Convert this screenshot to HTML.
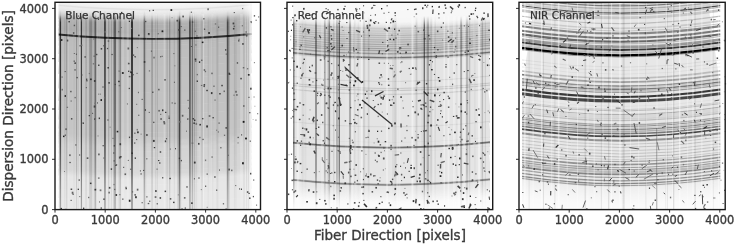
<!DOCTYPE html>
<html><head><meta charset="utf-8"><style>
html,body{margin:0;padding:0;background:#fff;}
body{width:735px;height:244px;overflow:hidden;}
svg{display:block;filter:blur(0.35px);}
</style></head><body>
<svg width="735" height="244" viewBox="0 0 735 244">
<rect width="735" height="244" fill="#fff"/>
<defs><filter id="bl" x="0" y="0" width="1" height="1"><feGaussianBlur stdDeviation="0.4"/></filter><filter id="bd" x="-0.02" y="-0.02" width="1.04" height="1.04"><feGaussianBlur stdDeviation="0.3"/></filter>
<linearGradient id="hg0" x1="0" y1="0" x2="1" y2="0"><stop offset="0" stop-color="#fff" stop-opacity="0"/><stop offset="1" stop-color="#fff" stop-opacity="0.8"/></linearGradient>
<linearGradient id="vg0" x1="0" y1="0" x2="0" y2="1">
<stop offset="0" stop-color="#000" stop-opacity="0"/><stop offset="0.025" stop-color="#000" stop-opacity="0.12"/><stop offset="0.06" stop-color="#000" stop-opacity="1"/>
<stop offset="0.65" stop-color="#000" stop-opacity="0.85"/><stop offset="0.8" stop-color="#000" stop-opacity="0.6"/><stop offset="0.9" stop-color="#000" stop-opacity="0.45"/><stop offset="1" stop-color="#000" stop-opacity="0.35"/>
</linearGradient>
<linearGradient id="vg1" x1="0" y1="0" x2="0" y2="1"><stop offset="0" stop-color="#000" stop-opacity="0"/><stop offset="0.05" stop-color="#000" stop-opacity="1"/><stop offset="0.8" stop-color="#000" stop-opacity="0.8"/><stop offset="0.92" stop-color="#000" stop-opacity="0.2"/><stop offset="1" stop-color="#000" stop-opacity="0"/></linearGradient></defs><clipPath id="c0"><rect x="58.5" y="2.3" width="193.1" height="207.29999999999998"/></clipPath>
<g clip-path="url(#c0)">
<path d="M58.5,-11.62Q155.1,-2.59 251.6,-12.21" stroke="#fafafa" stroke-width="2.10" fill="none"/>
<path d="M58.5,-9.87Q155.1,-0.84 251.6,-10.46" stroke="#f9f9f9" stroke-width="2.60" fill="none"/>
<path d="M58.5,-7.62Q155.1,1.41 251.6,-8.21" stroke="#f8f8f8" stroke-width="3.10" fill="none"/>
<path d="M58.5,-5.12Q155.1,3.91 251.6,-5.71" stroke="#f7f7f7" stroke-width="3.10" fill="none"/>
<path d="M58.5,-2.62Q155.1,6.41 251.6,-3.21" stroke="#f6f6f6" stroke-width="3.10" fill="none"/>
<path d="M58.5,-0.37Q155.1,8.66 251.6,-0.96" stroke="#f5f5f5" stroke-width="2.60" fill="none"/>
<path d="M58.5,1.38Q155.1,10.41 251.6,0.79" stroke="#f4f4f4" stroke-width="2.10" fill="none"/>
<path d="M58.5,2.38Q155.1,11.41 251.6,1.79" stroke="#f3f3f3" stroke-width="1.10" fill="none"/>
<path d="M58.5,3.13Q155.1,12.16 251.6,2.54" stroke="#f2f2f2" stroke-width="1.60" fill="none"/>
<path d="M58.5,3.88Q155.1,12.91 251.6,3.29" stroke="#f1f1f1" stroke-width="1.10" fill="none"/>
<path d="M58.5,4.38Q155.1,13.41 251.6,3.79" stroke="#f0f0f0" stroke-width="1.10" fill="none"/>
<path d="M58.5,4.88Q155.1,13.91 251.6,4.29" stroke="#e9e9e9" stroke-width="1.10" fill="none"/>
<path d="M58.5,5.38Q155.1,14.41 251.6,4.79" stroke="#e2e2e2" stroke-width="1.10" fill="none"/>
<path d="M58.5,5.88Q155.1,14.91 251.6,5.29" stroke="#e1e1e1" stroke-width="1.10" fill="none"/>
<path d="M58.5,6.38Q155.1,15.41 251.6,5.79" stroke="#e7e7e7" stroke-width="1.10" fill="none"/>
<path d="M58.5,6.88Q155.1,15.91 251.6,6.29" stroke="#eeeeee" stroke-width="1.10" fill="none"/>
<path d="M58.5,7.38Q155.1,16.41 251.6,6.79" stroke="#ededed" stroke-width="1.10" fill="none"/>
<path d="M58.5,7.88Q155.1,16.91 251.6,7.29" stroke="#ececec" stroke-width="1.10" fill="none"/>
<path d="M58.5,8.38Q155.1,17.41 251.6,7.79" stroke="#ebebeb" stroke-width="1.10" fill="none"/>
<path d="M58.5,8.88Q155.1,17.91 251.6,8.29" stroke="#eaeaea" stroke-width="1.10" fill="none"/>
<path d="M58.5,9.38Q155.1,18.41 251.6,8.79" stroke="#e8e8e8" stroke-width="1.10" fill="none"/>
<path d="M58.5,9.88Q155.1,18.91 251.6,9.29" stroke="#e7e7e7" stroke-width="1.10" fill="none"/>
<path d="M58.5,10.38Q155.1,19.41 251.6,9.79" stroke="#e6e6e6" stroke-width="1.10" fill="none"/>
<path d="M58.5,10.88Q155.1,19.91 251.6,10.29" stroke="#e4e4e4" stroke-width="1.10" fill="none"/>
<path d="M58.5,11.38Q155.1,20.41 251.6,10.79" stroke="#e1e1e1" stroke-width="1.10" fill="none"/>
<path d="M58.5,11.88Q155.1,20.91 251.6,11.29" stroke="#dfdfdf" stroke-width="1.10" fill="none"/>
<path d="M58.5,12.38Q155.1,21.41 251.6,11.79" stroke="#dcdcdc" stroke-width="1.10" fill="none"/>
<path d="M58.5,12.88Q155.1,21.91 251.6,12.29" stroke="#d9d9d9" stroke-width="1.10" fill="none"/>
<path d="M58.5,13.38Q155.1,22.41 251.6,12.79" stroke="#d7d7d7" stroke-width="1.10" fill="none"/>
<path d="M58.5,13.88Q155.1,22.91 251.6,13.29" stroke="#d4d4d4" stroke-width="1.10" fill="none"/>
<path d="M58.5,14.38Q155.1,23.41 251.6,13.79" stroke="#d0d0d0" stroke-width="1.10" fill="none"/>
<path d="M58.5,14.88Q155.1,23.91 251.6,14.29" stroke="#cdcdcd" stroke-width="1.10" fill="none"/>
<path d="M58.5,15.38Q155.1,24.41 251.6,14.79" stroke="#c9c9c9" stroke-width="1.10" fill="none"/>
<path d="M58.5,15.88Q155.1,24.91 251.6,15.29" stroke="#c5c5c5" stroke-width="1.10" fill="none"/>
<path d="M58.5,16.38Q155.1,25.41 251.6,15.79" stroke="#c2c2c2" stroke-width="1.10" fill="none"/>
<path d="M58.5,16.88Q155.1,25.91 251.6,16.29" stroke="#bebebe" stroke-width="1.10" fill="none"/>
<path d="M58.5,17.38Q155.1,26.41 251.6,16.79" stroke="#bbbbbb" stroke-width="1.10" fill="none"/>
<path d="M58.5,17.88Q155.1,26.91 251.6,17.29" stroke="#b8b8b8" stroke-width="1.10" fill="none"/>
<path d="M58.5,18.38Q155.1,27.41 251.6,17.79" stroke="#b5b5b5" stroke-width="1.10" fill="none"/>
<path d="M58.5,19.38Q155.1,28.41 251.6,18.79" stroke="#b2b2b2" stroke-width="2.10" fill="none"/>
<path d="M58.5,20.88Q155.1,29.91 251.6,20.29" stroke="#b1b1b1" stroke-width="2.10" fill="none"/>
<path d="M58.5,22.88Q155.1,31.91 251.6,22.29" stroke="#b0b0b0" stroke-width="3.10" fill="none"/>
<path d="M58.5,24.88Q155.1,33.91 251.6,24.29" stroke="#afafaf" stroke-width="2.10" fill="none"/>
<path d="M58.5,26.88Q155.1,35.91 251.6,26.29" stroke="#aeaeae" stroke-width="3.10" fill="none"/>
<path d="M58.5,28.63Q155.1,37.66 251.6,28.04" stroke="#adadad" stroke-width="1.60" fill="none"/>
<path d="M58.5,29.38Q155.1,38.41 251.6,28.79" stroke="#aeaeae" stroke-width="1.10" fill="none"/>
<path d="M58.5,29.88Q155.1,38.91 251.6,29.29" stroke="#afafaf" stroke-width="1.10" fill="none"/>
<path d="M58.5,30.38Q155.1,39.41 251.6,29.79" stroke="#b0b0b0" stroke-width="1.10" fill="none"/>
<path d="M58.5,30.88Q155.1,39.91 251.6,30.29" stroke="#b1b1b1" stroke-width="1.10" fill="none"/>
<path d="M58.5,31.63Q155.1,40.66 251.6,31.04" stroke="#b2b2b2" stroke-width="1.60" fill="none"/>
<path d="M58.5,32.38Q155.1,41.41 251.6,31.79" stroke="#b3b3b3" stroke-width="1.10" fill="none"/>
<path d="M58.5,32.88Q155.1,41.91 251.6,32.29" stroke="#b4b4b4" stroke-width="1.10" fill="none"/>
<path d="M58.5,33.38Q155.1,42.41 251.6,32.79" stroke="#b5b5b5" stroke-width="1.10" fill="none"/>
<path d="M58.5,34.13Q155.1,43.16 251.6,33.54" stroke="#b6b6b6" stroke-width="1.60" fill="none"/>
<path d="M58.5,34.88Q155.1,43.91 251.6,34.29" stroke="#b7b7b7" stroke-width="1.10" fill="none"/>
<path d="M58.5,35.88Q155.1,44.91 251.6,35.29" stroke="#b8b8b8" stroke-width="2.10" fill="none"/>
<path d="M58.5,36.88Q155.1,45.91 251.6,36.29" stroke="#b9b9b9" stroke-width="1.10" fill="none"/>
<path d="M58.5,37.88Q155.1,46.91 251.6,37.29" stroke="#bababa" stroke-width="2.10" fill="none"/>
<path d="M58.5,38.88Q155.1,47.91 251.6,38.29" stroke="#bbbbbb" stroke-width="1.10" fill="none"/>
<path d="M58.5,39.88Q155.1,48.91 251.6,39.29" stroke="#bcbcbc" stroke-width="2.10" fill="none"/>
<path d="M58.5,42.88Q155.1,51.91 251.6,42.29" stroke="#bdbdbd" stroke-width="5.10" fill="none"/>
<path d="M58.5,49.38Q155.1,58.41 251.6,48.79" stroke="#bebebe" stroke-width="9.10" fill="none"/>
<path d="M58.5,57.63Q155.1,66.66 251.6,57.04" stroke="#bfbfbf" stroke-width="8.60" fill="none"/>
<path d="M58.5,67.63Q155.1,76.66 251.6,67.04" stroke="#c0c0c0" stroke-width="12.60" fill="none"/>
<path d="M58.5,80.88Q155.1,89.91 251.6,80.29" stroke="#c1c1c1" stroke-width="15.10" fill="none"/>
<path d="M58.5,94.38Q155.1,103.41 251.6,93.79" stroke="#c2c2c2" stroke-width="13.10" fill="none"/>
<path d="M58.5,105.13Q155.1,114.16 251.6,104.54" stroke="#c3c3c3" stroke-width="9.60" fill="none"/>
<path d="M58.5,114.38Q155.1,123.41 251.6,113.79" stroke="#c4c4c4" stroke-width="10.10" fill="none"/>
<path d="M58.5,123.63Q155.1,132.66 251.6,123.04" stroke="#c5c5c5" stroke-width="9.60" fill="none"/>
<path d="M58.5,130.63Q155.1,139.66 251.6,130.04" stroke="#c6c6c6" stroke-width="5.60" fill="none"/>
<path d="M58.5,133.63Q155.1,142.66 251.6,133.04" stroke="#c7c7c7" stroke-width="1.60" fill="none"/>
<path d="M58.5,134.63Q155.1,143.66 251.6,134.04" stroke="#c8c8c8" stroke-width="1.60" fill="none"/>
<path d="M58.5,135.38Q155.1,144.41 251.6,134.79" stroke="#c9c9c9" stroke-width="1.10" fill="none"/>
<path d="M58.5,136.13Q155.1,145.16 251.6,135.54" stroke="#cacaca" stroke-width="1.60" fill="none"/>
<path d="M58.5,137.13Q155.1,146.16 251.6,136.54" stroke="#cbcbcb" stroke-width="1.60" fill="none"/>
<path d="M58.5,138.13Q155.1,147.16 251.6,137.54" stroke="#cccccc" stroke-width="1.60" fill="none"/>
<path d="M58.5,138.88Q155.1,147.91 251.6,138.29" stroke="#cdcdcd" stroke-width="1.10" fill="none"/>
<path d="M58.5,139.63Q155.1,148.66 251.6,139.04" stroke="#cecece" stroke-width="1.60" fill="none"/>
<path d="M58.5,140.63Q155.1,149.66 251.6,140.04" stroke="#cfcfcf" stroke-width="1.60" fill="none"/>
<path d="M58.5,141.38Q155.1,150.41 251.6,140.79" stroke="#d0d0d0" stroke-width="1.10" fill="none"/>
<path d="M58.5,142.13Q155.1,151.16 251.6,141.54" stroke="#d1d1d1" stroke-width="1.60" fill="none"/>
<path d="M58.5,143.13Q155.1,152.16 251.6,142.54" stroke="#d2d2d2" stroke-width="1.60" fill="none"/>
<path d="M58.5,145.38Q155.1,154.41 251.6,144.79" stroke="#d3d3d3" stroke-width="4.10" fill="none"/>
<path d="M58.5,150.13Q155.1,159.16 251.6,149.54" stroke="#d4d4d4" stroke-width="6.60" fill="none"/>
<path d="M58.5,156.38Q155.1,165.41 251.6,155.79" stroke="#d5d5d5" stroke-width="7.10" fill="none"/>
<path d="M58.5,162.63Q155.1,171.66 251.6,162.04" stroke="#d6d6d6" stroke-width="6.60" fill="none"/>
<path d="M58.5,167.38Q155.1,176.41 251.6,166.79" stroke="#d7d7d7" stroke-width="4.10" fill="none"/>
<path d="M58.5,169.38Q155.1,178.41 251.6,168.79" stroke="#d8d8d8" stroke-width="1.10" fill="none"/>
<path d="M58.5,169.88Q155.1,178.91 251.6,169.29" stroke="#d9d9d9" stroke-width="1.10" fill="none"/>
<path d="M58.5,170.38Q155.1,179.41 251.6,169.79" stroke="#dadada" stroke-width="1.10" fill="none"/>
<path d="M58.5,170.88Q155.1,179.91 251.6,170.29" stroke="#dbdbdb" stroke-width="1.10" fill="none"/>
<path d="M58.5,171.38Q155.1,180.41 251.6,170.79" stroke="#dcdcdc" stroke-width="1.10" fill="none"/>
<path d="M58.5,171.88Q155.1,180.91 251.6,171.29" stroke="#dddddd" stroke-width="1.10" fill="none"/>
<path d="M58.5,172.38Q155.1,181.41 251.6,171.79" stroke="#dedede" stroke-width="1.10" fill="none"/>
<path d="M58.5,172.88Q155.1,181.91 251.6,172.29" stroke="#e0e0e0" stroke-width="1.10" fill="none"/>
<path d="M58.5,173.38Q155.1,182.41 251.6,172.79" stroke="#e1e1e1" stroke-width="1.10" fill="none"/>
<path d="M58.5,173.88Q155.1,182.91 251.6,173.29" stroke="#e2e2e2" stroke-width="1.10" fill="none"/>
<path d="M58.5,174.38Q155.1,183.41 251.6,173.79" stroke="#e3e3e3" stroke-width="1.10" fill="none"/>
<path d="M58.5,174.88Q155.1,183.91 251.6,174.29" stroke="#e4e4e4" stroke-width="1.10" fill="none"/>
<path d="M58.5,175.38Q155.1,184.41 251.6,174.79" stroke="#e5e5e5" stroke-width="1.10" fill="none"/>
<path d="M58.5,177.88Q155.1,186.91 251.6,177.29" stroke="#e6e6e6" stroke-width="5.10" fill="none"/>
<path d="M58.5,184.63Q155.1,193.66 251.6,184.04" stroke="#e7e7e7" stroke-width="9.60" fill="none"/>
<path d="M58.5,193.38Q155.1,202.41 251.6,192.79" stroke="#e8e8e8" stroke-width="9.10" fill="none"/>
<path d="M58.5,202.13Q155.1,211.16 251.6,201.54" stroke="#e9e9e9" stroke-width="9.60" fill="none"/>
<path d="M58.5,208.88Q155.1,217.91 251.6,208.29" stroke="#eaeaea" stroke-width="5.10" fill="none"/>
<path d="M58.5,34.53Q155.1,43.56 251.6,33.94" stroke="#2a2a2a" stroke-width="1.9" fill="none"/>
<rect x="67.6" y="14" width="1.0" height="205" fill="#fff" opacity="0.2"/>
<rect x="77.8" y="14" width="2.4" height="205" fill="#fff" opacity="0.3"/>
<rect x="107.4" y="14" width="1.4" height="205" fill="#fff" opacity="0.2"/>
<rect x="122.0" y="14" width="2" height="205" fill="#fff" opacity="0.15"/>
<rect x="127.0" y="14" width="2" height="205" fill="#fff" opacity="0.15"/>
<rect x="133.0" y="14" width="10" height="205" fill="#fff" opacity="0.08"/>
<rect x="155.4" y="14" width="1.4" height="205" fill="#fff" opacity="0.2"/>
<rect x="163.6" y="14" width="1.7" height="205" fill="#fff" opacity="0.22"/>
<rect x="192.8" y="14" width="1.3" height="205" fill="#fff" opacity="0.3"/>
<rect x="201.7" y="14" width="2.4" height="205" fill="#fff" opacity="0.3"/>
<rect x="211.6" y="14" width="1.7" height="205" fill="#fff" opacity="0.2"/>
<rect x="240.2" y="14" width="2.7" height="205" fill="#fff" opacity="0.2"/>
<rect x="145.9" y="14" width="1.1" height="205" fill="#fff" opacity="0.08"/>
<rect x="156.6" y="10" width="1.1" height="205" fill="url(#vg0)" opacity="0.15"/>
<rect x="180.1" y="10" width="1.3" height="205" fill="url(#vg0)" opacity="0.12"/>
<rect x="76.0" y="10" width="1.3" height="205" fill="url(#vg0)" opacity="0.09"/>
<rect x="248.2" y="10" width="1.4" height="205" fill="url(#vg0)" opacity="0.17"/>
<rect x="88.9" y="10" width="0.7" height="205" fill="url(#vg0)" opacity="0.09"/>
<rect x="95.2" y="10" width="0.9" height="205" fill="url(#vg0)" opacity="0.14"/>
<rect x="143.6" y="10" width="1.3" height="205" fill="url(#vg0)" opacity="0.17"/>
<rect x="155.0" y="10" width="1.2" height="205" fill="url(#vg0)" opacity="0.12"/>
<rect x="251.1" y="14" width="1.4" height="205" fill="#fff" opacity="0.10"/>
<rect x="119.4" y="10" width="0.9" height="205" fill="url(#vg0)" opacity="0.09"/>
<rect x="206.5" y="14" width="1.0" height="205" fill="#fff" opacity="0.08"/>
<rect x="243.5" y="10" width="1.3" height="205" fill="url(#vg0)" opacity="0.11"/>
<rect x="234.3" y="14" width="1.0" height="205" fill="#fff" opacity="0.08"/>
<rect x="72.6" y="14" width="1.1" height="205" fill="#fff" opacity="0.07"/>
<rect x="75.3" y="14" width="0.9" height="205" fill="#fff" opacity="0.10"/>
<rect x="81.3" y="10" width="0.9" height="205" fill="url(#vg0)" opacity="0.09"/>
<rect x="212.4" y="10" width="0.8" height="205" fill="url(#vg0)" opacity="0.14"/>
<rect x="95.3" y="10" width="1.2" height="205" fill="url(#vg0)" opacity="0.17"/>
<rect x="81.0" y="10" width="1.0" height="205" fill="url(#vg0)" opacity="0.12"/>
<rect x="246.0" y="10" width="1.3" height="205" fill="url(#vg0)" opacity="0.20"/>
<rect x="99.2" y="14" width="1.0" height="205" fill="#fff" opacity="0.09"/>
<rect x="77.9" y="10" width="1.4" height="205" fill="url(#vg0)" opacity="0.12"/>
<rect x="207.7" y="10" width="0.9" height="205" fill="url(#vg0)" opacity="0.09"/>
<rect x="75.9" y="10" width="1.1" height="205" fill="url(#vg0)" opacity="0.16"/>
<rect x="130.3" y="14" width="1.0" height="205" fill="#fff" opacity="0.08"/>
<rect x="169.4" y="10" width="1.3" height="205" fill="url(#vg0)" opacity="0.10"/>
<rect x="233.9" y="10" width="1.3" height="205" fill="url(#vg0)" opacity="0.11"/>
<rect x="201.3" y="10" width="1.4" height="205" fill="url(#vg0)" opacity="0.21"/>
<rect x="228.9" y="10" width="1.1" height="205" fill="url(#vg0)" opacity="0.09"/>
<rect x="66.0" y="10" width="1.4" height="205" fill="url(#vg0)" opacity="0.18"/>
<rect x="108.1" y="10" width="1.3" height="205" fill="url(#vg0)" opacity="0.12"/>
<rect x="92.4" y="10" width="1.2" height="205" fill="url(#vg0)" opacity="0.11"/>
<rect x="166.5" y="10" width="1.3" height="205" fill="url(#vg0)" opacity="0.12"/>
<rect x="235.6" y="10" width="0.8" height="205" fill="url(#vg0)" opacity="0.12"/>
<rect x="144.6" y="10" width="0.7" height="205" fill="url(#vg0)" opacity="0.13"/>
<rect x="169.0" y="10" width="0.8" height="205" fill="url(#vg0)" opacity="0.20"/>
<rect x="247.8" y="10" width="1.2" height="205" fill="url(#vg0)" opacity="0.16"/>
<rect x="85.6" y="10" width="0.7" height="205" fill="url(#vg0)" opacity="0.21"/>
<rect x="193.9" y="10" width="1.4" height="205" fill="url(#vg0)" opacity="0.17"/>
<rect x="151.6" y="10" width="1.2" height="205" fill="url(#vg0)" opacity="0.22"/>
<rect x="73.0" y="14" width="1.1" height="205" fill="#fff" opacity="0.11"/>
<rect x="200.8" y="14" width="1.2" height="205" fill="#fff" opacity="0.11"/>
<rect x="126.4" y="14" width="1.2" height="205" fill="#fff" opacity="0.11"/>
<rect x="139.1" y="14" width="1.3" height="205" fill="#fff" opacity="0.09"/>
<rect x="179.2" y="10" width="1.0" height="205" fill="url(#vg0)" opacity="0.17"/>
<rect x="74.0" y="14" width="1.1" height="205" fill="#fff" opacity="0.11"/>
<rect x="199.1" y="14" width="1.0" height="205" fill="#fff" opacity="0.09"/>
<rect x="143.6" y="10" width="1.3" height="205" fill="url(#vg0)" opacity="0.19"/>
<rect x="64.3" y="10" width="1.1" height="205" fill="url(#vg0)" opacity="0.11"/>
<rect x="193.3" y="10" width="1.0" height="205" fill="url(#vg0)" opacity="0.21"/>
<rect x="107.9" y="10" width="0.7" height="205" fill="url(#vg0)" opacity="0.17"/>
<rect x="97.6" y="14" width="0.8" height="205" fill="#fff" opacity="0.10"/>
<rect x="143.8" y="10" width="1.3" height="205" fill="url(#vg0)" opacity="0.17"/>
<rect x="96.8" y="14" width="1.0" height="205" fill="#fff" opacity="0.11"/>
<rect x="228.5" y="10" width="1.0" height="205" fill="url(#vg0)" opacity="0.12"/>
<rect x="84.8" y="14" width="1.0" height="205" fill="#fff" opacity="0.11"/>
<rect x="195.8" y="10" width="1.4" height="205" fill="url(#vg0)" opacity="0.10"/>
<rect x="145.5" y="10" width="0.9" height="205" fill="url(#vg0)" opacity="0.14"/>
<rect x="179.3" y="10" width="1.0" height="205" fill="url(#vg0)" opacity="0.20"/>
<rect x="248.1" y="10" width="1.0" height="205" fill="url(#vg0)" opacity="0.08"/>
<rect x="227.0" y="14" width="0.7" height="205" fill="#fff" opacity="0.09"/>
<rect x="118.2" y="10" width="1.3" height="205" fill="url(#vg0)" opacity="0.10"/>
<rect x="146.3" y="14" width="0.7" height="205" fill="#fff" opacity="0.07"/>
<rect x="85.7" y="10" width="0.7" height="205" fill="url(#vg0)" opacity="0.14"/>
<rect x="180.1" y="14" width="1.2" height="205" fill="#fff" opacity="0.12"/>
<rect x="190.7" y="10" width="0.8" height="205" fill="url(#vg0)" opacity="0.11"/>
<rect x="60.6" y="14" width="1.0" height="205" fill="#fff" opacity="0.06"/>
<rect x="111.1" y="10" width="0.9" height="205" fill="url(#vg0)" opacity="0.15"/>
<rect x="177.1" y="10" width="1.2" height="205" fill="url(#vg0)" opacity="0.19"/>
<rect x="59.7" y="10" width="1.4" height="205" fill="url(#vg0)" opacity="0.75"/>
<rect x="73.5" y="10" width="1.0" height="205" fill="url(#vg0)" opacity="0.12"/>
<rect x="80.8" y="10" width="1.2" height="205" fill="url(#vg0)" opacity="0.65"/>
<rect x="89.4" y="10" width="2.7" height="205" fill="url(#vg0)" opacity="0.25"/>
<rect x="94.5" y="10" width="1.1" height="205" fill="url(#vg0)" opacity="0.55"/>
<rect x="104.1" y="10" width="1.7" height="205" fill="url(#vg0)" opacity="0.68"/>
<rect x="113.1" y="10" width="3.0" height="205" fill="url(#vg0)" opacity="0.25"/>
<rect x="114.4" y="10" width="1.2" height="205" fill="url(#vg0)" opacity="0.5"/>
<rect x="119.7" y="10" width="1.1" height="205" fill="url(#vg0)" opacity="0.35"/>
<rect x="131.0" y="10" width="2.0" height="205" fill="url(#vg0)" opacity="0.72"/>
<rect x="151.3" y="10" width="0.8" height="205" fill="url(#vg0)" opacity="0.1"/>
<rect x="173.8" y="10" width="1.0" height="205" fill="url(#vg0)" opacity="0.1"/>
<rect x="178.6" y="10" width="1.7" height="205" fill="url(#vg0)" opacity="0.65"/>
<rect x="189.1" y="10" width="1.6" height="205" fill="url(#vg0)" opacity="0.6"/>
<rect x="191.8" y="10" width="1.1" height="205" fill="url(#vg0)" opacity="0.5"/>
<rect x="216.4" y="10" width="2.0" height="205" fill="url(#vg0)" opacity="0.1"/>
<rect x="226.8" y="10" width="1.7" height="205" fill="url(#vg0)" opacity="0.6"/>
<rect x="243" y="0" width="9" height="215" fill="url(#hg0)"/>
<g filter="url(#bd)">
<rect x="233.5" y="25.6" width="1.6" height="1.4" fill="#656565"/>
<rect x="146.1" y="134.1" width="1.6" height="1.8" fill="#4c4c4c"/>
<rect x="228.3" y="168.6" width="1.7" height="1.9" fill="#525252"/>
<rect x="98.1" y="153.5" width="1.6" height="1.8" fill="#5f5f5f"/>
<rect x="99.7" y="189.4" width="1.7" height="1.8" fill="#767676"/>
<rect x="211.2" y="72.6" width="1.6" height="1.6" fill="#6e6e6e"/>
<rect x="74.5" y="96.9" width="1.3" height="1.4" fill="#686868"/>
<rect x="64.0" y="171.1" width="1.0" height="0.8" fill="#6a6a6a"/>
<rect x="123.2" y="166.8" width="1.0" height="1.1" fill="#3c3c3c"/>
<rect x="198.2" y="177.3" width="1.5" height="1.5" fill="#747474"/>
<rect x="241.8" y="25.3" width="1.1" height="1.0" fill="#575757"/>
<rect x="199.2" y="136.8" width="1.3" height="1.4" fill="#6d6d6d"/>
<rect x="118.7" y="84.9" width="1.6" height="1.4" fill="#717171"/>
<rect x="222.8" y="203.2" width="1.3" height="1.2" fill="#5a5a5a"/>
<rect x="162.0" y="109.4" width="1.4" height="1.8" fill="#343434"/>
<rect x="158.1" y="88.8" width="1.5" height="1.6" fill="#595959"/>
<rect x="191.9" y="21.3" width="1.3" height="1.7" fill="#4f4f4f"/>
<rect x="236.8" y="62.3" width="1.3" height="1.3" fill="#3b3b3b"/>
<rect x="216.0" y="189.6" width="1.3" height="1.1" fill="#484848"/>
<rect x="177.8" y="194.5" width="1.0" height="0.8" fill="#696969"/>
<rect x="96.0" y="53.8" width="1.4" height="1.4" fill="#494949"/>
<rect x="178.2" y="29.1" width="1.5" height="1.6" fill="#3b3b3b"/>
<rect x="106.9" y="47.9" width="1.3" height="1.3" fill="#515151"/>
<rect x="138.3" y="114.7" width="1.0" height="1.1" fill="#404040"/>
<rect x="181.8" y="114.8" width="1.6" height="1.9" fill="#5d5d5d"/>
<rect x="103.4" y="157.3" width="1.5" height="1.5" fill="#717171"/>
<rect x="119.3" y="194.0" width="1.1" height="1.3" fill="#787878"/>
<rect x="84.4" y="56.3" width="1.5" height="1.3" fill="#444444"/>
<rect x="219.2" y="93.0" width="1.5" height="1.5" fill="#3b3b3b"/>
<rect x="190.8" y="11.6" width="1.1" height="1.3" fill="#626262"/>
<rect x="245.5" y="31.3" width="1.3" height="1.4" fill="#676767"/>
<rect x="190.9" y="46.1" width="1.0" height="0.8" fill="#393939"/>
<rect x="165.0" y="111.8" width="1.4" height="1.2" fill="#3c3c3c"/>
<rect x="97.9" y="177.4" width="1.7" height="1.4" fill="#737373"/>
<rect x="70.5" y="199.8" width="1.3" height="1.2" fill="#686868"/>
<rect x="148.7" y="111.9" width="1.2" height="1.0" fill="#5c5c5c"/>
<rect x="193.9" y="178.2" width="1.0" height="1.2" fill="#525252"/>
<rect x="136.8" y="47.3" width="1.0" height="0.8" fill="#565656"/>
<rect x="231.0" y="169.6" width="1.5" height="1.6" fill="#6e6e6e"/>
<rect x="136.6" y="128.9" width="1.3" height="1.6" fill="#777777"/>
<rect x="108.4" y="191.7" width="1.5" height="1.8" fill="#686868"/>
<rect x="136.8" y="188.7" width="1.6" height="1.9" fill="#636363"/>
<rect x="206.3" y="89.8" width="1.5" height="1.4" fill="#373737"/>
<rect x="149.0" y="10.1" width="1.2" height="1.3" fill="#5f5f5f"/>
<rect x="103.3" y="198.4" width="1.4" height="1.6" fill="#4a4a4a"/>
<rect x="168.5" y="115.5" width="1.2" height="1.4" fill="#787878"/>
<rect x="193.9" y="161.6" width="1.7" height="1.9" fill="#343434"/>
<rect x="201.2" y="59.7" width="1.2" height="1.1" fill="#363636"/>
<rect x="131.0" y="27.8" width="1.1" height="1.2" fill="#717171"/>
<rect x="156.6" y="203.0" width="1.4" height="1.5" fill="#787878"/>
<rect x="214.8" y="23.4" width="1.4" height="1.1" fill="#676767"/>
<rect x="238.1" y="40.2" width="1.3" height="1.3" fill="#3e3e3e"/>
<rect x="176.5" y="19.8" width="1.7" height="1.8" fill="#4f4f4f"/>
<rect x="173.9" y="81.7" width="1.1" height="1.2" fill="#606060"/>
<rect x="113.2" y="152.5" width="1.1" height="1.0" fill="#333333"/>
<rect x="66.8" y="39.6" width="1.5" height="1.9" fill="#4d4d4d"/>
<rect x="203.0" y="18.1" width="1.7" height="1.4" fill="#747474"/>
<rect x="233.4" y="94.6" width="1.3" height="1.2" fill="#767676"/>
<rect x="159.6" y="197.0" width="1.5" height="1.9" fill="#535353"/>
<rect x="216.2" y="129.7" width="1.0" height="1.0" fill="#5e5e5e"/>
<rect x="97.8" y="18.5" width="1.3" height="1.4" fill="#3b3b3b"/>
<rect x="187.5" y="99.8" width="1.1" height="1.1" fill="#5b5b5b"/>
<rect x="208.7" y="115.0" width="1.7" height="2.0" fill="#757575"/>
<rect x="104.5" y="31.0" width="1.6" height="1.8" fill="#696969"/>
<rect x="127.9" y="62.7" width="1.4" height="1.6" fill="#5a5a5a"/>
<rect x="180.8" y="159.9" width="1.1" height="1.4" fill="#434343"/>
<rect x="235.3" y="185.2" width="0.9" height="0.9" fill="#363636"/>
<rect x="140.6" y="133.7" width="1.0" height="0.8" fill="#585858"/>
<rect x="75.2" y="144.3" width="1.3" height="1.3" fill="#5e5e5e"/>
<rect x="150.9" y="50.5" width="1.2" height="1.4" fill="#666666"/>
<rect x="72.9" y="32.1" width="1.5" height="1.8" fill="#5e5e5e"/>
<rect x="99.7" y="93.6" width="1.1" height="1.1" fill="#6b6b6b"/>
<rect x="184.7" y="207.4" width="1.2" height="1.4" fill="#585858"/>
<rect x="236.3" y="94.2" width="1.2" height="1.5" fill="#393939"/>
<rect x="73.7" y="24.7" width="1.4" height="1.5" fill="#545454"/>
<rect x="116.2" y="164.3" width="1.0" height="1.1" fill="#414141"/>
<rect x="74.3" y="69.2" width="1.5" height="1.4" fill="#636363"/>
<rect x="86.1" y="80.1" width="1.5" height="1.3" fill="#4c4c4c"/>
<rect x="195.5" y="122.8" width="1.6" height="2.1" fill="#747474"/>
<rect x="143.1" y="169.9" width="1.1" height="1.1" fill="#484848"/>
<rect x="239.0" y="188.4" width="1.1" height="1.1" fill="#4b4b4b"/>
<rect x="128.7" y="87.8" width="1.2" height="1.3" fill="#404040"/>
<rect x="212.4" y="117.0" width="1.6" height="1.4" fill="#595959"/>
<rect x="205.1" y="185.6" width="1.1" height="1.2" fill="#343434"/>
<rect x="163.6" y="122.4" width="1.7" height="2.0" fill="#606060"/>
<rect x="70.9" y="118.2" width="1.5" height="1.3" fill="#383838"/>
<rect x="200.8" y="189.3" width="1.0" height="0.8" fill="#5e5e5e"/>
<rect x="202.5" y="138.8" width="1.1" height="1.3" fill="#414141"/>
<rect x="159.2" y="162.2" width="1.2" height="1.6" fill="#4a4a4a"/>
<rect x="188.3" y="107.5" width="1.3" height="1.5" fill="#646464"/>
<rect x="235.2" y="90.8" width="1.6" height="1.9" fill="#616161"/>
<rect x="214.1" y="176.1" width="1.6" height="1.8" fill="#757575"/>
<rect x="159.7" y="151.2" width="1.5" height="1.6" fill="#505050"/>
<rect x="86.7" y="157.4" width="1.7" height="1.5" fill="#4c4c4c"/>
<rect x="98.0" y="93.7" width="1.1" height="0.9" fill="#767676"/>
<rect x="118.1" y="31.1" width="1.4" height="1.3" fill="#686868"/>
<rect x="70.5" y="100.5" width="1.4" height="1.1" fill="#727272"/>
<rect x="79.5" y="45.2" width="1.1" height="1.2" fill="#424242"/>
<rect x="173.4" y="53.2" width="1.0" height="0.9" fill="#464646"/>
<rect x="204.8" y="70.8" width="1.3" height="1.4" fill="#6b6b6b"/>
<rect x="108.8" y="186.9" width="1.6" height="1.8" fill="#4a4a4a"/>
<rect x="243.3" y="105.3" width="1.1" height="1.4" fill="#353535"/>
<rect x="213.3" y="85.6" width="1.3" height="1.2" fill="#565656"/>
<rect x="249.7" y="140.6" width="1.1" height="1.1" fill="#333333"/>
<rect x="130.2" y="168.6" width="1.5" height="1.3" fill="#5c5c5c"/>
<rect x="88.8" y="72.9" width="1.1" height="1.2" fill="#6f6f6f"/>
<rect x="181.5" y="208.2" width="1.1" height="1.0" fill="#575757"/>
<rect x="207.3" y="8.3" width="1.6" height="1.9" fill="#6d6d6d"/>
<rect x="74.4" y="62.4" width="1.5" height="1.5" fill="#393939"/>
<rect x="149.0" y="200.6" width="1.4" height="1.3" fill="#6e6e6e"/>
<rect x="210.9" y="92.1" width="1.6" height="2.0" fill="#383838"/>
<rect x="98.7" y="117.5" width="1.3" height="1.6" fill="#3d3d3d"/>
<rect x="118.6" y="70.6" width="1.0" height="1.0" fill="#474747"/>
<rect x="196.6" y="80.5" width="1.4" height="1.4" fill="#393939"/>
<rect x="147.7" y="202.9" width="1.6" height="1.3" fill="#606060"/>
<rect x="131.3" y="151.1" width="1.1" height="1.1" fill="#595959"/>
<rect x="60.5" y="207.9" width="1.5" height="1.7" fill="#404040"/>
<rect x="114.6" y="83.8" width="1.3" height="1.3" fill="#474747"/>
<rect x="134.2" y="142.4" width="1.1" height="1.3" fill="#404040"/>
<rect x="122.1" y="198.5" width="1.4" height="1.3" fill="#656565"/>
<rect x="218.2" y="26.6" width="1.0" height="1.2" fill="#393939"/>
<rect x="195.3" y="44.3" width="1.2" height="1.3" fill="#6d6d6d"/>
<rect x="75.9" y="53.7" width="1.0" height="1.0" fill="#3b3b3b"/>
<rect x="72.5" y="193.6" width="1.2" height="1.4" fill="#565656"/>
<rect x="206.6" y="173.5" width="1.2" height="1.2" fill="#494949"/>
<rect x="61.5" y="88.8" width="1.5" height="1.7" fill="#777777"/>
<rect x="186.0" y="130.7" width="0.9" height="0.9" fill="#494949"/>
<rect x="184.2" y="29.4" width="1.2" height="1.4" fill="#565656"/>
<rect x="217.8" y="131.3" width="1.0" height="1.3" fill="#686868"/>
<rect x="164.4" y="79.1" width="1.3" height="1.5" fill="#3c3c3c"/>
<rect x="249.0" y="112.0" width="1.5" height="1.3" fill="#6c6c6c"/>
<rect x="241.0" y="134.4" width="1.1" height="1.0" fill="#383838"/>
<rect x="169.8" y="148.5" width="1.2" height="1.1" fill="#737373"/>
<rect x="147.9" y="33.0" width="1.7" height="2.1" fill="#3b3b3b"/>
<rect x="163.4" y="121.0" width="1.3" height="1.7" fill="#454545"/>
<rect x="250.1" y="172.8" width="1.4" height="1.7" fill="#3b3b3b"/>
<rect x="114.2" y="188.8" width="1.1" height="1.3" fill="#5a5a5a"/>
<rect x="94.3" y="118.4" width="1.0" height="0.9" fill="#343434"/>
<rect x="249.1" y="197.4" width="1.4" height="1.6" fill="#484848"/>
<rect x="200.9" y="84.9" width="1.4" height="1.1" fill="#6a6a6a"/>
<rect x="97.0" y="102.4" width="1.0" height="1.1" fill="#4d4d4d"/>
<rect x="92.0" y="112.8" width="1.1" height="1.1" fill="#5a5a5a"/>
<rect x="182.4" y="15.6" width="1.4" height="1.8" fill="#3c3c3c"/>
<rect x="174.4" y="102.7" width="1.2" height="1.4" fill="#5e5e5e"/>
<rect x="204.9" y="159.5" width="1.3" height="1.6" fill="#787878"/>
<rect x="223.6" y="90.5" width="1.2" height="1.6" fill="#5a5a5a"/>
<rect x="160.1" y="113.8" width="1.2" height="1.2" fill="#717171"/>
<rect x="69.1" y="154.3" width="1.6" height="1.8" fill="#656565"/>
<rect x="203.7" y="69.4" width="1.4" height="1.2" fill="#373737"/>
<rect x="144.8" y="109.3" width="1.2" height="1.4" fill="#363636"/>
<rect x="160.1" y="56.2" width="1.1" height="1.1" fill="#4e4e4e"/>
<rect x="71.7" y="191.7" width="1.7" height="2.1" fill="#616161"/>
<rect x="139.9" y="170.3" width="1.1" height="1.2" fill="#666666"/>
<rect x="232.9" y="27.9" width="1.5" height="1.6" fill="#3b3b3b"/>
<rect x="242.1" y="8.1" width="1.1" height="1.1" fill="#474747"/>
<rect x="70.6" y="188.5" width="1.6" height="1.5" fill="#4e4e4e"/>
<rect x="171.6" y="17.3" width="0.9" height="0.9" fill="#717171"/>
<rect x="154.7" y="196.3" width="1.7" height="1.5" fill="#535353"/>
<rect x="115.5" y="194.0" width="1.6" height="2.0" fill="#404040"/>
<rect x="126.9" y="103.3" width="1.0" height="1.3" fill="#707070"/>
<rect x="97.5" y="135.5" width="1.1" height="0.9" fill="#707070"/>
<rect x="79.0" y="154.3" width="1.2" height="1.4" fill="#717171"/>
<rect x="196.2" y="35.2" width="1.5" height="1.5" fill="#747474"/>
<rect x="73.8" y="53.0" width="1.1" height="1.0" fill="#646464"/>
<rect x="93.5" y="55.5" width="1.4" height="1.4" fill="#696969"/>
<rect x="186.3" y="186.3" width="1.4" height="1.3" fill="#424242"/>
<rect x="237.5" y="142.5" width="1.1" height="0.9" fill="#5f5f5f"/>
<rect x="248.3" y="96.8" width="1.3" height="1.1" fill="#575757"/>
<rect x="174.3" y="65.4" width="1.1" height="0.9" fill="#6a6a6a"/>
<rect x="113.6" y="160.3" width="1.1" height="1.2" fill="#464646"/>
<rect x="94.5" y="188.8" width="1.7" height="1.7" fill="#343434"/>
<rect x="203.4" y="85.6" width="1.6" height="1.5" fill="#555555"/>
<rect x="165.9" y="138.0" width="1.2" height="1.4" fill="#606060"/>
<rect x="158.3" y="109.9" width="1.6" height="1.7" fill="#626262"/>
<rect x="242.2" y="43.1" width="1.5" height="1.7" fill="#3e3e3e"/>
<rect x="103.9" y="96.8" width="1.5" height="1.8" fill="#696969"/>
<rect x="104.1" y="106.6" width="1.1" height="1.1" fill="#5b5b5b"/>
<rect x="65.3" y="128.3" width="1.5" height="1.8" fill="#5a5a5a"/>
<rect x="93.3" y="38.6" width="0.9" height="0.9" fill="#555555"/>
<rect x="143.8" y="61.0" width="1.5" height="1.9" fill="#373737"/>
<rect x="168.4" y="117.5" width="1.5" height="1.3" fill="#434343"/>
<rect x="118.6" y="16.5" width="1.2" height="1.2" fill="#5d5d5d"/>
<rect x="109.6" y="126.7" width="1.0" height="0.9" fill="#6b6b6b"/>
<rect x="107.7" y="40.2" width="1.5" height="1.7" fill="#6c6c6c"/>
<rect x="70.3" y="90.8" width="1.2" height="1.5" fill="#414141"/>
<rect x="66.6" y="106.7" width="1.5" height="1.3" fill="#777777"/>
<rect x="146.4" y="158.2" width="0.9" height="1.2" fill="#434343"/>
<rect x="85.8" y="87.2" width="1.1" height="1.0" fill="#505050"/>
<rect x="65.1" y="208.8" width="1.5" height="1.4" fill="#656565"/>
<rect x="107.4" y="119.3" width="1.1" height="1.4" fill="#525252"/>
<rect x="128.8" y="75.9" width="1.7" height="1.4" fill="#5d5d5d"/>
<rect x="136.3" y="139.0" width="0.9" height="1.1" fill="#4a4a4a"/>
<rect x="225.4" y="127.1" width="1.6" height="1.6" fill="#525252"/>
<rect x="221.3" y="84.8" width="1.5" height="1.5" fill="#414141"/>
<rect x="94.0" y="118.8" width="1.0" height="0.9" fill="#404040"/>
<rect x="148.8" y="70.2" width="1.3" height="1.4" fill="#787878"/>
<rect x="225.1" y="49.2" width="1.2" height="1.4" fill="#373737"/>
<rect x="128.6" y="63.3" width="0.9" height="0.9" fill="#3f3f3f"/>
<rect x="134.4" y="194.2" width="1.5" height="1.4" fill="#454545"/>
<rect x="88.1" y="196.8" width="1.2" height="1.4" fill="#686868"/>
<rect x="233.7" y="12.1" width="1.2" height="1.0" fill="#4d4d4d"/>
<rect x="228.9" y="73.6" width="1.5" height="1.3" fill="#565656"/>
<rect x="134.6" y="56.0" width="0.9" height="1.0" fill="#3d3d3d"/>
<rect x="64.6" y="71.0" width="1.2" height="1.1" fill="#585858"/>
<rect x="194.9" y="60.5" width="1.5" height="1.3" fill="#616161"/>
<rect x="98.0" y="64.5" width="1.5" height="1.5" fill="#4e4e4e"/>
<rect x="225.7" y="53.6" width="1.1" height="1.0" fill="#4a4a4a"/>
<rect x="66.4" y="12.9" width="1.4" height="1.7" fill="#5a5a5a"/>
<rect x="246.9" y="68.1" width="1.4" height="1.3" fill="#727272"/>
<rect x="191.6" y="142.4" width="1.7" height="1.5" fill="#6f6f6f"/>
<rect x="180.6" y="26.1" width="1.2" height="1.0" fill="#4d4d4d"/>
<rect x="132.5" y="74.2" width="1.3" height="1.1" fill="#464646"/>
<rect x="136.2" y="103.8" width="1.0" height="1.0" fill="#616161"/>
<rect x="76.5" y="76.9" width="1.2" height="1.4" fill="#3d3d3d"/>
<rect x="193.9" y="119.5" width="1.5" height="1.5" fill="#343434"/>
<rect x="128.8" y="20.7" width="1.2" height="1.3" fill="#363636"/>
<rect x="171.6" y="102.5" width="1.2" height="0.9" fill="#444444"/>
<rect x="125.5" y="187.8" width="1.4" height="1.5" fill="#444444"/>
<rect x="94.4" y="102.6" width="1.4" height="1.4" fill="#757575"/>
<rect x="169.8" y="198.0" width="1.5" height="1.7" fill="#5e5e5e"/>
<rect x="137.9" y="91.8" width="1.1" height="1.4" fill="#6c6c6c"/>
<rect x="132.2" y="191.4" width="0.9" height="1.0" fill="#3c3c3c"/>
<rect x="118.1" y="80.7" width="1.7" height="1.5" fill="#3c3c3c"/>
<rect x="102.6" y="145.1" width="1.1" height="1.2" fill="#323232"/>
<rect x="134.6" y="56.2" width="1.3" height="1.4" fill="#606060"/>
<rect x="179.1" y="121.1" width="1.6" height="1.5" fill="#767676"/>
<rect x="125.4" y="186.7" width="1.2" height="1.3" fill="#646464"/>
<rect x="191.1" y="202.3" width="1.6" height="1.7" fill="#3d3d3d"/>
<rect x="153.2" y="121.7" width="1.2" height="1.4" fill="#464646"/>
<rect x="161.6" y="55.8" width="1.1" height="1.0" fill="#494949"/>
<rect x="157.7" y="33.4" width="1.0" height="0.8" fill="#373737"/>
<rect x="194.6" y="30.7" width="1.3" height="1.3" fill="#686868"/>
<rect x="89.9" y="182.6" width="1.6" height="1.5" fill="#363636"/>
<rect x="156.5" y="168.6" width="1.2" height="1.1" fill="#646464"/>
<rect x="196.7" y="73.9" width="1.2" height="1.4" fill="#676767"/>
<rect x="218.5" y="122.4" width="1.2" height="1.4" fill="#636363"/>
<rect x="219.0" y="169.5" width="1.0" height="1.1" fill="#4c4c4c"/>
<rect x="103.1" y="45.2" width="0.9" height="1.2" fill="#5b5b5b"/>
<rect x="245.9" y="35.0" width="1.5" height="1.6" fill="#4f4f4f"/>
<rect x="135.1" y="196.2" width="1.7" height="2.0" fill="#353535"/>
<rect x="81.4" y="16.5" width="1.1" height="1.5" fill="#656565"/>
<rect x="81.7" y="74.5" width="0.9" height="1.0" fill="#585858"/>
<rect x="130.6" y="70.3" width="1.5" height="1.5" fill="#6d6d6d"/>
<rect x="134.1" y="132.5" width="1.5" height="1.5" fill="#777777"/>
<rect x="192.5" y="118.1" width="1.5" height="1.4" fill="#3c3c3c"/>
<rect x="79.2" y="196.2" width="1.1" height="0.9" fill="#545454"/>
<rect x="121.0" y="11.9" width="1.4" height="1.5" fill="#3c3c3c"/>
<rect x="111.4" y="53.9" width="1.3" height="1.2" fill="#4c4c4c"/>
<rect x="68.4" y="21.0" width="1.6" height="1.4" fill="#484848"/>
<rect x="93.7" y="105.5" width="1.7" height="2.1" fill="#404040"/>
<rect x="152.0" y="91.6" width="1.5" height="1.3" fill="#4e4e4e"/>
<rect x="164.8" y="140.4" width="1.4" height="1.8" fill="#454545"/>
<rect x="225.5" y="208.4" width="1.3" height="1.5" fill="#6c6c6c"/>
<rect x="92.5" y="13.4" width="1.0" height="0.9" fill="#3a3a3a"/>
<rect x="127.8" y="159.9" width="1.1" height="0.9" fill="#565656"/>
<rect x="99.1" y="201.4" width="0.9" height="1.1" fill="#575757"/>
<rect x="211.5" y="156.3" width="1.2" height="1.5" fill="#6a6a6a"/>
<rect x="206.7" y="206.8" width="1.0" height="1.0" fill="#757575"/>
<rect x="194.7" y="58.5" width="1.6" height="1.8" fill="#343434"/>
<rect x="102.4" y="86.3" width="1.2" height="1.4" fill="#606060"/>
<rect x="128.9" y="136.6" width="1.2" height="1.5" fill="#464646"/>
<rect x="120.6" y="27.0" width="1.2" height="1.1" fill="#666666"/>
<rect x="202.0" y="118.1" width="1.4" height="1.2" fill="#3e3e3e"/>
<rect x="86.1" y="78.6" width="1.2" height="1.3" fill="#333333"/>
<rect x="136.4" y="72.8" width="1.3" height="1.2" fill="#757575"/>
<rect x="228.5" y="72.7" width="1.5" height="1.9" fill="#3a3a3a"/>
<rect x="141.6" y="202.1" width="1.1" height="1.2" fill="#4f4f4f"/>
<rect x="92.8" y="63.1" width="1.4" height="1.4" fill="#747474"/>
<rect x="93.9" y="80.0" width="1.7" height="1.9" fill="#3c3c3c"/>
<rect x="131.5" y="137.8" width="1.1" height="1.3" fill="#5d5d5d"/>
<rect x="223.9" y="134.7" width="1.3" height="1.1" fill="#5a5a5a"/>
<rect x="220.2" y="147.1" width="1.3" height="1.3" fill="#616161"/>
<rect x="132.8" y="54.4" width="1.4" height="1.5" fill="#5a5a5a"/>
<rect x="64.7" y="134.5" width="1.3" height="1.4" fill="#5c5c5c"/>
<rect x="238.4" y="38.6" width="1.3" height="1.5" fill="#787878"/>
<rect x="118.9" y="156.5" width="1.7" height="2.1" fill="#4e4e4e"/>
<rect x="83.0" y="207.6" width="1.3" height="1.6" fill="#424242"/>
<rect x="183.9" y="197.0" width="1.6" height="1.7" fill="#6a6a6a"/>
<rect x="250.4" y="21.1" width="1.6" height="1.5" fill="#646464"/>
<rect x="214.4" y="99.5" width="1.3" height="1.2" fill="#6f6f6f"/>
<rect x="112.5" y="137.8" width="1.0" height="1.1" fill="#595959"/>
<rect x="153.3" y="56.7" width="1.5" height="1.8" fill="#6e6e6e"/>
<rect x="164.6" y="190.6" width="1.5" height="1.5" fill="#3d3d3d"/>
<rect x="77.9" y="15.4" width="1.2" height="1.4" fill="#6f6f6f"/>
<rect x="81.2" y="44.6" width="1.2" height="1.3" fill="#6d6d6d"/>
<rect x="232.6" y="22.5" width="1.7" height="1.9" fill="#404040"/>
<rect x="227.8" y="154.7" width="1.1" height="1.1" fill="#616161"/>
<rect x="61.5" y="76.5" width="1.2" height="1.1" fill="#5e5e5e"/>
<rect x="175.0" y="148.1" width="1.0" height="1.2" fill="#3b3b3b"/>
<rect x="148.6" y="34.0" width="1.0" height="1.1" fill="#747474"/>
<rect x="127.5" y="47.5" width="1.7" height="2.0" fill="#626262"/>
<rect x="128.1" y="70.6" width="1.2" height="1.4" fill="#3c3c3c"/>
<rect x="140.5" y="173.3" width="1.2" height="1.3" fill="#525252"/>
<rect x="240.3" y="77.8" width="1.5" height="1.6" fill="#424242"/>
<rect x="113.5" y="183.9" width="1.1" height="1.3" fill="#6e6e6e"/>
<rect x="146.3" y="196.2" width="1.2" height="1.3" fill="#666666"/>
<rect x="145.1" y="20.9" width="1.2" height="1.3" fill="#464646"/>
<rect x="242.8" y="67.1" width="1.5" height="1.3" fill="#616161"/>
<rect x="138.0" y="34.6" width="1.6" height="1.6" fill="#444444"/>
<rect x="124.5" y="173.4" width="1.6" height="1.7" fill="#5b5b5b"/>
<rect x="77.7" y="188.7" width="1.2" height="1.2" fill="#232323"/>
<rect x="198.1" y="142.9" width="1.4" height="1.8" fill="#383838"/>
<rect x="63.0" y="135.6" width="1.5" height="1.5" fill="#222222"/>
<rect x="119.5" y="143.2" width="1.6" height="2.0" fill="#3b3b3b"/>
<rect x="250.2" y="87.7" width="1.8" height="2.0" fill="#2e2e2e"/>
<rect x="251.1" y="21.4" width="1.5" height="1.7" fill="#242424"/>
<rect x="100.6" y="207.5" width="1.3" height="1.1" fill="#232323"/>
<rect x="134.7" y="157.5" width="1.2" height="1.3" fill="#1b1b1b"/>
<rect x="178.8" y="157.6" width="1.3" height="1.5" fill="#343434"/>
<rect x="208.3" y="32.1" width="1.5" height="1.8" fill="#151515"/>
<rect x="240.9" y="188.6" width="1.1" height="1.2" fill="#222222"/>
<rect x="161.6" y="30.4" width="1.7" height="1.8" fill="#202020"/>
<rect x="82.6" y="122.5" width="1.2" height="1.3" fill="#181818"/>
<rect x="115.3" y="164.7" width="1.3" height="1.1" fill="#252525"/>
<rect x="100.5" y="99.1" width="1.5" height="1.9" fill="#262626"/>
<rect x="78.6" y="179.4" width="1.2" height="1.3" fill="#3b3b3b"/>
<rect x="137.0" y="131.4" width="1.8" height="1.8" fill="#3b3b3b"/>
<rect x="60.6" y="39.0" width="1.8" height="2.0" fill="#313131"/>
<rect x="88.7" y="115.1" width="1.1" height="1.1" fill="#181818"/>
<rect x="245.1" y="137.6" width="1.8" height="1.8" fill="#161616"/>
<rect x="73.6" y="60.6" width="1.2" height="1.1" fill="#393939"/>
<rect x="152.9" y="139.9" width="1.8" height="2.0" fill="#3a3a3a"/>
<rect x="155.2" y="190.2" width="1.4" height="1.7" fill="#202020"/>
<rect x="108.4" y="82.2" width="1.4" height="1.4" fill="#272727"/>
<rect x="141.6" y="98.9" width="1.1" height="0.9" fill="#353535"/>
<rect x="160.4" y="118.4" width="1.4" height="1.2" fill="#1d1d1d"/>
<rect x="130.3" y="71.4" width="1.5" height="1.7" fill="#1d1d1d"/>
<rect x="152.6" y="9.8" width="1.4" height="1.1" fill="#3b3b3b"/>
<rect x="173.1" y="201.7" width="1.4" height="1.4" fill="#2c2c2c"/>
<rect x="116.7" y="130.8" width="1.6" height="1.6" fill="#212121"/>
<rect x="158.2" y="160.0" width="1.1" height="1.1" fill="#181818"/>
<rect x="110.7" y="168.4" width="1.4" height="1.4" fill="#363636"/>
<rect x="113.7" y="145.1" width="1.2" height="1.4" fill="#3b3b3b"/>
<rect x="121.9" y="72.0" width="1.8" height="2.0" fill="#343434"/>
<rect x="69.5" y="161.9" width="1.1" height="1.2" fill="#2d2d2d"/>
<rect x="237.6" y="136.8" width="1.1" height="1.3" fill="#393939"/>
<rect x="170.5" y="9.1" width="1.7" height="1.9" fill="#252525"/>
<rect x="248.5" y="192.8" width="1.2" height="1.2" fill="#333333"/>
<rect x="203.6" y="84.2" width="1.5" height="1.3" fill="#252525"/>
<rect x="120.3" y="156.1" width="1.2" height="1.4" fill="#191919"/>
<rect x="187.2" y="118.5" width="1.2" height="1.1" fill="#191919"/>
<rect x="242.7" y="120.9" width="1.8" height="1.9" fill="#1c1c1c"/>
<rect x="162.1" y="177.2" width="1.2" height="1.2" fill="#373737"/>
<rect x="64.6" y="95.1" width="1.4" height="1.8" fill="#2f2f2f"/>
<rect x="153.8" y="147.0" width="1.4" height="1.2" fill="#333333"/>
<rect x="201.8" y="41.6" width="1.6" height="1.5" fill="#1c1c1c"/>
<rect x="90.1" y="78.5" width="1.6" height="1.6" fill="#292929"/>
<rect x="169.4" y="177.8" width="1.4" height="1.4" fill="#2b2b2b"/>
<rect x="247.9" y="74.1" width="1.7" height="1.5" fill="#1d1d1d"/>
<rect x="199.5" y="123.9" width="1.3" height="1.6" fill="#171717"/>
<rect x="131.4" y="152.4" width="1.4" height="1.6" fill="#2d2d2d"/>
<rect x="246.9" y="191.4" width="1.5" height="1.3" fill="#272727"/>
<rect x="203.9" y="28.6" width="1.3" height="1.1" fill="#363636"/>
<rect x="193.4" y="122.5" width="1.5" height="1.3" fill="#212121"/>
<rect x="242.1" y="162.2" width="1.7" height="2.1" fill="#181818"/>
<rect x="100.7" y="48.2" width="1.5" height="1.3" fill="#2c2c2c"/>
<rect x="206.2" y="125.4" width="1.8" height="2.1" fill="#393939"/>
<rect x="128.8" y="199.7" width="1.7" height="2.1" fill="#202020"/>
<rect x="198.9" y="61.4" width="1.3" height="1.4" fill="#151515"/>
<rect x="107.5" y="67.1" width="1.3" height="1.4" fill="#191919"/>
</g>
</g>
<rect x="253.9" y="62.1" width="0.9" height="1.1" fill="#656565"/>
<rect x="253.1" y="179.4" width="1.2" height="1.3" fill="#6d6d6d"/>
<rect x="257.1" y="113.0" width="1.1" height="1.3" fill="#868686"/>
<rect x="253.8" y="15.1" width="1.3" height="1.5" fill="#595959"/>
<rect x="253.6" y="96.4" width="0.9" height="1.2" fill="#767676"/>
<rect x="255.5" y="119.5" width="0.9" height="1.2" fill="#4f4f4f"/>
<rect x="252.8" y="195.9" width="1.1" height="1.4" fill="#424242"/>
<rect x="252.7" y="119.3" width="0.8" height="0.7" fill="#8b8b8b"/>
<rect x="258.1" y="16.5" width="1.1" height="0.9" fill="#414141"/>
<rect x="256.0" y="204.5" width="1.1" height="1.3" fill="#808080"/>
<rect x="255.6" y="19.7" width="1.0" height="1.1" fill="#4b4b4b"/>
<rect x="254.5" y="105.8" width="0.8" height="0.8" fill="#747474"/>
<clipPath id="c1"><rect x="293.0" y="2.3" width="197.0" height="207.29999999999998"/></clipPath>
<g clip-path="url(#c1)">
<path d="M293.0,-10.88Q391.5,-0.86 490.0,-11.41" stroke="#fafafa" stroke-width="4.60" fill="none"/>
<path d="M293.0,-5.13Q391.5,4.89 490.0,-5.66" stroke="#f9f9f9" stroke-width="8.10" fill="none"/>
<path d="M293.0,2.37Q391.5,12.39 490.0,1.84" stroke="#f8f8f8" stroke-width="8.10" fill="none"/>
<path d="M293.0,9.87Q391.5,19.89 490.0,9.34" stroke="#f7f7f7" stroke-width="8.10" fill="none"/>
<path d="M293.0,15.62Q391.5,25.64 490.0,15.09" stroke="#f6f6f6" stroke-width="4.60" fill="none"/>
<path d="M293.0,17.87Q391.5,27.89 490.0,17.34" stroke="#f4f4f4" stroke-width="1.10" fill="none"/>
<path d="M293.0,18.37Q391.5,28.39 490.0,17.84" stroke="#f3f3f3" stroke-width="1.10" fill="none"/>
<path d="M293.0,18.87Q391.5,28.89 490.0,18.34" stroke="#f1f1f1" stroke-width="1.10" fill="none"/>
<path d="M293.0,19.37Q391.5,29.39 490.0,18.84" stroke="#efefef" stroke-width="1.10" fill="none"/>
<path d="M293.0,19.87Q391.5,29.89 490.0,19.34" stroke="#eeeeee" stroke-width="1.10" fill="none"/>
<path d="M293.0,20.37Q391.5,30.39 490.0,19.84" stroke="#ececec" stroke-width="1.10" fill="none"/>
<path d="M293.0,20.87Q391.5,30.89 490.0,20.34" stroke="#e9e9e9" stroke-width="1.10" fill="none"/>
<path d="M293.0,21.37Q391.5,31.39 490.0,20.84" stroke="#e6e6e6" stroke-width="1.10" fill="none"/>
<path d="M293.0,21.87Q391.5,31.89 490.0,21.34" stroke="#e4e4e4" stroke-width="1.10" fill="none"/>
<path d="M293.0,22.37Q391.5,32.39 490.0,21.84" stroke="#e1e1e1" stroke-width="1.10" fill="none"/>
<path d="M293.0,22.87Q391.5,32.89 490.0,22.34" stroke="#dedede" stroke-width="1.10" fill="none"/>
<path d="M293.0,23.37Q391.5,33.39 490.0,22.84" stroke="#d2d2d2" stroke-width="1.10" fill="none"/>
<path d="M293.0,23.87Q391.5,33.89 490.0,23.34" stroke="#cacaca" stroke-width="1.10" fill="none"/>
<path d="M293.0,24.37Q391.5,34.39 490.0,23.84" stroke="#c8c8c8" stroke-width="1.10" fill="none"/>
<path d="M293.0,24.87Q391.5,34.89 490.0,24.34" stroke="#cdcdcd" stroke-width="1.10" fill="none"/>
<path d="M293.0,25.37Q391.5,35.39 490.0,24.84" stroke="#d6d6d6" stroke-width="1.10" fill="none"/>
<path d="M293.0,25.87Q391.5,35.89 490.0,25.34" stroke="#d2d2d2" stroke-width="1.10" fill="none"/>
<path d="M293.0,26.37Q391.5,36.39 490.0,25.84" stroke="#cacaca" stroke-width="1.10" fill="none"/>
<path d="M293.0,26.87Q391.5,36.89 490.0,26.34" stroke="#c8c8c8" stroke-width="1.10" fill="none"/>
<path d="M293.0,27.37Q391.5,37.39 490.0,26.84" stroke="#cecece" stroke-width="1.10" fill="none"/>
<path d="M293.0,27.87Q391.5,37.89 490.0,27.34" stroke="#d6d6d6" stroke-width="1.10" fill="none"/>
<path d="M293.0,28.37Q391.5,38.39 490.0,27.84" stroke="#c9c9c9" stroke-width="1.10" fill="none"/>
<path d="M293.0,28.87Q391.5,38.89 490.0,28.34" stroke="#c4c4c4" stroke-width="1.10" fill="none"/>
<path d="M293.0,29.37Q391.5,39.39 490.0,28.84" stroke="#c9c9c9" stroke-width="1.10" fill="none"/>
<path d="M293.0,29.87Q391.5,39.89 490.0,29.34" stroke="#d6d6d6" stroke-width="1.10" fill="none"/>
<path d="M293.0,30.37Q391.5,40.39 490.0,29.84" stroke="#c3c3c3" stroke-width="1.10" fill="none"/>
<path d="M293.0,30.87Q391.5,40.89 490.0,30.34" stroke="#b4b4b4" stroke-width="1.10" fill="none"/>
<path d="M293.0,31.37Q391.5,41.39 490.0,30.84" stroke="#b8b8b8" stroke-width="1.10" fill="none"/>
<path d="M293.0,31.87Q391.5,41.89 490.0,31.34" stroke="#cdcdcd" stroke-width="1.10" fill="none"/>
<path d="M293.0,32.37Q391.5,42.39 490.0,31.84" stroke="#cfcfcf" stroke-width="1.10" fill="none"/>
<path d="M293.0,32.87Q391.5,42.89 490.0,32.34" stroke="#bebebe" stroke-width="1.10" fill="none"/>
<path d="M293.0,33.37Q391.5,43.39 490.0,32.84" stroke="#bababa" stroke-width="1.10" fill="none"/>
<path d="M293.0,33.87Q391.5,43.89 490.0,33.34" stroke="#c5c5c5" stroke-width="1.10" fill="none"/>
<path d="M293.0,34.37Q391.5,44.39 490.0,33.84" stroke="#d6d6d6" stroke-width="1.10" fill="none"/>
<path d="M293.0,34.87Q391.5,44.89 490.0,34.34" stroke="#bebebe" stroke-width="1.10" fill="none"/>
<path d="M293.0,35.37Q391.5,45.39 490.0,34.84" stroke="#b0b0b0" stroke-width="1.10" fill="none"/>
<path d="M293.0,35.87Q391.5,45.89 490.0,35.34" stroke="#b5b5b5" stroke-width="1.10" fill="none"/>
<path d="M293.0,36.37Q391.5,46.39 490.0,35.84" stroke="#d1d1d1" stroke-width="1.10" fill="none"/>
<path d="M293.0,36.87Q391.5,46.89 490.0,36.34" stroke="#c6c6c6" stroke-width="1.10" fill="none"/>
<path d="M293.0,37.62Q391.5,47.64 490.0,37.09" stroke="#b0b0b0" stroke-width="1.60" fill="none"/>
<path d="M293.0,38.37Q391.5,48.39 490.0,37.84" stroke="#c8c8c8" stroke-width="1.10" fill="none"/>
<path d="M293.0,38.87Q391.5,48.89 490.0,38.34" stroke="#d6d6d6" stroke-width="1.10" fill="none"/>
<path d="M293.0,39.37Q391.5,49.39 490.0,38.84" stroke="#b8b8b8" stroke-width="1.10" fill="none"/>
<path d="M293.0,39.87Q391.5,49.89 490.0,39.34" stroke="#a6a6a6" stroke-width="1.10" fill="none"/>
<path d="M293.0,40.37Q391.5,50.39 490.0,39.84" stroke="#adadad" stroke-width="1.10" fill="none"/>
<path d="M293.0,40.87Q391.5,50.89 490.0,40.34" stroke="#cfcfcf" stroke-width="1.10" fill="none"/>
<path d="M293.0,41.37Q391.5,51.39 490.0,40.84" stroke="#c4c4c4" stroke-width="1.10" fill="none"/>
<path d="M293.0,42.12Q391.5,52.14 490.0,41.59" stroke="#acacac" stroke-width="1.60" fill="none"/>
<path d="M293.0,42.87Q391.5,52.89 490.0,42.34" stroke="#cacaca" stroke-width="1.10" fill="none"/>
<path d="M293.0,43.37Q391.5,53.39 490.0,42.84" stroke="#c7c7c7" stroke-width="1.10" fill="none"/>
<path d="M293.0,44.12Q391.5,54.14 490.0,43.59" stroke="#a0a0a0" stroke-width="1.60" fill="none"/>
<path d="M293.0,44.87Q391.5,54.89 490.0,44.34" stroke="#c0c0c0" stroke-width="1.10" fill="none"/>
<path d="M293.0,45.37Q391.5,55.39 490.0,44.84" stroke="#cdcdcd" stroke-width="1.10" fill="none"/>
<path d="M293.0,46.12Q391.5,56.14 490.0,45.59" stroke="#a0a0a0" stroke-width="1.60" fill="none"/>
<path d="M293.0,46.87Q391.5,56.89 490.0,46.34" stroke="#b8b8b8" stroke-width="1.10" fill="none"/>
<path d="M293.0,47.62Q391.5,57.64 490.0,47.09" stroke="#d0d0d0" stroke-width="1.60" fill="none"/>
<path d="M293.0,48.37Q391.5,58.39 490.0,47.84" stroke="#c1c1c1" stroke-width="1.10" fill="none"/>
<path d="M293.0,48.87Q391.5,58.89 490.0,48.34" stroke="#9d9d9d" stroke-width="1.10" fill="none"/>
<path d="M293.0,49.37Q391.5,59.39 490.0,48.84" stroke="#969696" stroke-width="1.10" fill="none"/>
<path d="M293.0,49.87Q391.5,59.89 490.0,49.34" stroke="#acacac" stroke-width="1.10" fill="none"/>
<path d="M293.0,51.12Q391.5,61.14 490.0,50.59" stroke="#d0d0d0" stroke-width="2.60" fill="none"/>
<path d="M293.0,52.37Q391.5,62.39 490.0,51.84" stroke="#ababab" stroke-width="1.10" fill="none"/>
<path d="M293.0,53.12Q391.5,63.14 490.0,52.59" stroke="#6e6e6e" stroke-width="1.60" fill="none"/>
<path d="M293.0,53.87Q391.5,63.89 490.0,53.34" stroke="#9f9f9f" stroke-width="1.10" fill="none"/>
<path d="M293.0,54.37Q391.5,64.39 490.0,53.84" stroke="#cdcdcd" stroke-width="1.10" fill="none"/>
<path d="M293.0,54.87Q391.5,64.89 490.0,54.34" stroke="#cecece" stroke-width="1.10" fill="none"/>
<path d="M293.0,55.37Q391.5,65.39 490.0,54.84" stroke="#d9d9d9" stroke-width="1.10" fill="none"/>
<path d="M293.0,65.87Q391.5,75.89 490.0,65.34" stroke="#e4e4e4" stroke-width="21.10" fill="none"/>
<path d="M293.0,76.37Q391.5,86.39 490.0,75.84" stroke="#dddddd" stroke-width="1.10" fill="none"/>
<path d="M293.0,76.87Q391.5,86.89 490.0,76.34" stroke="#cdcdcd" stroke-width="1.10" fill="none"/>
<path d="M293.0,77.37Q391.5,87.39 490.0,76.84" stroke="#dddddd" stroke-width="1.10" fill="none"/>
<path d="M293.0,80.37Q391.5,90.39 490.0,79.84" stroke="#e4e4e4" stroke-width="6.10" fill="none"/>
<path d="M293.0,83.37Q391.5,93.39 490.0,82.84" stroke="#dadada" stroke-width="1.10" fill="none"/>
<path d="M293.0,83.87Q391.5,93.89 490.0,83.34" stroke="#c3c3c3" stroke-width="1.10" fill="none"/>
<path d="M293.0,84.37Q391.5,94.39 490.0,83.84" stroke="#d1d1d1" stroke-width="1.10" fill="none"/>
<path d="M293.0,84.87Q391.5,94.89 490.0,84.34" stroke="#e4e4e4" stroke-width="1.10" fill="none"/>
<path d="M293.0,85.37Q391.5,95.39 490.0,84.84" stroke="#d9d9d9" stroke-width="1.10" fill="none"/>
<path d="M293.0,85.87Q391.5,95.89 490.0,85.34" stroke="#bebebe" stroke-width="1.10" fill="none"/>
<path d="M293.0,86.37Q391.5,96.39 490.0,85.84" stroke="#cecece" stroke-width="1.10" fill="none"/>
<path d="M293.0,87.87Q391.5,97.89 490.0,87.34" stroke="#e4e4e4" stroke-width="3.10" fill="none"/>
<path d="M293.0,89.37Q391.5,99.39 490.0,88.84" stroke="#d1d1d1" stroke-width="1.10" fill="none"/>
<path d="M293.0,89.87Q391.5,99.89 490.0,89.34" stroke="#c3c3c3" stroke-width="1.10" fill="none"/>
<path d="M293.0,90.37Q391.5,100.39 490.0,89.84" stroke="#dadada" stroke-width="1.10" fill="none"/>
<path d="M293.0,106.12Q391.5,116.14 490.0,105.59" stroke="#e4e4e4" stroke-width="31.60" fill="none"/>
<path d="M293.0,121.87Q391.5,131.89 490.0,121.34" stroke="#dedede" stroke-width="1.10" fill="none"/>
<path d="M293.0,122.37Q391.5,132.39 490.0,121.84" stroke="#d0d0d0" stroke-width="1.10" fill="none"/>
<path d="M293.0,122.87Q391.5,132.89 490.0,122.34" stroke="#dedede" stroke-width="1.10" fill="none"/>
<path d="M293.0,130.37Q391.5,140.39 490.0,129.84" stroke="#e4e4e4" stroke-width="15.10" fill="none"/>
<path d="M293.0,137.87Q391.5,147.89 490.0,137.34" stroke="#dadada" stroke-width="1.10" fill="none"/>
<path d="M293.0,140.12Q391.5,150.14 490.0,139.59" stroke="#e4e4e4" stroke-width="4.60" fill="none"/>
<path d="M293.0,142.37Q391.5,152.39 490.0,141.84" stroke="#828282" stroke-width="1.10" fill="none"/>
<path d="M293.0,143.12Q391.5,153.14 490.0,142.59" stroke="#6e6e6e" stroke-width="1.60" fill="none"/>
<path d="M293.0,143.87Q391.5,153.89 490.0,143.34" stroke="#959595" stroke-width="1.10" fill="none"/>
<path d="M293.0,145.37Q391.5,155.39 490.0,144.84" stroke="#e4e4e4" stroke-width="3.10" fill="none"/>
<path d="M293.0,146.87Q391.5,156.89 490.0,146.34" stroke="#dcdcdc" stroke-width="1.10" fill="none"/>
<path d="M293.0,151.12Q391.5,161.14 490.0,150.59" stroke="#e4e4e4" stroke-width="8.60" fill="none"/>
<path d="M293.0,163.12Q391.5,173.14 490.0,162.59" stroke="#e5e5e5" stroke-width="16.60" fill="none"/>
<path d="M293.0,175.12Q391.5,185.14 490.0,174.59" stroke="#e6e6e6" stroke-width="8.60" fill="none"/>
<path d="M293.0,179.37Q391.5,189.39 490.0,178.84" stroke="#b4b4b4" stroke-width="1.10" fill="none"/>
<path d="M293.0,180.37Q391.5,190.39 490.0,179.84" stroke="#828282" stroke-width="2.10" fill="none"/>
<path d="M293.0,181.37Q391.5,191.39 490.0,180.84" stroke="#d5d5d5" stroke-width="1.10" fill="none"/>
<path d="M293.0,182.12Q391.5,192.14 490.0,181.59" stroke="#e6e6e6" stroke-width="1.60" fill="none"/>
<path d="M293.0,183.62Q391.5,193.64 490.0,183.09" stroke="#e7e7e7" stroke-width="2.60" fill="none"/>
<path d="M293.0,185.12Q391.5,195.14 490.0,184.59" stroke="#e8e8e8" stroke-width="1.60" fill="none"/>
<path d="M293.0,186.12Q391.5,196.14 490.0,185.59" stroke="#e9e9e9" stroke-width="1.60" fill="none"/>
<path d="M293.0,186.87Q391.5,196.89 490.0,186.34" stroke="#eaeaea" stroke-width="1.10" fill="none"/>
<path d="M293.0,187.62Q391.5,197.64 490.0,187.09" stroke="#ebebeb" stroke-width="1.60" fill="none"/>
<path d="M293.0,188.37Q391.5,198.39 490.0,187.84" stroke="#ececec" stroke-width="1.10" fill="none"/>
<path d="M293.0,189.12Q391.5,199.14 490.0,188.59" stroke="#ededed" stroke-width="1.60" fill="none"/>
<path d="M293.0,189.87Q391.5,199.89 490.0,189.34" stroke="#eeeeee" stroke-width="1.10" fill="none"/>
<path d="M293.0,190.62Q391.5,200.64 490.0,190.09" stroke="#efefef" stroke-width="1.60" fill="none"/>
<path d="M293.0,191.37Q391.5,201.39 490.0,190.84" stroke="#f0f0f0" stroke-width="1.10" fill="none"/>
<path d="M293.0,192.12Q391.5,202.14 490.0,191.59" stroke="#f1f1f1" stroke-width="1.60" fill="none"/>
<path d="M293.0,192.87Q391.5,202.89 490.0,192.34" stroke="#f2f2f2" stroke-width="1.10" fill="none"/>
<path d="M293.0,193.37Q391.5,203.39 490.0,192.84" stroke="#f3f3f3" stroke-width="1.10" fill="none"/>
<path d="M293.0,194.12Q391.5,204.14 490.0,193.59" stroke="#f4f4f4" stroke-width="1.60" fill="none"/>
<path d="M293.0,194.87Q391.5,204.89 490.0,194.34" stroke="#f5f5f5" stroke-width="1.10" fill="none"/>
<path d="M293.0,195.62Q391.5,205.64 490.0,195.09" stroke="#f6f6f6" stroke-width="1.60" fill="none"/>
<path d="M293.0,196.37Q391.5,206.39 490.0,195.84" stroke="#f7f7f7" stroke-width="1.10" fill="none"/>
<path d="M293.0,196.87Q391.5,206.89 490.0,196.34" stroke="#f8f8f8" stroke-width="1.10" fill="none"/>
<path d="M293.0,197.62Q391.5,207.64 490.0,197.09" stroke="#f9f9f9" stroke-width="1.60" fill="none"/>
<path d="M293.0,199.12Q391.5,209.14 490.0,198.59" stroke="#fafafa" stroke-width="2.60" fill="none"/>
<path d="M293.0,201.87Q391.5,211.89 490.0,201.34" stroke="#fbfbfb" stroke-width="4.10" fill="none"/>
<path d="M293.0,205.37Q391.5,215.39 490.0,204.84" stroke="#fcfcfc" stroke-width="4.10" fill="none"/>
<path d="M293.0,208.62Q391.5,218.64 490.0,208.09" stroke="#fdfdfd" stroke-width="3.60" fill="none"/>
<path d="M293.0,211.87Q391.5,221.89 490.0,211.34" stroke="#fefefe" stroke-width="4.10" fill="none"/>
<path d="M293.0,214.62Q391.5,224.64 490.0,214.09" stroke="#ffffff" stroke-width="2.60" fill="none"/>
<rect x="293.1" y="16" width="1.4" height="195" fill="url(#vg1)" opacity="0.5"/>
<rect x="315.3" y="16" width="1.4" height="195" fill="url(#vg1)" opacity="0.55"/>
<rect x="324.0" y="16" width="1.4" height="195" fill="url(#vg1)" opacity="0.35"/>
<rect x="328.7" y="16" width="1.4" height="195" fill="url(#vg1)" opacity="0.55"/>
<rect x="336.2" y="16" width="1.4" height="195" fill="url(#vg1)" opacity="0.4"/>
<rect x="338.6" y="16" width="1.4" height="195" fill="url(#vg1)" opacity="0.55"/>
<rect x="349.3" y="16" width="1.4" height="195" fill="url(#vg1)" opacity="0.4"/>
<rect x="423.6" y="16" width="1.4" height="195" fill="url(#vg1)" opacity="0.55"/>
<rect x="427.3" y="16" width="1.4" height="195" fill="url(#vg1)" opacity="0.4"/>
<rect x="460.3" y="16" width="1.4" height="195" fill="url(#vg1)" opacity="0.4"/>
<rect x="466.3" y="16" width="1.4" height="195" fill="url(#vg1)" opacity="0.3"/>
<rect x="481.8" y="16" width="1.0" height="195" fill="url(#vg1)" opacity="0.12"/>
<rect x="329.3" y="16" width="1.0" height="195" fill="#fff" opacity="0.24"/>
<rect x="468.2" y="16" width="1.1" height="195" fill="#fff" opacity="0.23"/>
<rect x="411.4" y="16" width="2.1" height="195" fill="#fff" opacity="0.38"/>
<rect x="432.5" y="16" width="0.9" height="195" fill="#fff" opacity="0.30"/>
<rect x="354.2" y="16" width="1.1" height="195" fill="#fff" opacity="0.30"/>
<rect x="477.8" y="16" width="1.9" height="195" fill="#fff" opacity="0.29"/>
<rect x="430.6" y="16" width="1.7" height="195" fill="url(#vg1)" opacity="0.12"/>
<rect x="354.6" y="16" width="1.9" height="195" fill="#fff" opacity="0.31"/>
<rect x="321.0" y="16" width="2.0" height="195" fill="#fff" opacity="0.20"/>
<rect x="302.7" y="16" width="1.5" height="195" fill="url(#vg1)" opacity="0.11"/>
<rect x="392.7" y="16" width="1.5" height="195" fill="url(#vg1)" opacity="0.09"/>
<rect x="473.5" y="16" width="1.2" height="195" fill="url(#vg1)" opacity="0.09"/>
<rect x="351.6" y="16" width="1.6" height="195" fill="#fff" opacity="0.26"/>
<rect x="425.6" y="16" width="1.5" height="195" fill="url(#vg1)" opacity="0.12"/>
<rect x="363.1" y="16" width="1.4" height="195" fill="url(#vg1)" opacity="0.11"/>
<rect x="480.6" y="16" width="1.5" height="195" fill="url(#vg1)" opacity="0.05"/>
<rect x="469.4" y="16" width="1.0" height="195" fill="#fff" opacity="0.24"/>
<rect x="357.7" y="16" width="1.3" height="195" fill="url(#vg1)" opacity="0.04"/>
<rect x="398.5" y="16" width="1.9" height="195" fill="#fff" opacity="0.20"/>
<rect x="429.6" y="16" width="0.9" height="195" fill="url(#vg1)" opacity="0.11"/>
<rect x="474.4" y="16" width="1.4" height="195" fill="#fff" opacity="0.27"/>
<rect x="396.2" y="16" width="1.6" height="195" fill="#fff" opacity="0.34"/>
<rect x="386.2" y="16" width="1.8" height="195" fill="#fff" opacity="0.24"/>
<rect x="447.5" y="16" width="1.9" height="195" fill="#fff" opacity="0.39"/>
<rect x="296.6" y="16" width="1.5" height="195" fill="#fff" opacity="0.24"/>
<rect x="326.8" y="16" width="1.8" height="195" fill="url(#vg1)" opacity="0.06"/>
<rect x="301.2" y="16" width="2.2" height="195" fill="url(#vg1)" opacity="0.05"/>
<rect x="335.6" y="16" width="1.2" height="195" fill="#fff" opacity="0.20"/>
<rect x="347.4" y="16" width="0.9" height="195" fill="#fff" opacity="0.20"/>
<rect x="360.8" y="16" width="1.8" height="195" fill="#fff" opacity="0.36"/>
<rect x="300.5" y="16" width="1.3" height="195" fill="#fff" opacity="0.16"/>
<rect x="333.0" y="16" width="1.5" height="195" fill="url(#vg1)" opacity="0.10"/>
<rect x="434.5" y="16" width="1.5" height="195" fill="url(#vg1)" opacity="0.06"/>
<rect x="345.5" y="16" width="0.9" height="195" fill="#fff" opacity="0.19"/>
<rect x="468.2" y="16" width="1.7" height="195" fill="url(#vg1)" opacity="0.08"/>
<rect x="411.9" y="16" width="0.9" height="195" fill="#fff" opacity="0.16"/>
<rect x="444.0" y="16" width="0.8" height="195" fill="#fff" opacity="0.40"/>
<rect x="459.7" y="16" width="1.1" height="195" fill="#fff" opacity="0.18"/>
<rect x="360.4" y="16" width="2.0" height="195" fill="#fff" opacity="0.15"/>
<rect x="367.8" y="16" width="1.7" height="195" fill="url(#vg1)" opacity="0.10"/>
<rect x="468.9" y="16" width="1.6" height="195" fill="url(#vg1)" opacity="0.11"/>
<rect x="394.0" y="16" width="1.1" height="195" fill="url(#vg1)" opacity="0.05"/>
<rect x="458.2" y="16" width="1.5" height="195" fill="#fff" opacity="0.35"/>
<rect x="484.8" y="16" width="1.1" height="195" fill="url(#vg1)" opacity="0.11"/>
<rect x="443.1" y="16" width="1.3" height="195" fill="#fff" opacity="0.20"/>
<rect x="324.9" y="16" width="0.9" height="195" fill="url(#vg1)" opacity="0.06"/>
<rect x="395.0" y="16" width="2.2" height="195" fill="url(#vg1)" opacity="0.08"/>
<rect x="463.3" y="16" width="1.6" height="195" fill="#fff" opacity="0.34"/>
<rect x="297.3" y="16" width="2.1" height="195" fill="#fff" opacity="0.35"/>
<rect x="455.6" y="16" width="0.9" height="195" fill="url(#vg1)" opacity="0.05"/>
<rect x="392.4" y="16" width="2.1" height="195" fill="#fff" opacity="0.25"/>
<rect x="415.6" y="16" width="1.8" height="195" fill="url(#vg1)" opacity="0.12"/>
<rect x="478.5" y="16" width="1.8" height="195" fill="#fff" opacity="0.35"/>
<rect x="421.5" y="16" width="1.2" height="195" fill="url(#vg1)" opacity="0.06"/>
<rect x="304.3" y="16" width="2.1" height="195" fill="url(#vg1)" opacity="0.04"/>
<rect x="355.3" y="16" width="0.9" height="195" fill="url(#vg1)" opacity="0.07"/>
<rect x="327.6" y="16" width="1.5" height="195" fill="url(#vg1)" opacity="0.07"/>
<rect x="453.2" y="16" width="1.2" height="195" fill="#fff" opacity="0.37"/>
<rect x="481.9" y="16" width="1.3" height="195" fill="url(#vg1)" opacity="0.12"/>
<rect x="394.3" y="16" width="1.1" height="195" fill="url(#vg1)" opacity="0.06"/>
<rect x="354.2" y="16" width="1.0" height="195" fill="url(#vg1)" opacity="0.12"/>
<rect x="454.6" y="16" width="1.0" height="195" fill="#fff" opacity="0.35"/>
<rect x="392.4" y="16" width="0.9" height="195" fill="url(#vg1)" opacity="0.07"/>
<rect x="473.2" y="16" width="1.6" height="195" fill="#fff" opacity="0.31"/>
<rect x="302.6" y="16" width="1.8" height="195" fill="#fff" opacity="0.32"/>
<rect x="364.1" y="16" width="1.2" height="195" fill="url(#vg1)" opacity="0.05"/>
<rect x="323.5" y="16" width="1.4" height="195" fill="#fff" opacity="0.20"/>
<rect x="386.1" y="16" width="1.7" height="195" fill="#fff" opacity="0.16"/>
<rect x="474.3" y="16" width="1.6" height="195" fill="url(#vg1)" opacity="0.06"/>
<g filter="url(#bd)">
<rect x="428.7" y="195.8" width="1.2" height="1.3" fill="#3a3a3a"/>
<rect x="327.5" y="87.4" width="1.6" height="2.0" fill="#454545"/>
<rect x="344.6" y="182.6" width="1.5" height="1.6" fill="#2e2e2e"/>
<rect x="427.3" y="121.8" width="1.4" height="1.5" fill="#2f2f2f"/>
<rect x="362.8" y="168.1" width="1.2" height="1.3" fill="#636363"/>
<rect x="337.9" y="89.5" width="1.0" height="0.8" fill="#525252"/>
<rect x="412.2" y="67.3" width="1.5" height="1.7" fill="#272727"/>
<rect x="433.7" y="51.9" width="1.0" height="1.1" fill="#383838"/>
<rect x="344.4" y="5.8" width="1.3" height="1.1" fill="#575757"/>
<rect x="478.3" y="108.5" width="1.0" height="1.0" fill="#252525"/>
<rect x="386.9" y="40.1" width="1.0" height="0.9" fill="#414141"/>
<rect x="380.5" y="96.7" width="1.5" height="1.3" fill="#464646"/>
<rect x="328.4" y="180.5" width="0.9" height="0.8" fill="#272727"/>
<rect x="455.8" y="115.2" width="1.6" height="1.6" fill="#4a4a4a"/>
<rect x="377.8" y="154.6" width="1.1" height="1.1" fill="#565656"/>
<rect x="301.3" y="74.7" width="1.3" height="1.7" fill="#282828"/>
<rect x="475.5" y="109.1" width="1.6" height="1.7" fill="#4e4e4e"/>
<rect x="324.1" y="199.9" width="1.6" height="1.6" fill="#3e3e3e"/>
<rect x="307.5" y="131.3" width="1.6" height="1.5" fill="#393939"/>
<rect x="413.7" y="167.1" width="1.0" height="1.2" fill="#323232"/>
<rect x="301.1" y="171.9" width="1.2" height="1.2" fill="#585858"/>
<rect x="325.6" y="8.0" width="1.0" height="1.2" fill="#303030"/>
<rect x="449.4" y="133.8" width="1.1" height="1.3" fill="#4c4c4c"/>
<rect x="365.4" y="20.8" width="1.3" height="1.1" fill="#2e2e2e"/>
<rect x="369.9" y="19.4" width="1.6" height="2.0" fill="#323232"/>
<rect x="438.3" y="6.2" width="1.6" height="1.7" fill="#575757"/>
<rect x="467.2" y="102.4" width="0.9" height="0.9" fill="#282828"/>
<rect x="462.0" y="174.5" width="1.0" height="0.9" fill="#363636"/>
<rect x="338.0" y="76.4" width="1.2" height="1.4" fill="#282828"/>
<rect x="340.7" y="187.0" width="1.3" height="1.5" fill="#3c3c3c"/>
<rect x="361.0" y="56.8" width="1.0" height="0.9" fill="#333333"/>
<rect x="437.8" y="77.0" width="1.5" height="1.2" fill="#313131"/>
<rect x="353.1" y="84.7" width="1.6" height="1.5" fill="#2c2c2c"/>
<rect x="323.7" y="56.1" width="1.7" height="1.5" fill="#5f5f5f"/>
<rect x="302.8" y="104.0" width="1.4" height="1.4" fill="#262626"/>
<rect x="444.4" y="4.3" width="1.5" height="1.8" fill="#4e4e4e"/>
<rect x="388.9" y="99.4" width="1.3" height="1.4" fill="#282828"/>
<rect x="340.2" y="70.0" width="0.9" height="0.8" fill="#292929"/>
<rect x="399.6" y="52.6" width="1.3" height="1.2" fill="#414141"/>
<rect x="318.0" y="126.5" width="1.4" height="1.5" fill="#4e4e4e"/>
<rect x="407.3" y="9.0" width="1.1" height="1.1" fill="#565656"/>
<rect x="313.5" y="90.5" width="1.6" height="1.3" fill="#252525"/>
<rect x="391.2" y="183.4" width="1.2" height="1.4" fill="#2f2f2f"/>
<rect x="311.6" y="64.7" width="1.4" height="1.7" fill="#595959"/>
<rect x="357.2" y="58.7" width="1.2" height="1.1" fill="#272727"/>
<rect x="444.0" y="205.3" width="1.1" height="1.3" fill="#232323"/>
<rect x="483.3" y="167.3" width="1.2" height="1.5" fill="#525252"/>
<rect x="439.6" y="105.3" width="1.7" height="1.6" fill="#555555"/>
<rect x="377.9" y="22.3" width="1.2" height="1.3" fill="#575757"/>
<rect x="396.3" y="164.2" width="1.0" height="1.0" fill="#373737"/>
<rect x="390.3" y="144.8" width="1.6" height="1.8" fill="#565656"/>
<rect x="427.7" y="114.7" width="1.7" height="1.9" fill="#484848"/>
<rect x="371.0" y="90.2" width="1.5" height="1.9" fill="#383838"/>
<rect x="436.4" y="200.4" width="1.5" height="1.4" fill="#464646"/>
<rect x="296.6" y="140.0" width="1.5" height="1.8" fill="#515151"/>
<rect x="300.1" y="144.6" width="1.1" height="1.4" fill="#393939"/>
<rect x="372.8" y="100.0" width="0.9" height="0.9" fill="#2b2b2b"/>
<rect x="335.4" y="111.4" width="0.9" height="0.8" fill="#242424"/>
<rect x="437.5" y="203.5" width="1.5" height="1.3" fill="#424242"/>
<rect x="447.4" y="30.6" width="1.0" height="1.2" fill="#424242"/>
<rect x="354.2" y="181.5" width="1.2" height="1.4" fill="#626262"/>
<rect x="463.4" y="206.4" width="1.6" height="1.6" fill="#2c2c2c"/>
<rect x="400.3" y="152.5" width="1.1" height="1.0" fill="#464646"/>
<rect x="329.3" y="96.4" width="1.5" height="1.5" fill="#454545"/>
<rect x="337.5" y="77.8" width="1.2" height="1.2" fill="#313131"/>
<rect x="337.8" y="64.5" width="1.4" height="1.6" fill="#4a4a4a"/>
<rect x="475.0" y="140.9" width="1.0" height="1.1" fill="#3a3a3a"/>
<rect x="440.0" y="113.0" width="1.0" height="1.1" fill="#3f3f3f"/>
<rect x="447.7" y="95.7" width="1.1" height="1.1" fill="#202020"/>
<rect x="440.7" y="26.7" width="1.3" height="1.4" fill="#484848"/>
<rect x="338.6" y="22.9" width="0.9" height="1.1" fill="#333333"/>
<rect x="375.6" y="206.9" width="1.6" height="1.6" fill="#474747"/>
<rect x="403.8" y="176.7" width="1.2" height="1.5" fill="#292929"/>
<rect x="417.3" y="81.7" width="1.2" height="1.3" fill="#252525"/>
<rect x="447.9" y="106.5" width="1.5" height="1.4" fill="#525252"/>
<rect x="418.7" y="203.9" width="1.5" height="1.7" fill="#2b2b2b"/>
<rect x="420.0" y="163.5" width="1.5" height="1.9" fill="#5e5e5e"/>
<rect x="334.3" y="102.6" width="0.9" height="0.8" fill="#636363"/>
<rect x="377.0" y="130.7" width="1.2" height="1.3" fill="#2a2a2a"/>
<rect x="337.0" y="104.7" width="1.5" height="1.5" fill="#333333"/>
<rect x="417.5" y="113.4" width="1.5" height="2.0" fill="#5c5c5c"/>
<rect x="325.5" y="103.2" width="1.0" height="1.0" fill="#4f4f4f"/>
<rect x="460.3" y="103.4" width="1.5" height="1.7" fill="#202020"/>
<rect x="374.4" y="175.2" width="1.0" height="1.1" fill="#242424"/>
<rect x="357.3" y="93.4" width="1.2" height="1.4" fill="#636363"/>
<rect x="457.0" y="176.5" width="1.6" height="1.5" fill="#3d3d3d"/>
<rect x="394.5" y="187.9" width="1.6" height="2.0" fill="#3f3f3f"/>
<rect x="443.2" y="12.3" width="1.4" height="1.2" fill="#565656"/>
<rect x="367.4" y="136.7" width="1.3" height="1.1" fill="#434343"/>
<rect x="344.5" y="182.6" width="1.2" height="1.3" fill="#404040"/>
<rect x="348.7" y="89.2" width="1.3" height="1.6" fill="#5b5b5b"/>
<rect x="327.8" y="107.5" width="1.5" height="1.6" fill="#5d5d5d"/>
<rect x="417.4" y="136.7" width="1.4" height="1.9" fill="#5d5d5d"/>
<rect x="488.3" y="29.6" width="1.5" height="1.4" fill="#393939"/>
<rect x="312.7" y="191.2" width="1.6" height="1.7" fill="#434343"/>
<rect x="333.4" y="194.6" width="1.5" height="1.6" fill="#2a2a2a"/>
<rect x="489.2" y="58.1" width="1.2" height="1.2" fill="#373737"/>
<rect x="316.1" y="133.2" width="1.1" height="1.1" fill="#4e4e4e"/>
<rect x="459.0" y="157.5" width="1.6" height="1.9" fill="#292929"/>
<rect x="445.6" y="64.0" width="0.9" height="1.1" fill="#252525"/>
<rect x="483.7" y="17.9" width="1.1" height="0.9" fill="#3a3a3a"/>
<rect x="419.3" y="180.4" width="1.6" height="2.0" fill="#2b2b2b"/>
<rect x="447.8" y="36.1" width="1.6" height="2.0" fill="#5f5f5f"/>
<rect x="441.0" y="171.9" width="1.3" height="1.5" fill="#1f1f1f"/>
<rect x="391.4" y="34.5" width="1.0" height="1.3" fill="#5c5c5c"/>
<rect x="303.1" y="7.9" width="1.5" height="1.8" fill="#323232"/>
<rect x="384.1" y="150.4" width="0.9" height="0.8" fill="#545454"/>
<rect x="377.6" y="103.9" width="1.2" height="1.2" fill="#2f2f2f"/>
<rect x="303.2" y="36.4" width="1.0" height="1.0" fill="#5a5a5a"/>
<rect x="486.8" y="189.1" width="1.0" height="1.3" fill="#5a5a5a"/>
<rect x="380.2" y="103.3" width="1.4" height="1.3" fill="#404040"/>
<rect x="437.3" y="49.2" width="1.2" height="1.2" fill="#202020"/>
<rect x="451.8" y="32.4" width="1.1" height="1.0" fill="#3a3a3a"/>
<rect x="294.3" y="15.2" width="1.1" height="1.3" fill="#555555"/>
<rect x="451.8" y="146.9" width="1.7" height="2.0" fill="#303030"/>
<rect x="381.5" y="201.5" width="1.3" height="1.5" fill="#515151"/>
<rect x="482.9" y="161.3" width="1.2" height="1.4" fill="#4b4b4b"/>
<rect x="478.1" y="54.8" width="1.5" height="1.3" fill="#505050"/>
<rect x="316.5" y="119.6" width="1.4" height="1.5" fill="#353535"/>
<rect x="322.1" y="121.7" width="1.3" height="1.5" fill="#585858"/>
<rect x="308.7" y="118.4" width="1.0" height="1.1" fill="#434343"/>
<rect x="431.7" y="5.9" width="1.3" height="1.4" fill="#2a2a2a"/>
<rect x="390.1" y="104.4" width="1.5" height="1.6" fill="#333333"/>
<rect x="341.5" y="44.7" width="1.4" height="1.7" fill="#292929"/>
<rect x="366.8" y="27.3" width="1.5" height="1.4" fill="#1f1f1f"/>
<rect x="422.0" y="7.3" width="1.5" height="1.9" fill="#454545"/>
<rect x="354.6" y="174.5" width="1.7" height="1.4" fill="#414141"/>
<rect x="360.2" y="171.3" width="0.9" height="1.0" fill="#4a4a4a"/>
<rect x="438.8" y="80.1" width="1.6" height="1.7" fill="#262626"/>
<rect x="353.3" y="119.0" width="1.1" height="1.1" fill="#393939"/>
<rect x="474.8" y="9.8" width="1.1" height="1.3" fill="#282828"/>
<rect x="445.0" y="7.4" width="1.5" height="1.6" fill="#5c5c5c"/>
<rect x="410.3" y="167.0" width="1.6" height="1.9" fill="#2e2e2e"/>
<rect x="308.6" y="78.9" width="1.6" height="1.7" fill="#4a4a4a"/>
<rect x="380.8" y="97.8" width="0.9" height="1.2" fill="#454545"/>
<rect x="316.3" y="11.1" width="1.4" height="1.4" fill="#585858"/>
<rect x="309.5" y="136.6" width="1.4" height="1.7" fill="#2e2e2e"/>
<rect x="400.0" y="165.7" width="1.1" height="1.2" fill="#373737"/>
<rect x="424.7" y="178.2" width="1.7" height="1.3" fill="#505050"/>
<rect x="384.7" y="141.0" width="1.5" height="1.3" fill="#343434"/>
<rect x="407.4" y="43.7" width="1.3" height="1.6" fill="#2e2e2e"/>
<rect x="298.9" y="118.8" width="1.6" height="1.4" fill="#4b4b4b"/>
<rect x="400.9" y="173.8" width="1.4" height="1.7" fill="#5d5d5d"/>
<rect x="368.4" y="29.4" width="1.5" height="1.8" fill="#404040"/>
<rect x="380.6" y="151.8" width="1.0" height="1.3" fill="#535353"/>
<rect x="452.6" y="163.4" width="1.4" height="1.4" fill="#2a2a2a"/>
<rect x="348.3" y="64.0" width="1.4" height="1.5" fill="#373737"/>
<rect x="468.6" y="208.2" width="0.9" height="1.0" fill="#494949"/>
<rect x="378.2" y="155.1" width="1.6" height="1.8" fill="#2f2f2f"/>
<rect x="324.2" y="94.5" width="1.2" height="1.5" fill="#575757"/>
<rect x="464.5" y="111.4" width="1.5" height="1.6" fill="#4c4c4c"/>
<rect x="319.8" y="59.3" width="1.7" height="1.4" fill="#484848"/>
<rect x="363.1" y="31.5" width="1.0" height="0.9" fill="#393939"/>
<rect x="296.7" y="105.9" width="1.6" height="1.6" fill="#3e3e3e"/>
<rect x="368.2" y="58.8" width="1.2" height="1.2" fill="#2c2c2c"/>
<rect x="473.3" y="79.2" width="1.6" height="1.8" fill="#414141"/>
<rect x="387.9" y="84.6" width="1.6" height="1.4" fill="#474747"/>
<rect x="353.4" y="84.8" width="1.4" height="1.3" fill="#383838"/>
<rect x="352.9" y="208.3" width="1.5" height="1.9" fill="#5a5a5a"/>
<rect x="320.9" y="114.2" width="1.5" height="1.6" fill="#404040"/>
<rect x="417.6" y="134.1" width="1.0" height="1.0" fill="#222222"/>
<rect x="299.9" y="67.6" width="0.9" height="1.1" fill="#252525"/>
<rect x="331.4" y="150.7" width="1.2" height="1.3" fill="#595959"/>
<rect x="464.7" y="91.4" width="1.2" height="1.4" fill="#5f5f5f"/>
<rect x="377.4" y="183.2" width="1.5" height="1.2" fill="#4b4b4b"/>
<rect x="468.1" y="26.0" width="0.9" height="0.8" fill="#363636"/>
<rect x="340.5" y="103.8" width="1.3" height="1.6" fill="#4e4e4e"/>
<rect x="429.9" y="182.1" width="1.2" height="1.4" fill="#282828"/>
<rect x="489.1" y="38.8" width="1.4" height="1.8" fill="#393939"/>
<rect x="299.4" y="102.3" width="1.2" height="1.4" fill="#383838"/>
<rect x="293.1" y="60.6" width="1.7" height="1.4" fill="#3e3e3e"/>
<rect x="414.8" y="139.0" width="1.6" height="2.1" fill="#5c5c5c"/>
<rect x="345.2" y="69.4" width="1.5" height="1.4" fill="#363636"/>
<rect x="300.8" y="44.8" width="1.0" height="1.2" fill="#383838"/>
<rect x="331.2" y="63.1" width="1.0" height="1.1" fill="#3a3a3a"/>
<rect x="411.4" y="136.9" width="1.3" height="1.6" fill="#4f4f4f"/>
<rect x="458.5" y="4.1" width="1.6" height="2.1" fill="#404040"/>
<rect x="443.2" y="99.0" width="0.9" height="1.1" fill="#252525"/>
<rect x="294.3" y="14.3" width="1.5" height="1.7" fill="#494949"/>
<rect x="306.3" y="201.0" width="1.5" height="1.6" fill="#1f1f1f"/>
<rect x="357.3" y="51.8" width="1.4" height="1.1" fill="#636363"/>
<rect x="451.5" y="195.6" width="1.0" height="0.8" fill="#5d5d5d"/>
<rect x="356.4" y="8.8" width="1.0" height="1.1" fill="#2a2a2a"/>
<rect x="378.8" y="202.9" width="1.5" height="1.3" fill="#232323"/>
<rect x="347.9" y="171.6" width="1.5" height="1.9" fill="#595959"/>
<rect x="437.0" y="119.0" width="1.6" height="1.9" fill="#585858"/>
<rect x="466.3" y="113.4" width="1.0" height="1.1" fill="#4a4a4a"/>
<rect x="479.9" y="157.6" width="1.6" height="1.6" fill="#5e5e5e"/>
<rect x="475.4" y="121.0" width="1.2" height="1.3" fill="#3d3d3d"/>
<rect x="374.6" y="152.4" width="1.1" height="1.2" fill="#3d3d3d"/>
<rect x="484.2" y="154.2" width="1.3" height="1.5" fill="#383838"/>
<rect x="475.1" y="7.6" width="1.2" height="1.4" fill="#323232"/>
<rect x="424.4" y="4.6" width="1.6" height="1.4" fill="#3b3b3b"/>
<rect x="312.5" y="18.7" width="1.1" height="1.3" fill="#242424"/>
<rect x="320.1" y="92.9" width="1.4" height="1.3" fill="#3d3d3d"/>
<rect x="382.3" y="98.6" width="1.4" height="1.3" fill="#474747"/>
<rect x="427.1" y="179.6" width="1.7" height="1.6" fill="#494949"/>
<rect x="293.1" y="92.4" width="1.7" height="2.0" fill="#636363"/>
<rect x="331.2" y="45.7" width="1.0" height="1.3" fill="#3c3c3c"/>
<rect x="334.1" y="171.8" width="1.3" height="1.4" fill="#313131"/>
<rect x="303.6" y="134.4" width="1.6" height="2.1" fill="#353535"/>
<rect x="349.9" y="76.7" width="1.5" height="1.2" fill="#2d2d2d"/>
<rect x="391.4" y="104.9" width="1.0" height="0.9" fill="#2a2a2a"/>
<rect x="330.5" y="34.9" width="1.4" height="1.6" fill="#5c5c5c"/>
<rect x="338.0" y="117.5" width="1.7" height="1.9" fill="#373737"/>
<rect x="294.1" y="161.4" width="1.6" height="2.0" fill="#444444"/>
<rect x="410.5" y="164.8" width="1.3" height="1.2" fill="#393939"/>
<rect x="403.5" y="162.6" width="0.9" height="0.8" fill="#4d4d4d"/>
<rect x="419.8" y="151.1" width="1.6" height="1.8" fill="#4c4c4c"/>
<rect x="427.5" y="142.5" width="1.5" height="1.8" fill="#4e4e4e"/>
<rect x="363.3" y="199.9" width="1.1" height="0.9" fill="#212121"/>
<rect x="401.1" y="180.1" width="1.0" height="1.0" fill="#5c5c5c"/>
<rect x="423.8" y="37.9" width="1.7" height="1.6" fill="#3e3e3e"/>
<rect x="415.7" y="13.4" width="1.4" height="1.2" fill="#595959"/>
<rect x="342.8" y="60.4" width="1.1" height="1.3" fill="#494949"/>
<rect x="383.1" y="146.9" width="1.6" height="1.6" fill="#575757"/>
<rect x="469.2" y="42.5" width="1.6" height="1.5" fill="#242424"/>
<rect x="313.4" y="119.9" width="1.0" height="0.9" fill="#494949"/>
<rect x="425.5" y="105.9" width="1.1" height="1.4" fill="#282828"/>
<rect x="331.0" y="72.3" width="1.6" height="1.9" fill="#5c5c5c"/>
<rect x="418.6" y="177.3" width="1.6" height="1.8" fill="#585858"/>
<rect x="374.8" y="159.7" width="1.2" height="1.0" fill="#454545"/>
<rect x="323.9" y="142.6" width="1.0" height="1.2" fill="#252525"/>
<rect x="469.6" y="204.1" width="1.5" height="1.7" fill="#333333"/>
<rect x="394.7" y="21.0" width="1.0" height="1.0" fill="#494949"/>
<rect x="406.3" y="193.7" width="1.0" height="1.2" fill="#292929"/>
<rect x="315.9" y="79.8" width="1.3" height="1.3" fill="#313131"/>
<rect x="325.6" y="170.4" width="1.1" height="1.1" fill="#515151"/>
<rect x="392.5" y="20.4" width="1.6" height="2.0" fill="#1f1f1f"/>
<rect x="296.6" y="82.6" width="1.3" height="1.2" fill="#494949"/>
<rect x="489.4" y="74.8" width="1.1" height="1.2" fill="#515151"/>
<rect x="412.7" y="200.1" width="1.6" height="2.0" fill="#333333"/>
<rect x="468.7" y="15.5" width="1.3" height="1.3" fill="#5b5b5b"/>
<rect x="359.2" y="103.9" width="1.6" height="1.8" fill="#1f1f1f"/>
<rect x="432.4" y="200.6" width="1.4" height="1.6" fill="#313131"/>
<rect x="436.9" y="30.5" width="1.5" height="1.7" fill="#484848"/>
<rect x="420.8" y="131.0" width="1.0" height="0.8" fill="#282828"/>
<rect x="355.6" y="48.9" width="1.4" height="1.2" fill="#252525"/>
<rect x="395.1" y="165.8" width="1.3" height="1.6" fill="#222222"/>
<rect x="403.2" y="192.0" width="1.5" height="1.8" fill="#5d5d5d"/>
<rect x="440.4" y="182.0" width="1.4" height="1.8" fill="#626262"/>
<rect x="325.7" y="102.4" width="1.7" height="1.8" fill="#4d4d4d"/>
<rect x="375.2" y="21.1" width="1.2" height="1.1" fill="#1f1f1f"/>
<rect x="383.4" y="95.3" width="1.4" height="1.7" fill="#474747"/>
<rect x="405.0" y="167.3" width="0.9" height="1.2" fill="#3e3e3e"/>
<rect x="439.7" y="175.2" width="1.7" height="1.8" fill="#292929"/>
<rect x="467.3" y="70.0" width="1.3" height="1.1" fill="#2b2b2b"/>
<rect x="472.1" y="155.5" width="1.5" height="1.6" fill="#5d5d5d"/>
<rect x="458.7" y="164.1" width="1.3" height="1.1" fill="#3f3f3f"/>
<rect x="379.7" y="177.4" width="0.9" height="0.8" fill="#606060"/>
<rect x="392.5" y="65.1" width="0.9" height="0.8" fill="#494949"/>
<rect x="373.0" y="175.4" width="1.3" height="1.1" fill="#363636"/>
<rect x="296.5" y="170.5" width="1.3" height="1.5" fill="#333333"/>
<rect x="396.9" y="51.1" width="1.7" height="1.6" fill="#3b3b3b"/>
<rect x="486.2" y="90.0" width="1.3" height="1.4" fill="#585858"/>
<rect x="342.3" y="14.1" width="1.0" height="1.1" fill="#282828"/>
<rect x="366.8" y="113.3" width="1.1" height="1.5" fill="#212121"/>
<rect x="424.0" y="145.5" width="1.4" height="1.7" fill="#212121"/>
<rect x="464.5" y="51.6" width="1.6" height="1.4" fill="#616161"/>
<rect x="472.6" y="13.2" width="1.5" height="1.3" fill="#626262"/>
<rect x="381.0" y="8.0" width="1.3" height="1.4" fill="#222222"/>
<rect x="330.1" y="43.1" width="1.4" height="1.3" fill="#2f2f2f"/>
<rect x="349.6" y="81.7" width="1.4" height="1.6" fill="#474747"/>
<rect x="429.7" y="59.8" width="1.4" height="1.2" fill="#222222"/>
<rect x="404.5" y="137.5" width="1.1" height="1.0" fill="#636363"/>
<rect x="452.9" y="115.9" width="1.4" height="1.1" fill="#3c3c3c"/>
<rect x="379.6" y="144.1" width="1.5" height="1.4" fill="#575757"/>
<rect x="394.0" y="28.5" width="1.2" height="1.5" fill="#3b3b3b"/>
<rect x="311.5" y="14.2" width="1.4" height="1.2" fill="#555555"/>
<rect x="427.9" y="34.9" width="1.6" height="1.4" fill="#4b4b4b"/>
<rect x="367.4" y="176.0" width="1.7" height="1.7" fill="#212121"/>
<rect x="315.8" y="202.2" width="1.7" height="2.0" fill="#3b3b3b"/>
<rect x="342.8" y="177.4" width="1.0" height="1.1" fill="#343434"/>
<rect x="439.4" y="101.2" width="1.0" height="0.9" fill="#202020"/>
<rect x="348.8" y="137.8" width="1.1" height="1.2" fill="#5e5e5e"/>
<rect x="354.1" y="121.9" width="1.6" height="1.8" fill="#303030"/>
<rect x="419.2" y="173.8" width="1.4" height="1.8" fill="#222222"/>
<rect x="335.0" y="129.5" width="1.0" height="1.2" fill="#555555"/>
<rect x="451.8" y="147.9" width="1.6" height="2.0" fill="#434343"/>
<rect x="348.3" y="31.9" width="1.1" height="1.3" fill="#3a3a3a"/>
<rect x="445.2" y="66.2" width="1.5" height="1.5" fill="#5d5d5d"/>
<rect x="428.8" y="64.2" width="1.2" height="1.2" fill="#2c2c2c"/>
<rect x="308.7" y="84.1" width="1.5" height="1.4" fill="#2b2b2b"/>
<rect x="471.1" y="75.6" width="1.1" height="0.9" fill="#2a2a2a"/>
<rect x="465.6" y="153.2" width="1.7" height="1.9" fill="#5c5c5c"/>
<rect x="479.6" y="55.7" width="1.5" height="1.3" fill="#575757"/>
<rect x="474.6" y="204.2" width="1.1" height="0.9" fill="#2a2a2a"/>
<rect x="330.4" y="74.3" width="1.5" height="1.4" fill="#2d2d2d"/>
<rect x="427.1" y="170.1" width="0.9" height="1.0" fill="#555555"/>
<rect x="354.6" y="100.4" width="0.9" height="0.8" fill="#3d3d3d"/>
<rect x="440.5" y="110.3" width="1.0" height="1.1" fill="#2d2d2d"/>
<rect x="350.1" y="160.6" width="1.4" height="1.2" fill="#545454"/>
<rect x="333.3" y="197.8" width="1.5" height="1.9" fill="#3c3c3c"/>
<rect x="304.4" y="128.4" width="1.0" height="0.9" fill="#343434"/>
<rect x="370.2" y="14.9" width="1.0" height="0.9" fill="#4d4d4d"/>
<rect x="389.7" y="204.3" width="1.5" height="1.8" fill="#252525"/>
<rect x="407.6" y="115.0" width="1.5" height="1.5" fill="#616161"/>
<rect x="455.1" y="45.8" width="1.3" height="1.6" fill="#5c5c5c"/>
<rect x="361.3" y="186.5" width="1.4" height="1.6" fill="#5c5c5c"/>
<rect x="381.4" y="76.5" width="1.0" height="0.9" fill="#5c5c5c"/>
<rect x="309.1" y="66.6" width="1.0" height="1.2" fill="#2e2e2e"/>
<rect x="356.8" y="179.9" width="1.2" height="1.5" fill="#5b5b5b"/>
<rect x="344.7" y="120.3" width="1.4" height="1.2" fill="#2a2a2a"/>
<rect x="464.6" y="6.9" width="1.1" height="1.3" fill="#272727"/>
<rect x="421.2" y="108.7" width="1.3" height="1.2" fill="#616161"/>
<rect x="456.2" y="64.1" width="1.1" height="1.1" fill="#4e4e4e"/>
<rect x="407.1" y="146.5" width="0.9" height="0.9" fill="#393939"/>
<rect x="455.1" y="164.5" width="1.3" height="1.5" fill="#3a3a3a"/>
<rect x="438.0" y="13.1" width="1.5" height="1.5" fill="#5a5a5a"/>
<rect x="425.2" y="102.5" width="1.1" height="1.2" fill="#222222"/>
<rect x="437.0" y="88.6" width="1.4" height="1.7" fill="#2b2b2b"/>
<rect x="438.4" y="105.9" width="1.0" height="1.0" fill="#1e1e1e"/>
<rect x="341.8" y="12.1" width="1.2" height="1.2" fill="#5f5f5f"/>
<rect x="427.6" y="92.4" width="1.1" height="1.2" fill="#2a2a2a"/>
<rect x="429.2" y="111.2" width="1.3" height="1.1" fill="#474747"/>
<rect x="477.2" y="181.5" width="1.0" height="1.2" fill="#5a5a5a"/>
<rect x="299.7" y="162.9" width="1.6" height="1.4" fill="#333333"/>
<rect x="388.3" y="11.9" width="1.0" height="1.0" fill="#4f4f4f"/>
<rect x="371.6" y="191.2" width="1.5" height="1.3" fill="#333333"/>
<rect x="300.8" y="140.5" width="1.3" height="1.4" fill="#636363"/>
<rect x="413.6" y="167.9" width="1.3" height="1.3" fill="#414141"/>
<rect x="390.4" y="148.8" width="1.3" height="1.3" fill="#525252"/>
<rect x="415.5" y="89.6" width="1.3" height="1.2" fill="#545454"/>
<rect x="299.4" y="48.8" width="1.1" height="1.2" fill="#282828"/>
<rect x="382.4" y="96.9" width="1.5" height="1.9" fill="#262626"/>
<rect x="447.3" y="56.5" width="1.5" height="1.2" fill="#5a5a5a"/>
<rect x="361.3" y="150.3" width="1.2" height="1.1" fill="#2a2a2a"/>
<rect x="349.9" y="152.2" width="1.3" height="1.7" fill="#363636"/>
<rect x="360.5" y="116.7" width="1.6" height="1.6" fill="#636363"/>
<rect x="368.7" y="130.4" width="1.3" height="1.4" fill="#444444"/>
<rect x="331.0" y="38.3" width="1.3" height="1.4" fill="#2e2e2e"/>
<rect x="300.5" y="77.6" width="1.0" height="1.3" fill="#404040"/>
<rect x="326.6" y="47.2" width="1.2" height="1.0" fill="#323232"/>
<rect x="309.3" y="143.4" width="1.6" height="1.9" fill="#1f1f1f"/>
<rect x="450.0" y="156.8" width="1.5" height="1.4" fill="#252525"/>
<rect x="460.6" y="110.4" width="1.5" height="1.9" fill="#303030"/>
<rect x="469.2" y="38.5" width="1.5" height="1.2" fill="#646464"/>
<rect x="339.6" y="190.3" width="1.5" height="1.3" fill="#373737"/>
<rect x="470.5" y="13.3" width="1.7" height="1.6" fill="#212121"/>
<rect x="391.1" y="124.7" width="1.6" height="2.0" fill="#3b3b3b"/>
<rect x="356.8" y="77.2" width="1.7" height="1.8" fill="#353535"/>
<rect x="306.5" y="168.4" width="1.3" height="1.5" fill="#5a5a5a"/>
<rect x="374.8" y="14.3" width="1.2" height="1.2" fill="#404040"/>
<rect x="381.8" y="53.0" width="1.1" height="1.3" fill="#5e5e5e"/>
<rect x="365.9" y="173.6" width="1.0" height="0.9" fill="#4b4b4b"/>
<rect x="350.0" y="107.0" width="1.4" height="1.3" fill="#333333"/>
<rect x="370.0" y="173.5" width="1.6" height="1.9" fill="#5c5c5c"/>
<rect x="483.3" y="12.5" width="1.6" height="1.3" fill="#383838"/>
<rect x="334.0" y="181.0" width="1.4" height="1.4" fill="#242424"/>
<rect x="475.1" y="208.6" width="1.7" height="2.1" fill="#5c5c5c"/>
<rect x="466.7" y="100.0" width="1.1" height="0.9" fill="#444444"/>
<rect x="401.3" y="61.3" width="1.1" height="1.2" fill="#3c3c3c"/>
<rect x="388.3" y="27.2" width="1.7" height="1.8" fill="#2d2d2d"/>
<rect x="457.7" y="143.9" width="1.3" height="1.1" fill="#5c5c5c"/>
<rect x="398.5" y="29.8" width="1.3" height="1.6" fill="#333333"/>
<rect x="382.3" y="41.9" width="1.0" height="1.1" fill="#272727"/>
<rect x="462.8" y="192.2" width="1.5" height="1.7" fill="#242424"/>
<rect x="342.6" y="30.0" width="1.0" height="0.8" fill="#545454"/>
<rect x="463.7" y="71.0" width="1.2" height="1.1" fill="#5d5d5d"/>
<rect x="376.8" y="179.5" width="1.4" height="1.2" fill="#2f2f2f"/>
<rect x="454.1" y="131.6" width="1.7" height="1.6" fill="#2b2b2b"/>
<rect x="431.0" y="69.0" width="1.7" height="1.4" fill="#333333"/>
<rect x="390.1" y="22.0" width="1.2" height="1.4" fill="#5f5f5f"/>
<rect x="377.7" y="140.7" width="1.6" height="2.0" fill="#222222"/>
<rect x="470.7" y="88.8" width="1.1" height="1.1" fill="#505050"/>
<rect x="315.6" y="128.0" width="1.3" height="1.1" fill="#484848"/>
<rect x="400.3" y="96.2" width="1.6" height="1.8" fill="#505050"/>
<rect x="405.3" y="51.6" width="1.6" height="2.0" fill="#303030"/>
<rect x="397.3" y="88.5" width="1.2" height="1.3" fill="#3f3f3f"/>
<rect x="323.8" y="88.9" width="0.9" height="0.8" fill="#454545"/>
<rect x="337.3" y="8.9" width="1.3" height="1.4" fill="#202020"/>
<rect x="423.2" y="29.5" width="1.2" height="1.2" fill="#333333"/>
<rect x="354.6" y="80.2" width="1.6" height="2.0" fill="#1f1f1f"/>
<rect x="471.5" y="135.1" width="1.5" height="1.5" fill="#515151"/>
<rect x="325.7" y="27.1" width="1.4" height="1.6" fill="#4e4e4e"/>
<rect x="486.9" y="64.4" width="1.4" height="1.7" fill="#313131"/>
<rect x="305.7" y="128.4" width="1.6" height="2.1" fill="#2f2f2f"/>
<rect x="375.0" y="208.7" width="1.1" height="1.1" fill="#5d5d5d"/>
<rect x="455.1" y="191.6" width="1.4" height="1.6" fill="#525252"/>
<rect x="471.7" y="171.3" width="1.4" height="1.5" fill="#505050"/>
<rect x="343.3" y="8.1" width="1.6" height="1.7" fill="#262626"/>
<rect x="329.7" y="51.3" width="1.0" height="0.9" fill="#444444"/>
<rect x="462.8" y="128.7" width="1.0" height="1.2" fill="#2c2c2c"/>
<rect x="482.7" y="87.9" width="0.9" height="1.0" fill="#303030"/>
<rect x="365.5" y="153.9" width="0.9" height="0.8" fill="#636363"/>
<rect x="420.3" y="107.8" width="1.6" height="1.6" fill="#3c3c3c"/>
<rect x="362.4" y="192.9" width="1.4" height="1.5" fill="#373737"/>
<rect x="366.5" y="24.8" width="1.7" height="2.1" fill="#5a5a5a"/>
<rect x="394.7" y="15.1" width="1.0" height="1.0" fill="#2d2d2d"/>
<rect x="353.9" y="202.1" width="1.6" height="1.5" fill="#3d3d3d"/>
<rect x="364.8" y="93.5" width="1.2" height="1.5" fill="#252525"/>
<rect x="433.6" y="209.4" width="1.1" height="1.4" fill="#3c3c3c"/>
<rect x="375.4" y="186.9" width="1.5" height="1.7" fill="#323232"/>
<rect x="380.3" y="196.2" width="1.1" height="1.0" fill="#2f2f2f"/>
<rect x="308.5" y="29.1" width="1.6" height="1.9" fill="#444444"/>
<rect x="443.3" y="135.1" width="1.2" height="1.2" fill="#5b5b5b"/>
<rect x="469.0" y="18.2" width="1.4" height="1.5" fill="#626262"/>
<rect x="364.3" y="102.1" width="1.2" height="1.3" fill="#292929"/>
<rect x="332.8" y="104.3" width="1.3" height="1.5" fill="#464646"/>
<rect x="296.1" y="20.0" width="1.2" height="1.4" fill="#232323"/>
<rect x="433.9" y="46.9" width="1.3" height="1.3" fill="#323232"/>
<rect x="420.6" y="104.4" width="1.0" height="1.1" fill="#222222"/>
<rect x="459.9" y="131.6" width="1.3" height="1.4" fill="#434343"/>
<rect x="441.8" y="116.3" width="1.2" height="1.2" fill="#303030"/>
<rect x="386.9" y="113.4" width="0.9" height="1.2" fill="#3a3a3a"/>
<rect x="376.4" y="160.9" width="1.4" height="1.5" fill="#626262"/>
<rect x="312.7" y="120.4" width="1.7" height="1.9" fill="#626262"/>
<rect x="365.6" y="137.0" width="1.0" height="1.2" fill="#555555"/>
<rect x="355.4" y="164.0" width="1.6" height="2.0" fill="#5c5c5c"/>
<rect x="429.9" y="106.5" width="1.3" height="1.3" fill="#3e3e3e"/>
<rect x="385.7" y="21.8" width="1.3" height="1.2" fill="#4e4e4e"/>
<rect x="465.9" y="187.6" width="1.6" height="2.0" fill="#464646"/>
<rect x="314.2" y="37.4" width="1.0" height="0.8" fill="#383838"/>
<rect x="362.8" y="186.3" width="1.3" height="1.4" fill="#252525"/>
<rect x="413.5" y="144.9" width="1.0" height="1.0" fill="#303030"/>
<rect x="396.3" y="173.8" width="1.3" height="1.4" fill="#4e4e4e"/>
<rect x="369.0" y="24.4" width="1.6" height="1.9" fill="#5c5c5c"/>
<rect x="408.6" y="170.8" width="1.1" height="1.1" fill="#222222"/>
<rect x="361.0" y="35.5" width="1.1" height="1.3" fill="#626262"/>
<rect x="303.5" y="58.6" width="1.5" height="1.4" fill="#4d4d4d"/>
<rect x="404.5" y="187.9" width="0.9" height="0.9" fill="#606060"/>
<rect x="334.5" y="101.8" width="1.3" height="1.2" fill="#272727"/>
<rect x="432.0" y="61.3" width="1.0" height="1.0" fill="#3e3e3e"/>
<rect x="461.2" y="138.8" width="1.4" height="1.6" fill="#5c5c5c"/>
<rect x="406.4" y="129.9" width="1.2" height="1.3" fill="#535353"/>
<rect x="480.0" y="126.4" width="1.6" height="1.9" fill="#282828"/>
<rect x="334.9" y="110.4" width="1.2" height="1.4" fill="#202020"/>
<rect x="408.6" y="67.9" width="1.4" height="1.2" fill="#5b5b5b"/>
<rect x="350.0" y="175.6" width="1.7" height="1.6" fill="#5b5b5b"/>
<rect x="346.5" y="38.0" width="1.0" height="1.0" fill="#2a2a2a"/>
<rect x="427.2" y="4.7" width="1.1" height="1.3" fill="#565656"/>
<rect x="347.3" y="203.4" width="1.1" height="1.1" fill="#2c2c2c"/>
<rect x="388.6" y="202.4" width="1.1" height="1.2" fill="#5b5b5b"/>
<rect x="471.7" y="179.3" width="1.6" height="1.8" fill="#4a4a4a"/>
<rect x="387.8" y="78.3" width="1.4" height="1.3" fill="#282828"/>
<rect x="484.1" y="91.3" width="1.3" height="1.2" fill="#494949"/>
<rect x="339.6" y="152.6" width="1.2" height="1.3" fill="#5c5c5c"/>
<rect x="361.8" y="81.0" width="1.4" height="1.8" fill="#242424"/>
<rect x="325.7" y="144.9" width="0.9" height="0.8" fill="#474747"/>
<rect x="434.0" y="94.3" width="1.7" height="2.1" fill="#2e2e2e"/>
<rect x="443.4" y="91.8" width="1.5" height="1.5" fill="#3d3d3d"/>
<rect x="439.1" y="171.2" width="1.2" height="1.1" fill="#505050"/>
<rect x="461.9" y="198.2" width="1.7" height="1.9" fill="#3a3a3a"/>
<rect x="429.3" y="38.3" width="1.0" height="1.3" fill="#4c4c4c"/>
<rect x="430.2" y="124.4" width="1.7" height="2.1" fill="#2c2c2c"/>
<rect x="313.8" y="172.1" width="1.1" height="1.1" fill="#535353"/>
<rect x="478.4" y="114.0" width="1.5" height="1.9" fill="#282828"/>
<rect x="348.8" y="161.4" width="1.1" height="1.0" fill="#232323"/>
<rect x="386.6" y="5.3" width="1.1" height="1.0" fill="#212121"/>
<rect x="389.5" y="38.6" width="1.4" height="1.4" fill="#313131"/>
<rect x="388.2" y="127.7" width="1.3" height="1.4" fill="#222222"/>
<rect x="393.0" y="38.8" width="1.4" height="1.5" fill="#1e1e1e"/>
<rect x="351.8" y="139.7" width="1.0" height="1.0" fill="#494949"/>
<rect x="293.2" y="111.2" width="1.0" height="0.9" fill="#5a5a5a"/>
<rect x="330.1" y="87.8" width="1.4" height="1.6" fill="#434343"/>
<rect x="420.2" y="208.0" width="1.4" height="1.8" fill="#363636"/>
<rect x="383.8" y="62.7" width="0.9" height="1.0" fill="#505050"/>
<rect x="319.3" y="198.9" width="1.0" height="1.1" fill="#474747"/>
<rect x="378.1" y="82.0" width="1.4" height="1.4" fill="#434343"/>
<rect x="361.1" y="107.0" width="1.2" height="1.5" fill="#353535"/>
<rect x="423.0" y="208.5" width="1.1" height="1.2" fill="#555555"/>
<rect x="357.0" y="109.1" width="1.5" height="1.4" fill="#444444"/>
<rect x="349.5" y="168.7" width="1.0" height="1.1" fill="#272727"/>
<rect x="416.6" y="180.6" width="1.3" height="1.6" fill="#353535"/>
<rect x="351.7" y="149.1" width="1.0" height="1.0" fill="#3b3b3b"/>
<rect x="394.4" y="12.0" width="1.6" height="1.8" fill="#616161"/>
<rect x="453.2" y="192.5" width="1.7" height="1.7" fill="#595959"/>
<rect x="312.5" y="81.3" width="0.9" height="1.2" fill="#414141"/>
<rect x="467.5" y="50.3" width="1.4" height="1.7" fill="#313131"/>
<rect x="330.3" y="26.1" width="1.3" height="1.4" fill="#626262"/>
<rect x="391.9" y="178.6" width="1.4" height="1.5" fill="#515151"/>
<rect x="366.4" y="97.5" width="1.3" height="1.2" fill="#282828"/>
<rect x="322.6" y="140.1" width="1.3" height="1.3" fill="#484848"/>
<rect x="437.6" y="164.6" width="1.0" height="1.2" fill="#212121"/>
<rect x="336.4" y="207.5" width="1.2" height="1.0" fill="#323232"/>
<rect x="406.4" y="125.5" width="0.9" height="0.8" fill="#515151"/>
<rect x="386.6" y="191.6" width="0.9" height="1.1" fill="#5b5b5b"/>
<rect x="354.8" y="131.1" width="1.0" height="1.3" fill="#4e4e4e"/>
<rect x="359.2" y="8.3" width="0.9" height="1.0" fill="#383838"/>
<rect x="489.3" y="190.3" width="1.6" height="1.8" fill="#494949"/>
<rect x="417.6" y="30.9" width="1.5" height="1.4" fill="#393939"/>
<rect x="483.9" y="170.6" width="1.0" height="0.8" fill="#434343"/>
<rect x="453.6" y="72.3" width="1.3" height="1.5" fill="#4e4e4e"/>
<rect x="302.2" y="127.5" width="1.2" height="1.5" fill="#343434"/>
<rect x="428.4" y="154.8" width="1.1" height="1.2" fill="#393939"/>
<rect x="393.0" y="102.4" width="1.6" height="1.4" fill="#2c2c2c"/>
<rect x="394.2" y="122.4" width="1.6" height="2.0" fill="#323232"/>
<rect x="328.4" y="95.2" width="1.2" height="1.1" fill="#2a2a2a"/>
<rect x="368.3" y="48.3" width="1.1" height="1.0" fill="#525252"/>
<rect x="472.4" y="74.9" width="0.9" height="1.1" fill="#2a2a2a"/>
<rect x="404.7" y="194.5" width="1.2" height="1.3" fill="#363636"/>
<rect x="382.9" y="157.5" width="1.7" height="2.0" fill="#505050"/>
<rect x="357.7" y="99.2" width="0.9" height="1.1" fill="#5d5d5d"/>
<rect x="433.9" y="73.9" width="1.2" height="1.1" fill="#474747"/>
<rect x="387.0" y="44.8" width="1.6" height="1.8" fill="#5f5f5f"/>
<rect x="469.7" y="195.5" width="1.3" height="1.5" fill="#202020"/>
<rect x="379.3" y="77.1" width="1.1" height="1.4" fill="#464646"/>
<rect x="356.0" y="122.9" width="1.3" height="1.3" fill="#585858"/>
<rect x="482.7" y="18.1" width="1.7" height="2.0" fill="#353535"/>
<rect x="378.5" y="62.5" width="1.6" height="1.4" fill="#494949"/>
<rect x="414.4" y="111.4" width="1.7" height="1.9" fill="#424242"/>
<rect x="426.1" y="6.3" width="1.3" height="1.3" fill="#606060"/>
<rect x="343.4" y="54.9" width="1.2" height="1.1" fill="#3f3f3f"/>
<rect x="395.5" y="37.6" width="1.0" height="1.0" fill="#232323"/>
<rect x="327.6" y="60.7" width="1.1" height="1.2" fill="#393939"/>
<rect x="296.3" y="65.7" width="1.6" height="2.0" fill="#212121"/>
<rect x="314.7" y="72.2" width="1.6" height="1.5" fill="#545454"/>
<rect x="380.4" y="74.1" width="1.4" height="1.6" fill="#212121"/>
<rect x="379.3" y="180.4" width="1.0" height="1.2" fill="#2a2a2a"/>
<rect x="425.9" y="83.1" width="1.4" height="1.3" fill="#222222"/>
<rect x="325.0" y="203.0" width="1.6" height="1.8" fill="#5e5e5e"/>
<rect x="489.6" y="64.6" width="1.1" height="1.4" fill="#5c5c5c"/>
<rect x="448.5" y="147.8" width="1.4" height="1.4" fill="#202020"/>
<rect x="362.9" y="178.9" width="1.1" height="1.3" fill="#4a4a4a"/>
<rect x="378.9" y="83.6" width="1.2" height="1.2" fill="#3c3c3c"/>
<rect x="329.9" y="173.1" width="1.1" height="0.9" fill="#3a3a3a"/>
<rect x="352.3" y="141.7" width="1.4" height="1.6" fill="#585858"/>
<rect x="357.9" y="205.2" width="1.5" height="1.9" fill="#515151"/>
<rect x="448.4" y="97.4" width="1.7" height="1.7" fill="#3f3f3f"/>
<rect x="330.2" y="43.1" width="1.3" height="1.3" fill="#525252"/>
<rect x="440.0" y="49.5" width="0.8" height="0.7" fill="#969696"/>
<rect x="405.2" y="82.2" width="0.9" height="1.0" fill="#575757"/>
<rect x="393.8" y="71.3" width="1.1" height="1.1" fill="#909090"/>
<rect x="422.7" y="157.2" width="0.9" height="1.0" fill="#838383"/>
<rect x="451.1" y="10.4" width="1.3" height="1.3" fill="#777777"/>
<rect x="395.5" y="175.1" width="0.9" height="0.7" fill="#595959"/>
<rect x="363.0" y="5.1" width="1.1" height="1.3" fill="#606060"/>
<rect x="347.9" y="51.5" width="1.0" height="1.0" fill="#565656"/>
<rect x="327.4" y="107.3" width="0.9" height="1.0" fill="#5d5d5d"/>
<rect x="448.5" y="126.9" width="0.9" height="1.0" fill="#717171"/>
<rect x="425.6" y="179.2" width="1.2" height="1.1" fill="#919191"/>
<rect x="381.8" y="111.7" width="0.8" height="0.7" fill="#535353"/>
<rect x="353.5" y="168.7" width="0.9" height="1.0" fill="#7a7a7a"/>
<rect x="458.8" y="27.8" width="0.9" height="0.8" fill="#595959"/>
<rect x="356.4" y="65.4" width="1.0" height="0.8" fill="#585858"/>
<rect x="327.4" y="168.2" width="1.1" height="1.3" fill="#7e7e7e"/>
<rect x="424.0" y="30.6" width="1.1" height="1.3" fill="#707070"/>
<rect x="454.6" y="155.9" width="1.1" height="1.0" fill="#747474"/>
<rect x="383.5" y="12.6" width="1.1" height="1.3" fill="#676767"/>
<rect x="479.0" y="24.9" width="1.1" height="1.3" fill="#666666"/>
<rect x="475.4" y="197.0" width="0.9" height="1.0" fill="#666666"/>
<rect x="438.5" y="17.3" width="1.0" height="1.2" fill="#767676"/>
<rect x="459.6" y="136.5" width="1.1" height="1.3" fill="#6f6f6f"/>
<rect x="381.2" y="83.9" width="1.1" height="1.5" fill="#898989"/>
<rect x="415.0" y="130.9" width="0.8" height="0.7" fill="#929292"/>
<rect x="450.7" y="12.0" width="1.1" height="1.3" fill="#6b6b6b"/>
<rect x="302.6" y="114.7" width="1.1" height="1.1" fill="#686868"/>
<rect x="464.1" y="187.1" width="1.2" height="1.2" fill="#7f7f7f"/>
<rect x="424.9" y="172.2" width="0.8" height="1.1" fill="#525252"/>
<rect x="388.1" y="62.9" width="0.9" height="0.9" fill="#5e5e5e"/>
<rect x="299.5" y="46.1" width="1.3" height="1.6" fill="#8d8d8d"/>
<rect x="344.2" y="66.3" width="1.2" height="1.2" fill="#888888"/>
<rect x="455.0" y="37.5" width="1.3" height="1.3" fill="#7f7f7f"/>
<rect x="459.9" y="141.2" width="1.2" height="1.0" fill="#818181"/>
<rect x="462.6" y="206.8" width="0.9" height="1.1" fill="#929292"/>
<rect x="475.3" y="173.1" width="1.2" height="1.5" fill="#5a5a5a"/>
<rect x="384.9" y="168.4" width="0.9" height="0.8" fill="#8d8d8d"/>
<rect x="391.6" y="182.8" width="1.1" height="1.4" fill="#777777"/>
<rect x="449.1" y="76.7" width="1.1" height="1.3" fill="#828282"/>
<rect x="317.0" y="92.6" width="1.3" height="1.4" fill="#535353"/>
<rect x="412.1" y="100.8" width="0.9" height="0.9" fill="#696969"/>
<rect x="487.4" y="151.3" width="0.8" height="0.9" fill="#777777"/>
<rect x="480.1" y="200.3" width="1.2" height="1.4" fill="#8d8d8d"/>
<rect x="460.0" y="190.3" width="1.2" height="1.3" fill="#636363"/>
<rect x="302.4" y="104.1" width="1.0" height="1.0" fill="#898989"/>
<rect x="324.6" y="53.9" width="1.3" height="1.4" fill="#848484"/>
<rect x="315.1" y="145.1" width="1.0" height="1.2" fill="#838383"/>
<rect x="455.4" y="103.6" width="0.8" height="0.7" fill="#8f8f8f"/>
<rect x="414.6" y="25.7" width="1.1" height="1.0" fill="#626262"/>
<rect x="391.6" y="99.1" width="1.2" height="1.2" fill="#939393"/>
<rect x="340.6" y="187.1" width="1.3" height="1.2" fill="#616161"/>
<rect x="377.6" y="115.7" width="1.2" height="1.4" fill="#707070"/>
<rect x="402.1" y="100.4" width="1.1" height="0.9" fill="#919191"/>
<rect x="293.6" y="69.7" width="1.2" height="1.1" fill="#7b7b7b"/>
<rect x="421.8" y="190.7" width="1.3" height="1.6" fill="#676767"/>
<rect x="327.5" y="9.0" width="1.3" height="1.5" fill="#797979"/>
<rect x="359.8" y="20.4" width="0.9" height="1.0" fill="#616161"/>
<rect x="363.6" y="12.5" width="0.9" height="0.8" fill="#8d8d8d"/>
<rect x="465.2" y="125.1" width="1.3" height="1.3" fill="#606060"/>
<rect x="469.8" y="203.3" width="0.9" height="1.1" fill="#585858"/>
<rect x="453.5" y="51.5" width="1.2" height="1.3" fill="#6c6c6c"/>
<rect x="406.6" y="197.4" width="1.1" height="1.0" fill="#5e5e5e"/>
<rect x="359.0" y="17.8" width="0.8" height="0.7" fill="#5c5c5c"/>
<rect x="417.4" y="30.9" width="1.1" height="0.9" fill="#909090"/>
<rect x="308.5" y="141.7" width="1.3" height="1.4" fill="#606060"/>
<rect x="413.7" y="16.3" width="0.9" height="0.9" fill="#898989"/>
<rect x="458.5" y="106.6" width="0.9" height="0.7" fill="#646464"/>
<rect x="309.8" y="84.3" width="1.3" height="1.3" fill="#7c7c7c"/>
<rect x="487.7" y="110.4" width="0.9" height="1.2" fill="#7a7a7a"/>
<rect x="366.3" y="90.8" width="1.2" height="1.4" fill="#767676"/>
<rect x="397.2" y="33.6" width="1.2" height="1.3" fill="#797979"/>
<rect x="346.0" y="54.5" width="0.9" height="0.8" fill="#757575"/>
<rect x="365.3" y="175.1" width="1.3" height="1.5" fill="#525252"/>
<rect x="382.8" y="169.3" width="1.1" height="1.4" fill="#797979"/>
<rect x="337.8" y="9.0" width="1.0" height="0.8" fill="#888888"/>
<rect x="412.5" y="106.1" width="1.2" height="1.2" fill="#626262"/>
<rect x="345.6" y="84.0" width="1.2" height="1.5" fill="#858585"/>
<rect x="429.6" y="135.5" width="1.1" height="1.2" fill="#5d5d5d"/>
<rect x="326.9" y="171.8" width="1.2" height="1.4" fill="#747474"/>
<rect x="463.7" y="25.0" width="1.3" height="1.6" fill="#8d8d8d"/>
<rect x="310.0" y="53.7" width="0.9" height="0.9" fill="#505050"/>
<rect x="332.7" y="125.1" width="1.0" height="1.2" fill="#767676"/>
<rect x="337.9" y="136.7" width="1.0" height="1.1" fill="#595959"/>
<rect x="454.6" y="49.3" width="1.0" height="1.0" fill="#717171"/>
<rect x="300.3" y="44.5" width="1.3" height="1.0" fill="#575757"/>
<rect x="439.8" y="105.8" width="1.0" height="0.9" fill="#686868"/>
<rect x="346.1" y="22.0" width="1.3" height="1.1" fill="#515151"/>
<rect x="358.7" y="201.9" width="1.3" height="1.3" fill="#6b6b6b"/>
<rect x="324.3" y="71.8" width="0.8" height="1.0" fill="#888888"/>
<rect x="370.6" y="93.7" width="0.9" height="0.9" fill="#8f8f8f"/>
<rect x="332.2" y="77.3" width="1.2" height="1.4" fill="#8f8f8f"/>
<rect x="331.1" y="172.2" width="1.3" height="1.5" fill="#707070"/>
<rect x="392.9" y="96.0" width="1.2" height="1.4" fill="#616161"/>
<rect x="356.4" y="95.6" width="1.0" height="0.8" fill="#8a8a8a"/>
<rect x="326.4" y="159.2" width="0.9" height="0.9" fill="#828282"/>
<rect x="405.9" y="53.1" width="0.8" height="1.0" fill="#949494"/>
<rect x="312.8" y="137.4" width="1.0" height="1.0" fill="#929292"/>
<rect x="432.4" y="109.3" width="0.9" height="0.9" fill="#797979"/>
<rect x="427.1" y="192.2" width="1.2" height="1.2" fill="#525252"/>
<rect x="294.9" y="156.2" width="0.8" height="0.9" fill="#828282"/>
<rect x="342.6" y="175.5" width="1.3" height="1.7" fill="#868686"/>
<rect x="436.1" y="124.4" width="1.3" height="1.2" fill="#7d7d7d"/>
<rect x="368.8" y="35.0" width="1.2" height="1.5" fill="#5d5d5d"/>
<rect x="376.7" y="138.2" width="1.2" height="1.1" fill="#888888"/>
<rect x="318.8" y="171.3" width="0.9" height="0.8" fill="#777777"/>
<rect x="337.8" y="83.7" width="1.3" height="1.3" fill="#727272"/>
<rect x="484.5" y="112.1" width="0.8" height="1.0" fill="#909090"/>
<rect x="330.2" y="185.7" width="1.2" height="1.5" fill="#777777"/>
<rect x="339.1" y="20.9" width="1.3" height="1.1" fill="#7f7f7f"/>
<rect x="400.9" y="56.6" width="1.1" height="0.9" fill="#7a7a7a"/>
<rect x="401.0" y="140.3" width="1.3" height="1.6" fill="#787878"/>
<rect x="295.6" y="41.3" width="0.9" height="1.0" fill="#666666"/>
<rect x="340.5" y="47.0" width="0.8" height="1.0" fill="#7d7d7d"/>
<rect x="316.7" y="94.9" width="1.2" height="1.2" fill="#6d6d6d"/>
<rect x="442.8" y="22.3" width="1.2" height="1.4" fill="#595959"/>
<rect x="489.0" y="111.8" width="1.2" height="1.5" fill="#838383"/>
<rect x="409.9" y="73.9" width="0.8" height="0.9" fill="#575757"/>
<rect x="476.4" y="34.9" width="1.0" height="1.2" fill="#5a5a5a"/>
<rect x="402.7" y="107.3" width="1.3" height="1.5" fill="#8d8d8d"/>
<rect x="330.8" y="207.3" width="1.0" height="0.9" fill="#6a6a6a"/>
<rect x="484.6" y="170.8" width="0.9" height="0.9" fill="#515151"/>
<rect x="400.2" y="62.3" width="1.0" height="0.9" fill="#808080"/>
<rect x="337.5" y="105.1" width="1.1" height="1.2" fill="#898989"/>
<rect x="451.2" y="129.4" width="0.9" height="0.9" fill="#7a7a7a"/>
<rect x="474.3" y="73.1" width="1.0" height="0.9" fill="#797979"/>
<rect x="380.9" y="130.5" width="1.2" height="1.4" fill="#696969"/>
<rect x="483.4" y="62.3" width="0.9" height="0.7" fill="#626262"/>
<rect x="373.6" y="142.4" width="1.0" height="1.1" fill="#949494"/>
<rect x="327.5" y="78.6" width="1.1" height="1.1" fill="#717171"/>
<rect x="309.6" y="109.4" width="0.9" height="1.0" fill="#888888"/>
<rect x="429.1" y="180.9" width="1.2" height="1.2" fill="#6f6f6f"/>
<rect x="323.1" y="79.6" width="0.9" height="0.9" fill="#797979"/>
<rect x="321.7" y="157.5" width="1.2" height="1.1" fill="#555555"/>
<rect x="389.9" y="65.1" width="1.0" height="1.0" fill="#898989"/>
<rect x="412.2" y="52.6" width="1.3" height="1.1" fill="#515151"/>
<rect x="328.5" y="162.7" width="1.2" height="1.2" fill="#828282"/>
<rect x="342.2" y="70.8" width="1.1" height="1.0" fill="#8f8f8f"/>
<rect x="466.1" y="149.1" width="0.9" height="0.8" fill="#848484"/>
<rect x="439.7" y="94.3" width="0.9" height="0.8" fill="#828282"/>
<rect x="316.1" y="191.1" width="1.2" height="1.4" fill="#828282"/>
<rect x="321.1" y="83.7" width="1.2" height="1.4" fill="#858585"/>
<rect x="452.0" y="83.6" width="1.2" height="1.5" fill="#5c5c5c"/>
<rect x="439.0" y="95.1" width="1.1" height="1.0" fill="#5a5a5a"/>
<rect x="442.0" y="39.6" width="1.1" height="0.9" fill="#787878"/>
<rect x="410.6" y="73.5" width="1.0" height="1.2" fill="#939393"/>
<rect x="323.8" y="58.4" width="1.2" height="1.0" fill="#545454"/>
<rect x="379.6" y="95.4" width="1.2" height="1.2" fill="#858585"/>
<rect x="300.1" y="26.4" width="0.8" height="0.8" fill="#525252"/>
<rect x="341.6" y="26.4" width="1.0" height="1.2" fill="#6d6d6d"/>
<rect x="439.1" y="5.9" width="0.9" height="0.9" fill="#505050"/>
<line x1="433.1" y1="9.5" x2="432.7" y2="14.0" stroke="#5d5d5d" stroke-width="1.4"/>
<line x1="414.8" y1="176.1" x2="410.7" y2="177.4" stroke="#353535" stroke-width="1.3"/>
<line x1="440.6" y1="163.9" x2="440.5" y2="168.4" stroke="#515151" stroke-width="1.4"/>
<line x1="426.9" y1="199.8" x2="429.4" y2="203.7" stroke="#5f5f5f" stroke-width="1.3"/>
<line x1="401.0" y1="123.4" x2="401.1" y2="127.6" stroke="#626262" stroke-width="1.6"/>
<line x1="487.9" y1="13.4" x2="488.1" y2="17.1" stroke="#525252" stroke-width="1.5"/>
<line x1="401.3" y1="48.3" x2="398.9" y2="49.2" stroke="#6b6b6b" stroke-width="1.4"/>
<line x1="331.0" y1="29.4" x2="333.7" y2="30.4" stroke="#3d3d3d" stroke-width="1.4"/>
<line x1="314.1" y1="116.8" x2="312.5" y2="120.7" stroke="#3e3e3e" stroke-width="1.6"/>
<line x1="329.9" y1="50.4" x2="327.1" y2="50.8" stroke="#505050" stroke-width="1.3"/>
<line x1="392.1" y1="18.3" x2="391.2" y2="20.3" stroke="#4d4d4d" stroke-width="1.2"/>
<line x1="478.3" y1="184.0" x2="475.4" y2="187.9" stroke="#424242" stroke-width="1.3"/>
<line x1="318.8" y1="102.5" x2="316.9" y2="104.1" stroke="#626262" stroke-width="1.2"/>
<line x1="368.9" y1="129.7" x2="368.5" y2="132.0" stroke="#5f5f5f" stroke-width="1.2"/>
<line x1="453.9" y1="40.2" x2="451.4" y2="42.6" stroke="#4f4f4f" stroke-width="1.5"/>
<line x1="350.8" y1="145.1" x2="350.7" y2="148.9" stroke="#323232" stroke-width="1.5"/>
<line x1="375.4" y1="106.0" x2="373.8" y2="108.1" stroke="#4a4a4a" stroke-width="1.2"/>
<line x1="399.1" y1="154.7" x2="394.7" y2="155.1" stroke="#6a6a6a" stroke-width="1.2"/>
<line x1="438.2" y1="126.9" x2="439.6" y2="130.9" stroke="#414141" stroke-width="1.2"/>
<line x1="408.5" y1="158.2" x2="407.3" y2="162.8" stroke="#474747" stroke-width="1.1"/>
<line x1="305.3" y1="28.2" x2="302.7" y2="32.4" stroke="#595959" stroke-width="1.3"/>
<line x1="364.0" y1="203.7" x2="366.9" y2="207.1" stroke="#333333" stroke-width="1.6"/>
<line x1="343.0" y1="59.2" x2="344.5" y2="60.7" stroke="#434343" stroke-width="1.6"/>
<line x1="457.6" y1="185.8" x2="460.3" y2="188.3" stroke="#434343" stroke-width="1.6"/>
<line x1="313.8" y1="150.6" x2="315.5" y2="153.7" stroke="#404040" stroke-width="1.5"/>
<line x1="395.1" y1="171.5" x2="398.1" y2="174.7" stroke="#434343" stroke-width="1.3"/>
<line x1="416.2" y1="198.8" x2="415.7" y2="203.4" stroke="#484848" stroke-width="1.5"/>
<line x1="401.6" y1="70.8" x2="399.8" y2="72.4" stroke="#6b6b6b" stroke-width="1.5"/>
<line x1="297.9" y1="160.8" x2="297.3" y2="163.2" stroke="#6d6d6d" stroke-width="1.4"/>
<line x1="337.6" y1="150.3" x2="340.7" y2="152.3" stroke="#5d5d5d" stroke-width="1.1"/>
<line x1="436.4" y1="55.2" x2="436.1" y2="58.0" stroke="#4b4b4b" stroke-width="1.4"/>
<line x1="372.9" y1="7.4" x2="371.2" y2="8.7" stroke="#636363" stroke-width="1.5"/>
<line x1="478.7" y1="59.0" x2="480.4" y2="60.4" stroke="#404040" stroke-width="1.5"/>
<line x1="422.5" y1="104.4" x2="424.6" y2="105.8" stroke="#404040" stroke-width="1.4"/>
<line x1="487.3" y1="207.6" x2="490.9" y2="209.5" stroke="#575757" stroke-width="1.5"/>
<line x1="300.2" y1="134.5" x2="304.9" y2="134.9" stroke="#5b5b5b" stroke-width="1.2"/>
<line x1="351.7" y1="123.6" x2="349.0" y2="123.8" stroke="#4f4f4f" stroke-width="1.1"/>
<line x1="463.8" y1="163.2" x2="468.4" y2="164.2" stroke="#454545" stroke-width="1.2"/>
<line x1="319.3" y1="35.2" x2="320.9" y2="38.2" stroke="#484848" stroke-width="1.3"/>
<line x1="469.0" y1="132.5" x2="468.1" y2="135.2" stroke="#656565" stroke-width="1.1"/>
<line x1="457.7" y1="5.8" x2="458.8" y2="7.6" stroke="#383838" stroke-width="1.1"/>
<line x1="482.4" y1="152.6" x2="484.1" y2="153.8" stroke="#494949" stroke-width="1.2"/>
<line x1="459.7" y1="117.7" x2="456.8" y2="118.0" stroke="#393939" stroke-width="1.4"/>
<line x1="321.8" y1="94.2" x2="319.9" y2="96.0" stroke="#444444" stroke-width="1.3"/>
<line x1="326.1" y1="137.3" x2="329.7" y2="140.0" stroke="#656565" stroke-width="1.5"/>
<line x1="441.4" y1="153.0" x2="440.7" y2="157.4" stroke="#686868" stroke-width="1.4"/>
<line x1="482.7" y1="17.5" x2="481.4" y2="20.6" stroke="#505050" stroke-width="1.2"/>
<line x1="416.6" y1="8.8" x2="414.0" y2="9.6" stroke="#434343" stroke-width="1.4"/>
<line x1="373.5" y1="21.9" x2="375.1" y2="23.7" stroke="#383838" stroke-width="1.5"/>
<line x1="309.2" y1="70.2" x2="311.0" y2="71.8" stroke="#424242" stroke-width="1.5"/>
<line x1="339.6" y1="76.0" x2="337.2" y2="76.8" stroke="#404040" stroke-width="1.3"/>
<line x1="451.7" y1="39.1" x2="447.9" y2="41.9" stroke="#3e3e3e" stroke-width="1.2"/>
<line x1="468.8" y1="140.8" x2="466.3" y2="141.3" stroke="#464646" stroke-width="1.3"/>
<line x1="303.7" y1="62.0" x2="302.8" y2="63.9" stroke="#5b5b5b" stroke-width="1.2"/>
<line x1="420.1" y1="81.7" x2="416.6" y2="84.5" stroke="#393939" stroke-width="1.2"/>
<line x1="395.5" y1="74.4" x2="393.5" y2="77.3" stroke="#6e6e6e" stroke-width="1.4"/>
<line x1="415.4" y1="67.2" x2="416.3" y2="69.9" stroke="#6d6d6d" stroke-width="1.4"/>
<line x1="295.3" y1="99.3" x2="292.6" y2="100.0" stroke="#444444" stroke-width="1.1"/>
<line x1="395.5" y1="193.3" x2="394.2" y2="195.2" stroke="#3e3e3e" stroke-width="1.1"/>
<line x1="354.8" y1="114.5" x2="358.7" y2="116.0" stroke="#6c6c6c" stroke-width="1.2"/>
<line x1="386.8" y1="192.0" x2="389.0" y2="192.5" stroke="#575757" stroke-width="1.6"/>
<line x1="353.5" y1="47.0" x2="354.1" y2="51.9" stroke="#646464" stroke-width="1.1"/>
<line x1="328.2" y1="165.0" x2="328.9" y2="168.7" stroke="#555555" stroke-width="1.5"/>
<line x1="389.7" y1="68.2" x2="392.9" y2="68.8" stroke="#5f5f5f" stroke-width="1.6"/>
<line x1="427.1" y1="130.5" x2="423.0" y2="131.1" stroke="#555555" stroke-width="1.4"/>
<line x1="379.5" y1="50.4" x2="378.8" y2="54.0" stroke="#373737" stroke-width="1.3"/>
<line x1="323.6" y1="85.2" x2="321.6" y2="85.2" stroke="#636363" stroke-width="1.3"/>
<line x1="307.4" y1="28.9" x2="309.0" y2="33.5" stroke="#404040" stroke-width="1.6"/>
<line x1="427.3" y1="200.1" x2="427.6" y2="203.8" stroke="#414141" stroke-width="1.2"/>
<line x1="488.8" y1="171.2" x2="491.8" y2="174.9" stroke="#4e4e4e" stroke-width="1.4"/>
<line x1="296.1" y1="190.4" x2="293.5" y2="192.6" stroke="#646464" stroke-width="1.5"/>
<line x1="420.9" y1="100.2" x2="417.9" y2="100.9" stroke="#363636" stroke-width="1.5"/>
<line x1="296.8" y1="158.9" x2="294.7" y2="159.6" stroke="#535353" stroke-width="1.6"/>
<line x1="476.6" y1="15.9" x2="478.0" y2="18.1" stroke="#444444" stroke-width="1.1"/>
<line x1="401.3" y1="47.6" x2="399.0" y2="47.9" stroke="#4f4f4f" stroke-width="1.2"/>
<line x1="373.0" y1="5.4" x2="375.5" y2="5.5" stroke="#696969" stroke-width="1.1"/>
<line x1="465.0" y1="205.9" x2="460.9" y2="206.7" stroke="#575757" stroke-width="1.6"/>
<line x1="489.1" y1="196.6" x2="489.7" y2="199.8" stroke="#555555" stroke-width="1.2"/>
<line x1="334.9" y1="46.6" x2="331.4" y2="50.0" stroke="#404040" stroke-width="1.2"/>
<line x1="346.3" y1="74.7" x2="349.5" y2="77.4" stroke="#666666" stroke-width="1.3"/>
<line x1="338.1" y1="98.2" x2="340.4" y2="98.6" stroke="#6b6b6b" stroke-width="1.2"/>
<line x1="340.9" y1="171.3" x2="343.7" y2="175.0" stroke="#383838" stroke-width="1.2"/>
<line x1="389.2" y1="49.4" x2="385.5" y2="51.5" stroke="#3c3c3c" stroke-width="1.4"/>
<line x1="444.8" y1="161.4" x2="440.7" y2="162.7" stroke="#696969" stroke-width="1.5"/>
<line x1="450.0" y1="6.5" x2="453.2" y2="9.4" stroke="#3d3d3d" stroke-width="1.5"/>
<line x1="469.2" y1="78.8" x2="471.3" y2="83.3" stroke="#515151" stroke-width="1.5"/>
<line x1="387.6" y1="45.0" x2="387.3" y2="47.5" stroke="#5f5f5f" stroke-width="1.1"/>
<line x1="469.9" y1="56.4" x2="473.2" y2="57.6" stroke="#6b6b6b" stroke-width="1.2"/>
<line x1="401.5" y1="207.8" x2="397.8" y2="210.0" stroke="#565656" stroke-width="1.3"/>
<line x1="349.8" y1="148.7" x2="350.2" y2="152.2" stroke="#565656" stroke-width="1.1"/>
<line x1="395.5" y1="173.5" x2="394.5" y2="176.5" stroke="#5a5a5a" stroke-width="1.2"/>
<line x1="357.7" y1="63.1" x2="357.1" y2="66.5" stroke="#696969" stroke-width="1.4"/>
<line x1="321.9" y1="159.4" x2="324.7" y2="163.0" stroke="#666666" stroke-width="1.2"/>
<line x1="455.7" y1="193.7" x2="454.3" y2="195.4" stroke="#6d6d6d" stroke-width="1.4"/>
<line x1="317.1" y1="134.0" x2="318.9" y2="135.8" stroke="#484848" stroke-width="1.4"/>
<line x1="429.7" y1="100.1" x2="434.3" y2="101.7" stroke="#494949" stroke-width="1.5"/>
<line x1="303.5" y1="72.9" x2="301.6" y2="75.3" stroke="#575757" stroke-width="1.1"/>
<line x1="356.1" y1="30.3" x2="360.1" y2="32.1" stroke="#4a4a4a" stroke-width="1.3"/>
<line x1="447.7" y1="121.6" x2="445.5" y2="122.9" stroke="#383838" stroke-width="1.2"/>
<line x1="293.1" y1="109.3" x2="297.1" y2="109.8" stroke="#636363" stroke-width="1.6"/>
<line x1="440.1" y1="104.2" x2="441.9" y2="105.8" stroke="#6d6d6d" stroke-width="1.2"/>
<line x1="355.6" y1="8.0" x2="356.8" y2="11.7" stroke="#5f5f5f" stroke-width="1.3"/>
<line x1="329.4" y1="12.4" x2="325.9" y2="13.9" stroke="#3f3f3f" stroke-width="1.3"/>
<line x1="347.5" y1="162.2" x2="344.2" y2="162.8" stroke="#686868" stroke-width="1.4"/>
<line x1="390.1" y1="181.1" x2="392.2" y2="182.5" stroke="#3b3b3b" stroke-width="1.5"/>
<line x1="309.1" y1="189.1" x2="308.7" y2="191.3" stroke="#3a3a3a" stroke-width="1.3"/>
<line x1="297.8" y1="195.1" x2="296.2" y2="197.1" stroke="#383838" stroke-width="1.2"/>
<line x1="423.4" y1="208.9" x2="425.1" y2="213.0" stroke="#5b5b5b" stroke-width="1.6"/>
<line x1="384.0" y1="28.7" x2="388.1" y2="31.5" stroke="#5f5f5f" stroke-width="1.5"/>
<line x1="471.0" y1="204.4" x2="469.0" y2="208.2" stroke="#3a3a3a" stroke-width="1.4"/>
</g>
<line x1="345" y1="67.4" x2="362.2" y2="83" stroke="#303030" stroke-width="1.3"/>
<line x1="362" y1="100" x2="392" y2="124.5" stroke="#303030" stroke-width="1.3"/>
<line x1="340.5" y1="84.3" x2="347.7" y2="85.8" stroke="#303030" stroke-width="1.3"/>
<line x1="375" y1="95.8" x2="383.5" y2="91.5" stroke="#303030" stroke-width="1.3"/>
<line x1="339" y1="97" x2="340.5" y2="106" stroke="#303030" stroke-width="1.3"/>
<line x1="423.7" y1="91.5" x2="428" y2="95.8" stroke="#303030" stroke-width="1.3"/>
</g>
<rect x="292.0" y="24.2" width="1.2" height="1.2" fill="#3e3e3e"/>
<rect x="290.7" y="19.6" width="0.8" height="1.0" fill="#363636"/>
<rect x="290.7" y="117.6" width="1.0" height="1.2" fill="#555555"/>
<rect x="290.3" y="39.3" width="0.8" height="1.0" fill="#767676"/>
<rect x="289.0" y="81.8" width="0.7" height="0.6" fill="#757575"/>
<rect x="292.4" y="115.9" width="1.2" height="1.5" fill="#353535"/>
<rect x="287.8" y="82.2" width="1.0" height="1.2" fill="#373737"/>
<rect x="290.0" y="50.6" width="0.8" height="1.0" fill="#2a2a2a"/>
<rect x="289.8" y="69.4" width="1.0" height="1.1" fill="#4e4e4e"/>
<rect x="292.0" y="110.0" width="0.8" height="0.7" fill="#444444"/>
<rect x="292.2" y="17.0" width="1.4" height="1.2" fill="#434343"/>
<rect x="291.9" y="189.0" width="1.2" height="1.4" fill="#717171"/>
<rect x="291.9" y="87.4" width="1.2" height="1.5" fill="#515151"/>
<rect x="287.8" y="30.7" width="1.2" height="1.3" fill="#585858"/>
<rect x="290.9" y="153.6" width="1.2" height="1.2" fill="#4b4b4b"/>
<rect x="291.6" y="179.6" width="1.2" height="1.5" fill="#2c2c2c"/>
<rect x="291.0" y="168.3" width="0.9" height="0.7" fill="#6e6e6e"/>
<rect x="292.1" y="5.6" width="1.1" height="1.1" fill="#4e4e4e"/>
<rect x="291.8" y="57.4" width="0.8" height="1.0" fill="#303030"/>
<rect x="287.9" y="193.5" width="1.4" height="1.6" fill="#434343"/>
<rect x="290.4" y="35.8" width="0.8" height="0.8" fill="#6c6c6c"/>
<rect x="289.1" y="49.7" width="1.3" height="1.5" fill="#2b2b2b"/>
<rect x="290.9" y="29.7" width="1.1" height="1.3" fill="#363636"/>
<rect x="288.6" y="154.5" width="0.8" height="0.7" fill="#4b4b4b"/>
<rect x="291.6" y="47.9" width="1.1" height="0.9" fill="#3a3a3a"/>
<clipPath id="c2"><rect x="522.0" y="2.3" width="198.5" height="207.29999999999998"/></clipPath>
<g clip-path="url(#c2)" filter="url(#bl)">
<path d="M522.0,-11.10Q621.2,3.64 720.5,-11.18" stroke="#f5f5f5" stroke-width="13.10" fill="none"/>
<path d="M522.0,-4.60Q621.2,10.14 720.5,-4.68" stroke="#e9e9e9" stroke-width="1.10" fill="none"/>
<path d="M522.0,87.65Q621.2,102.39 720.5,87.57" stroke="#e7e7e7" stroke-width="184.60" fill="none"/>
<path d="M522.0,179.90Q621.2,194.64 720.5,179.82" stroke="#e9e9e9" stroke-width="1.10" fill="none"/>
<path d="M522.0,180.65Q621.2,195.39 720.5,180.57" stroke="#eeeeee" stroke-width="1.60" fill="none"/>
<path d="M522.0,181.65Q621.2,196.39 720.5,181.57" stroke="#efefef" stroke-width="1.60" fill="none"/>
<path d="M522.0,182.90Q621.2,197.64 720.5,182.82" stroke="#f0f0f0" stroke-width="2.10" fill="none"/>
<path d="M522.0,184.15Q621.2,198.89 720.5,184.07" stroke="#f1f1f1" stroke-width="1.60" fill="none"/>
<path d="M522.0,185.40Q621.2,200.14 720.5,185.32" stroke="#f2f2f2" stroke-width="2.10" fill="none"/>
<path d="M522.0,186.65Q621.2,201.39 720.5,186.57" stroke="#f3f3f3" stroke-width="1.60" fill="none"/>
<path d="M522.0,187.90Q621.2,202.64 720.5,187.82" stroke="#f4f4f4" stroke-width="2.10" fill="none"/>
<path d="M522.0,189.40Q621.2,204.14 720.5,189.32" stroke="#f5f5f5" stroke-width="2.10" fill="none"/>
<path d="M522.0,191.15Q621.2,205.89 720.5,191.07" stroke="#f6f6f6" stroke-width="2.60" fill="none"/>
<path d="M522.0,192.90Q621.2,207.64 720.5,192.82" stroke="#f7f7f7" stroke-width="2.10" fill="none"/>
<path d="M522.0,194.65Q621.2,209.39 720.5,194.57" stroke="#f8f8f8" stroke-width="2.60" fill="none"/>
<path d="M522.0,196.40Q621.2,211.14 720.5,196.32" stroke="#f9f9f9" stroke-width="2.10" fill="none"/>
<path d="M522.0,199.40Q621.2,214.14 720.5,199.32" stroke="#fafafa" stroke-width="5.10" fill="none"/>
<path d="M522.0,205.40Q621.2,220.14 720.5,205.32" stroke="#fbfbfb" stroke-width="8.10" fill="none"/>
<path d="M522.0,211.15Q621.2,225.89 720.5,211.07" stroke="#fcfcfc" stroke-width="4.60" fill="none"/>
<path d="M522.0,-4.25Q621.2,10.49 720.5,-4.33" stroke="#dfdfdf" stroke-width="1.00" fill="none"/>
<path d="M522.0,-2.85Q621.2,11.89 720.5,-2.93" stroke="#999999" stroke-width="0.80" fill="none"/>
<path d="M522.0,-1.40Q621.2,13.34 720.5,-1.48" stroke="#787878" stroke-width="1.30" fill="none"/>
<path d="M522.0,1.25Q621.2,15.99 720.5,1.17" stroke="#aeaeae" stroke-width="1.60" fill="none"/>
<path d="M522.0,3.70Q621.2,18.44 720.5,3.62" stroke="#d1d1d1" stroke-width="2.50" fill="none"/>
<path d="M522.0,5.75Q621.2,20.49 720.5,5.67" stroke="#4b4b4b" stroke-width="1.20" fill="none"/>
<path d="M522.0,7.20Q621.2,21.94 720.5,7.12" stroke="#b5b5b5" stroke-width="1.30" fill="none"/>
<path d="M522.0,10.55Q621.2,25.29 720.5,10.47" stroke="#c7c7c7" stroke-width="2.80" fill="none"/>
<path d="M522.0,16.25Q621.2,30.99 720.5,16.17" stroke="#bcbcbc" stroke-width="1.20" fill="none"/>
<path d="M522.0,21.00Q621.2,35.74 720.5,20.92" stroke="#cacaca" stroke-width="1.70" fill="none"/>
<path d="M522.0,23.85Q621.2,38.59 720.5,23.77" stroke="#bcbcbc" stroke-width="0.80" fill="none"/>
<path d="M522.0,26.20Q621.2,40.94 720.5,26.12" stroke="#878787" stroke-width="2.10" fill="none"/>
<path d="M522.0,30.65Q621.2,45.39 720.5,30.57" stroke="#787878" stroke-width="2.00" fill="none"/>
<path d="M522.0,34.40Q621.2,49.14 720.5,34.32" stroke="#696969" stroke-width="2.10" fill="none"/>
<path d="M522.0,36.45Q621.2,51.19 720.5,36.37" stroke="#bcbcbc" stroke-width="1.20" fill="none"/>
<path d="M522.0,39.70Q621.2,54.44 720.5,39.62" stroke="#999999" stroke-width="2.90" fill="none"/>
<path d="M522.0,42.55Q621.2,57.29 720.5,42.47" stroke="#373737" stroke-width="2.00" fill="none"/>
<path d="M522.0,44.15Q621.2,58.89 720.5,44.07" stroke="#c7c7c7" stroke-width="1.20" fill="none"/>
<path d="M522.0,45.60Q621.2,60.34 720.5,45.52" stroke="#bcbcbc" stroke-width="1.70" fill="none"/>
<path d="M522.0,48.10Q621.2,62.84 720.5,48.02" stroke="#050505" stroke-width="2.50" fill="none"/>
<path d="M522.0,49.75Q621.2,64.49 720.5,49.67" stroke="#7d7d7d" stroke-width="0.80" fill="none"/>
<path d="M522.0,59.95Q621.2,74.69 720.5,59.87" stroke="#d1d1d1" stroke-width="0.60" fill="none"/>
<path d="M522.0,63.25Q621.2,77.99 720.5,63.17" stroke="#d1d1d1" stroke-width="0.60" fill="none"/>
<path d="M522.0,66.90Q621.2,81.64 720.5,66.82" stroke="#d5d5d5" stroke-width="0.50" fill="none"/>
<path d="M522.0,71.00Q621.2,85.74 720.5,70.92" stroke="#bcbcbc" stroke-width="1.70" fill="none"/>
<path d="M522.0,74.70Q621.2,89.44 720.5,74.62" stroke="#a0a0a0" stroke-width="1.70" fill="none"/>
<path d="M522.0,78.75Q621.2,93.49 720.5,78.67" stroke="#929292" stroke-width="1.60" fill="none"/>
<path d="M522.0,80.15Q621.2,94.89 720.5,80.07" stroke="#cacaca" stroke-width="1.20" fill="none"/>
<path d="M522.0,82.05Q621.2,96.79 720.5,81.97" stroke="#787878" stroke-width="1.60" fill="none"/>
<path d="M522.0,83.45Q621.2,98.19 720.5,83.37" stroke="#bcbcbc" stroke-width="1.20" fill="none"/>
<path d="M522.0,85.10Q621.2,99.84 720.5,85.02" stroke="#999999" stroke-width="1.30" fill="none"/>
<path d="M522.0,89.60Q621.2,104.34 720.5,89.52" stroke="#373737" stroke-width="2.10" fill="none"/>
<path d="M522.0,93.70Q621.2,108.44 720.5,93.62" stroke="#464646" stroke-width="2.90" fill="none"/>
<path d="M522.0,99.20Q621.2,113.94 720.5,99.12" stroke="#d8d8d8" stroke-width="0.50" fill="none"/>
<path d="M522.0,102.45Q621.2,117.19 720.5,102.37" stroke="#c7c7c7" stroke-width="0.80" fill="none"/>
<path d="M522.0,103.75Q621.2,118.49 720.5,103.67" stroke="#b0b0b0" stroke-width="0.80" fill="none"/>
<path d="M522.0,107.25Q621.2,121.99 720.5,107.17" stroke="#b0b0b0" stroke-width="1.20" fill="none"/>
<path d="M522.0,109.25Q621.2,123.99 720.5,109.17" stroke="#d8d8d8" stroke-width="2.80" fill="none"/>
<path d="M522.0,111.45Q621.2,126.19 720.5,111.37" stroke="#d2d2d2" stroke-width="1.60" fill="none"/>
<path d="M522.0,113.30Q621.2,128.04 720.5,113.22" stroke="#bcbcbc" stroke-width="1.30" fill="none"/>
<path d="M522.0,117.40Q621.2,132.14 720.5,117.32" stroke="#a7a7a7" stroke-width="1.30" fill="none"/>
<path d="M522.0,119.05Q621.2,133.79 720.5,118.97" stroke="#929292" stroke-width="1.20" fill="none"/>
<path d="M522.0,120.70Q621.2,135.44 720.5,120.62" stroke="#c7c7c7" stroke-width="1.30" fill="none"/>
<path d="M522.0,122.30Q621.2,137.04 720.5,122.22" stroke="#878787" stroke-width="1.30" fill="none"/>
<path d="M522.0,124.15Q621.2,138.89 720.5,124.07" stroke="#b0b0b0" stroke-width="1.60" fill="none"/>
<path d="M522.0,126.25Q621.2,140.99 720.5,126.17" stroke="#787878" stroke-width="1.60" fill="none"/>
<path d="M522.0,129.10Q621.2,143.84 720.5,129.02" stroke="#464646" stroke-width="1.70" fill="none"/>
<path d="M522.0,133.35Q621.2,148.09 720.5,133.27" stroke="#929292" stroke-width="2.00" fill="none"/>
<path d="M522.0,137.15Q621.2,151.89 720.5,137.07" stroke="#c7c7c7" stroke-width="1.00" fill="none"/>
<path d="M522.0,140.15Q621.2,154.89 720.5,140.07" stroke="#c3c3c3" stroke-width="1.00" fill="none"/>
<path d="M522.0,143.65Q621.2,158.39 720.5,143.57" stroke="#c7c7c7" stroke-width="1.00" fill="none"/>
<path d="M522.0,146.65Q621.2,161.39 720.5,146.57" stroke="#c3c3c3" stroke-width="1.00" fill="none"/>
<path d="M522.0,149.65Q621.2,164.39 720.5,149.57" stroke="#bcbcbc" stroke-width="1.00" fill="none"/>
<path d="M522.0,152.35Q621.2,167.09 720.5,152.27" stroke="#c3c3c3" stroke-width="0.80" fill="none"/>
<path d="M522.0,154.25Q621.2,168.99 720.5,154.17" stroke="#a7a7a7" stroke-width="1.20" fill="none"/>
<path d="M522.0,157.30Q621.2,172.04 720.5,157.22" stroke="#929292" stroke-width="1.70" fill="none"/>
<path d="M522.0,160.35Q621.2,175.09 720.5,160.27" stroke="#a0a0a0" stroke-width="1.20" fill="none"/>
<path d="M522.0,162.45Q621.2,177.19 720.5,162.37" stroke="#a0a0a0" stroke-width="1.20" fill="none"/>
<path d="M522.0,164.65Q621.2,179.39 720.5,164.57" stroke="#bcbcbc" stroke-width="2.40" fill="none"/>
<path d="M522.0,167.10Q621.2,181.84 720.5,167.02" stroke="#878787" stroke-width="1.70" fill="none"/>
<path d="M522.0,170.15Q621.2,184.89 720.5,170.07" stroke="#a0a0a0" stroke-width="1.20" fill="none"/>
<path d="M522.0,173.45Q621.2,188.19 720.5,173.37" stroke="#929292" stroke-width="1.20" fill="none"/>
<path d="M522.0,176.30Q621.2,191.04 720.5,176.22" stroke="#878787" stroke-width="1.30" fill="none"/>
<path d="M522.0,178.35Q621.2,193.09 720.5,178.27" stroke="#a0a0a0" stroke-width="1.20" fill="none"/>
<rect x="524.0" y="0" width="1.7" height="210" fill="#fff" opacity="0.42"/>
<rect x="532.4" y="0" width="1.5" height="210" fill="#fff" opacity="0.29"/>
<rect x="541.2" y="0" width="1.0" height="210" fill="#fff" opacity="0.54"/>
<rect x="551.1" y="0" width="1.2" height="210" fill="#fff" opacity="0.31"/>
<rect x="557.8" y="0" width="1.7" height="210" fill="#fff" opacity="0.47"/>
<rect x="566.7" y="0" width="1.0" height="210" fill="#fff" opacity="0.35"/>
<rect x="577.0" y="0" width="1.1" height="210" fill="#fff" opacity="0.33"/>
<rect x="587.5" y="0" width="0.9" height="210" fill="#fff" opacity="0.41"/>
<rect x="593.6" y="0" width="1.2" height="210" fill="#fff" opacity="0.37"/>
<rect x="602.5" y="0" width="1.1" height="210" fill="#fff" opacity="0.28"/>
<rect x="611.2" y="0" width="0.9" height="210" fill="#fff" opacity="0.51"/>
<rect x="619.2" y="0" width="1.6" height="210" fill="#fff" opacity="0.42"/>
<rect x="630.0" y="0" width="1.0" height="210" fill="#fff" opacity="0.29"/>
<rect x="638.2" y="0" width="1.0" height="210" fill="#fff" opacity="0.34"/>
<rect x="645.9" y="0" width="1.0" height="210" fill="#fff" opacity="0.33"/>
<rect x="656.5" y="0" width="1.1" height="210" fill="#fff" opacity="0.31"/>
<rect x="665.4" y="0" width="1.5" height="210" fill="#fff" opacity="0.39"/>
<rect x="672.2" y="0" width="1.3" height="210" fill="#fff" opacity="0.36"/>
<rect x="679.0" y="0" width="1.4" height="210" fill="#fff" opacity="0.49"/>
<rect x="687.0" y="0" width="1.2" height="210" fill="#fff" opacity="0.27"/>
<rect x="692.3" y="0" width="1.3" height="210" fill="#fff" opacity="0.36"/>
<rect x="701.0" y="0" width="1.6" height="210" fill="#fff" opacity="0.28"/>
<rect x="710.4" y="0" width="1.7" height="210" fill="#fff" opacity="0.25"/>
<rect x="717.9" y="0" width="1.4" height="210" fill="#fff" opacity="0.38"/>
<rect x="656.2" y="128" width="1.1" height="85" fill="#000" opacity="0.3"/>
<rect x="584.6" y="0" width="1.2" height="210" fill="#000" opacity="0.10"/>
<rect x="554.4" y="0" width="1.0" height="210" fill="#000" opacity="0.09"/>
<rect x="528.7" y="0" width="0.8" height="210" fill="#000" opacity="0.09"/>
<rect x="666.8" y="0" width="1.0" height="210" fill="#000" opacity="0.08"/>
<rect x="622.6" y="0" width="0.9" height="210" fill="#000" opacity="0.11"/>
<rect x="712.9" y="0" width="1.0" height="210" fill="#000" opacity="0.05"/>
<rect x="600.8" y="0" width="1.2" height="210" fill="#000" opacity="0.07"/>
<rect x="543.0" y="0" width="0.9" height="210" fill="#000" opacity="0.10"/>
<rect x="645.5" y="0" width="0.9" height="210" fill="#000" opacity="0.09"/>
<rect x="673.0" y="0" width="1.3" height="210" fill="#000" opacity="0.11"/>
<rect x="608.1" y="0" width="1.2" height="210" fill="#000" opacity="0.11"/>
<rect x="694.5" y="0" width="1.2" height="210" fill="#000" opacity="0.09"/>
<rect x="623.5" y="0" width="1.2" height="210" fill="#000" opacity="0.09"/>
<rect x="665.2" y="0" width="0.9" height="210" fill="#000" opacity="0.06"/>
<g filter="url(#bd)">
<rect x="575.7" y="123.9" width="1.3" height="1.2" fill="#404040"/>
<rect x="710.6" y="18.7" width="1.5" height="1.7" fill="#686868"/>
<rect x="719.6" y="143.8" width="0.9" height="0.9" fill="#747474"/>
<rect x="703.9" y="171.3" width="1.0" height="0.8" fill="#353535"/>
<rect x="677.0" y="166.7" width="1.1" height="1.0" fill="#3a3a3a"/>
<rect x="680.7" y="156.3" width="1.5" height="1.8" fill="#767676"/>
<rect x="687.9" y="7.4" width="0.9" height="1.0" fill="#6e6e6e"/>
<rect x="586.9" y="30.4" width="1.1" height="1.2" fill="#4a4a4a"/>
<rect x="611.3" y="45.6" width="1.0" height="0.8" fill="#404040"/>
<rect x="541.9" y="89.2" width="1.0" height="1.1" fill="#6a6a6a"/>
<rect x="613.3" y="135.4" width="1.1" height="0.9" fill="#343434"/>
<rect x="588.9" y="78.3" width="1.1" height="1.3" fill="#474747"/>
<rect x="523.7" y="96.3" width="1.2" height="1.4" fill="#464646"/>
<rect x="566.6" y="12.7" width="1.0" height="1.0" fill="#767676"/>
<rect x="545.2" y="203.6" width="1.4" height="1.3" fill="#757575"/>
<rect x="682.8" y="12.5" width="1.1" height="1.1" fill="#6a6a6a"/>
<rect x="678.7" y="83.3" width="1.5" height="1.7" fill="#373737"/>
<rect x="559.4" y="45.0" width="1.5" height="1.8" fill="#505050"/>
<rect x="578.4" y="154.1" width="1.5" height="1.4" fill="#5e5e5e"/>
<rect x="654.6" y="199.5" width="1.5" height="1.5" fill="#515151"/>
<rect x="541.6" y="162.0" width="1.0" height="0.8" fill="#414141"/>
<rect x="554.5" y="82.9" width="1.2" height="1.2" fill="#3e3e3e"/>
<rect x="672.5" y="23.9" width="1.0" height="1.2" fill="#575757"/>
<rect x="704.2" y="121.0" width="1.0" height="1.2" fill="#6f6f6f"/>
<rect x="700.5" y="113.2" width="1.2" height="1.4" fill="#5b5b5b"/>
<rect x="719.4" y="105.5" width="1.3" height="1.3" fill="#484848"/>
<rect x="629.9" y="62.2" width="1.2" height="1.1" fill="#727272"/>
<rect x="572.4" y="66.6" width="1.5" height="1.8" fill="#474747"/>
<rect x="706.4" y="184.0" width="1.5" height="1.5" fill="#404040"/>
<rect x="685.4" y="54.5" width="1.3" height="1.7" fill="#6f6f6f"/>
<rect x="591.6" y="28.5" width="0.9" height="1.0" fill="#484848"/>
<rect x="577.7" y="173.4" width="1.4" height="1.6" fill="#5d5d5d"/>
<rect x="587.2" y="137.6" width="1.1" height="1.0" fill="#464646"/>
<rect x="678.5" y="189.1" width="0.9" height="0.8" fill="#646464"/>
<rect x="604.9" y="69.1" width="1.5" height="1.6" fill="#505050"/>
<rect x="592.7" y="56.4" width="1.1" height="0.9" fill="#363636"/>
<rect x="631.2" y="155.8" width="1.4" height="1.8" fill="#444444"/>
<rect x="537.6" y="92.7" width="1.1" height="1.5" fill="#3f3f3f"/>
<rect x="664.0" y="31.0" width="1.0" height="1.0" fill="#6b6b6b"/>
<rect x="581.8" y="65.0" width="1.1" height="1.1" fill="#5b5b5b"/>
<rect x="639.5" y="17.0" width="1.3" height="1.2" fill="#5b5b5b"/>
<rect x="694.2" y="194.8" width="1.4" height="1.2" fill="#4f4f4f"/>
<rect x="646.2" y="63.4" width="1.0" height="0.9" fill="#575757"/>
<rect x="648.9" y="160.2" width="0.9" height="0.8" fill="#5e5e5e"/>
<rect x="588.9" y="152.7" width="1.6" height="1.9" fill="#484848"/>
<rect x="590.8" y="197.4" width="1.0" height="0.9" fill="#616161"/>
<rect x="633.1" y="156.8" width="1.5" height="1.7" fill="#686868"/>
<rect x="601.4" y="133.5" width="1.4" height="1.6" fill="#5d5d5d"/>
<rect x="669.9" y="196.7" width="1.3" height="1.6" fill="#6f6f6f"/>
<rect x="597.5" y="169.0" width="1.2" height="1.4" fill="#6c6c6c"/>
<rect x="700.0" y="191.1" width="1.4" height="1.3" fill="#555555"/>
<rect x="648.9" y="187.5" width="1.2" height="1.4" fill="#414141"/>
<rect x="702.5" y="46.4" width="1.0" height="1.1" fill="#3a3a3a"/>
<rect x="687.2" y="54.9" width="1.5" height="1.3" fill="#353535"/>
<rect x="630.5" y="159.9" width="1.2" height="1.2" fill="#626262"/>
<rect x="596.9" y="111.1" width="0.9" height="0.9" fill="#404040"/>
<rect x="652.3" y="44.4" width="1.1" height="1.2" fill="#777777"/>
<rect x="603.6" y="165.0" width="1.4" height="1.5" fill="#6b6b6b"/>
<rect x="644.0" y="23.9" width="1.2" height="1.1" fill="#4d4d4d"/>
<rect x="594.4" y="186.2" width="1.1" height="1.0" fill="#3a3a3a"/>
<rect x="555.6" y="8.8" width="1.5" height="1.3" fill="#585858"/>
<rect x="627.5" y="39.8" width="1.2" height="1.6" fill="#747474"/>
<rect x="600.9" y="164.9" width="1.2" height="1.2" fill="#383838"/>
<rect x="682.8" y="163.9" width="1.4" height="1.4" fill="#777777"/>
<rect x="661.5" y="172.2" width="1.5" height="1.9" fill="#6f6f6f"/>
<rect x="589.5" y="81.7" width="1.3" height="1.3" fill="#3a3a3a"/>
<rect x="595.6" y="46.3" width="1.0" height="1.0" fill="#606060"/>
<rect x="533.4" y="168.1" width="1.6" height="1.8" fill="#424242"/>
<rect x="538.5" y="49.4" width="1.0" height="1.1" fill="#5f5f5f"/>
<rect x="685.1" y="139.6" width="1.4" height="1.6" fill="#6f6f6f"/>
<rect x="566.7" y="37.4" width="1.5" height="1.7" fill="#6b6b6b"/>
<rect x="711.0" y="170.3" width="1.2" height="1.2" fill="#3f3f3f"/>
<rect x="704.1" y="186.8" width="0.9" height="0.9" fill="#333333"/>
<rect x="702.6" y="184.7" width="1.5" height="1.3" fill="#373737"/>
<rect x="675.6" y="94.6" width="1.1" height="0.9" fill="#757575"/>
<rect x="618.6" y="185.4" width="1.4" height="1.3" fill="#707070"/>
<rect x="633.3" y="205.2" width="1.0" height="1.3" fill="#505050"/>
<rect x="553.9" y="163.1" width="1.4" height="1.8" fill="#444444"/>
<rect x="677.0" y="31.1" width="1.6" height="1.7" fill="#707070"/>
<rect x="527.8" y="165.3" width="1.3" height="1.1" fill="#666666"/>
<rect x="617.2" y="170.1" width="1.4" height="1.4" fill="#3e3e3e"/>
<rect x="612.2" y="98.4" width="1.6" height="1.3" fill="#737373"/>
<rect x="644.7" y="32.3" width="1.5" height="1.9" fill="#575757"/>
<rect x="702.4" y="196.1" width="1.0" height="1.2" fill="#363636"/>
<rect x="614.4" y="163.8" width="1.2" height="1.4" fill="#4f4f4f"/>
<rect x="595.1" y="106.0" width="1.2" height="1.0" fill="#616161"/>
<rect x="613.8" y="123.3" width="1.4" height="1.4" fill="#717171"/>
<rect x="712.9" y="148.5" width="1.2" height="1.1" fill="#595959"/>
<rect x="651.6" y="9.1" width="1.5" height="1.2" fill="#4b4b4b"/>
<rect x="539.1" y="73.7" width="1.1" height="1.1" fill="#6d6d6d"/>
<rect x="703.9" y="61.2" width="1.1" height="1.4" fill="#757575"/>
<rect x="707.9" y="27.6" width="0.9" height="0.9" fill="#636363"/>
<rect x="542.8" y="23.0" width="1.1" height="1.3" fill="#484848"/>
<rect x="718.4" y="38.8" width="1.5" height="1.8" fill="#5c5c5c"/>
<rect x="718.9" y="192.3" width="1.0" height="1.2" fill="#666666"/>
<rect x="597.5" y="10.5" width="1.4" height="1.7" fill="#5e5e5e"/>
<rect x="672.0" y="155.2" width="0.9" height="1.2" fill="#747474"/>
<rect x="592.0" y="165.5" width="1.6" height="1.5" fill="#505050"/>
<rect x="641.5" y="164.4" width="1.2" height="1.5" fill="#636363"/>
<rect x="596.2" y="191.1" width="1.0" height="1.2" fill="#5c5c5c"/>
<rect x="602.4" y="62.3" width="1.1" height="1.1" fill="#4b4b4b"/>
<rect x="604.2" y="54.2" width="1.3" height="1.2" fill="#424242"/>
<rect x="614.4" y="191.2" width="1.1" height="1.3" fill="#3f3f3f"/>
<rect x="637.9" y="28.8" width="1.6" height="1.8" fill="#404040"/>
<rect x="569.3" y="174.1" width="1.2" height="1.4" fill="#5e5e5e"/>
<rect x="661.7" y="67.9" width="1.1" height="1.2" fill="#5b5b5b"/>
<rect x="663.8" y="18.1" width="0.9" height="1.1" fill="#323232"/>
<rect x="556.6" y="158.7" width="1.2" height="1.4" fill="#757575"/>
<rect x="689.9" y="24.6" width="1.5" height="1.3" fill="#4d4d4d"/>
<rect x="692.4" y="52.1" width="1.4" height="1.4" fill="#333333"/>
<rect x="614.4" y="96.4" width="1.5" height="1.9" fill="#464646"/>
<rect x="553.8" y="203.0" width="1.1" height="1.4" fill="#616161"/>
<rect x="657.1" y="179.4" width="1.0" height="0.8" fill="#767676"/>
<rect x="656.2" y="173.4" width="1.4" height="1.6" fill="#656565"/>
<rect x="718.0" y="50.1" width="1.5" height="1.4" fill="#6a6a6a"/>
<rect x="614.0" y="93.6" width="1.0" height="1.2" fill="#6e6e6e"/>
<rect x="671.0" y="11.1" width="1.4" height="1.6" fill="#737373"/>
<rect x="706.9" y="201.4" width="1.4" height="1.3" fill="#666666"/>
<rect x="675.3" y="68.4" width="1.1" height="1.0" fill="#494949"/>
<rect x="529.6" y="34.9" width="1.1" height="0.9" fill="#414141"/>
<rect x="668.0" y="173.7" width="1.1" height="1.4" fill="#646464"/>
<rect x="527.9" y="121.8" width="1.3" height="1.6" fill="#3e3e3e"/>
<rect x="681.8" y="114.2" width="1.3" height="1.1" fill="#6c6c6c"/>
<rect x="695.9" y="111.8" width="1.1" height="1.2" fill="#444444"/>
<rect x="542.0" y="174.0" width="1.2" height="1.5" fill="#717171"/>
<rect x="679.5" y="26.3" width="1.1" height="1.4" fill="#5e5e5e"/>
<rect x="646.1" y="78.2" width="1.5" height="1.6" fill="#525252"/>
<rect x="612.3" y="199.5" width="1.3" height="1.5" fill="#3a3a3a"/>
<rect x="602.0" y="38.8" width="1.2" height="1.6" fill="#454545"/>
<rect x="565.5" y="116.0" width="0.9" height="1.0" fill="#474747"/>
<rect x="621.2" y="140.2" width="1.3" height="1.2" fill="#5d5d5d"/>
<rect x="705.4" y="137.8" width="0.9" height="0.8" fill="#6c6c6c"/>
<rect x="604.6" y="137.4" width="1.5" height="1.4" fill="#3e3e3e"/>
<rect x="624.3" y="144.2" width="1.2" height="1.6" fill="#636363"/>
<rect x="535.1" y="87.0" width="1.5" height="1.9" fill="#6b6b6b"/>
<rect x="588.9" y="55.2" width="1.4" height="1.6" fill="#6c6c6c"/>
<rect x="628.3" y="30.5" width="1.4" height="1.1" fill="#444444"/>
<rect x="522.4" y="74.1" width="1.2" height="1.2" fill="#585858"/>
<rect x="623.6" y="134.2" width="1.0" height="1.2" fill="#6a6a6a"/>
<rect x="683.2" y="119.9" width="1.3" height="1.4" fill="#6d6d6d"/>
<rect x="574.8" y="181.9" width="1.0" height="1.3" fill="#454545"/>
<rect x="612.2" y="35.3" width="1.5" height="1.2" fill="#5c5c5c"/>
<rect x="590.5" y="74.6" width="1.1" height="1.0" fill="#656565"/>
<rect x="538.6" y="180.7" width="1.3" height="1.6" fill="#535353"/>
<rect x="657.4" y="179.1" width="1.1" height="1.1" fill="#474747"/>
<rect x="615.3" y="122.7" width="1.0" height="1.3" fill="#5a5a5a"/>
<rect x="670.7" y="5.0" width="1.2" height="1.0" fill="#5e5e5e"/>
<rect x="718.8" y="165.8" width="1.3" height="1.4" fill="#565656"/>
<rect x="600.5" y="122.6" width="1.3" height="1.3" fill="#4a4a4a"/>
<rect x="533.7" y="129.7" width="1.1" height="0.9" fill="#454545"/>
<rect x="670.9" y="97.4" width="1.3" height="1.4" fill="#565656"/>
<rect x="593.6" y="57.4" width="1.4" height="1.3" fill="#656565"/>
<rect x="550.2" y="76.4" width="1.5" height="1.3" fill="#484848"/>
<rect x="607.4" y="106.8" width="1.3" height="1.3" fill="#484848"/>
<rect x="717.3" y="159.8" width="1.1" height="0.9" fill="#565656"/>
<rect x="716.6" y="57.5" width="1.5" height="1.4" fill="#414141"/>
<rect x="590.0" y="71.0" width="1.1" height="1.1" fill="#4e4e4e"/>
<rect x="544.2" y="133.1" width="1.4" height="1.2" fill="#424242"/>
<rect x="528.9" y="41.5" width="1.3" height="1.6" fill="#5e5e5e"/>
<rect x="684.8" y="36.7" width="1.1" height="0.9" fill="#404040"/>
<rect x="527.6" y="115.4" width="1.6" height="1.3" fill="#767676"/>
<rect x="571.5" y="76.3" width="1.5" height="1.5" fill="#393939"/>
<rect x="695.4" y="164.8" width="1.0" height="1.2" fill="#565656"/>
<rect x="546.8" y="181.3" width="1.4" height="1.3" fill="#4c4c4c"/>
<rect x="539.7" y="189.6" width="1.0" height="1.2" fill="#5b5b5b"/>
<rect x="641.8" y="167.8" width="1.1" height="1.0" fill="#616161"/>
<rect x="662.7" y="159.0" width="1.2" height="1.4" fill="#656565"/>
<rect x="525.0" y="47.6" width="1.0" height="1.3" fill="#626262"/>
<rect x="567.7" y="194.0" width="1.0" height="1.3" fill="#505050"/>
<rect x="578.2" y="180.4" width="0.9" height="1.1" fill="#464646"/>
<rect x="652.1" y="29.3" width="1.2" height="1.0" fill="#575757"/>
<rect x="707.1" y="9.2" width="1.5" height="1.7" fill="#636363"/>
<rect x="595.5" y="54.5" width="1.2" height="1.1" fill="#757575"/>
<rect x="616.8" y="128.4" width="1.6" height="2.0" fill="#636363"/>
<rect x="661.0" y="93.5" width="1.6" height="1.8" fill="#353535"/>
<rect x="524.9" y="22.4" width="0.9" height="1.1" fill="#515151"/>
<rect x="679.9" y="131.9" width="1.2" height="1.2" fill="#464646"/>
<rect x="587.5" y="109.7" width="1.4" height="1.7" fill="#383838"/>
<rect x="547.9" y="183.6" width="0.9" height="1.2" fill="#323232"/>
<rect x="587.3" y="84.4" width="1.4" height="1.6" fill="#383838"/>
<rect x="694.2" y="103.3" width="0.9" height="1.1" fill="#3d3d3d"/>
<rect x="561.1" y="149.2" width="1.3" height="1.5" fill="#686868"/>
<rect x="628.6" y="168.9" width="1.4" height="1.2" fill="#424242"/>
<rect x="638.7" y="122.1" width="1.4" height="1.8" fill="#464646"/>
<rect x="640.5" y="90.3" width="1.0" height="1.0" fill="#3f3f3f"/>
<rect x="657.9" y="88.8" width="1.5" height="1.8" fill="#484848"/>
<rect x="714.7" y="141.6" width="1.5" height="1.5" fill="#464646"/>
<rect x="598.2" y="86.5" width="1.6" height="2.0" fill="#494949"/>
<rect x="667.4" y="59.1" width="1.2" height="1.2" fill="#505050"/>
<rect x="710.0" y="134.8" width="1.2" height="1.2" fill="#5b5b5b"/>
<rect x="547.8" y="83.9" width="1.5" height="1.2" fill="#6a6a6a"/>
<rect x="648.5" y="161.6" width="1.3" height="1.3" fill="#757575"/>
<rect x="555.0" y="86.5" width="0.9" height="0.9" fill="#6e6e6e"/>
<rect x="653.4" y="107.3" width="1.3" height="1.5" fill="#4c4c4c"/>
<rect x="694.9" y="207.9" width="1.3" height="1.4" fill="#535353"/>
<rect x="712.3" y="72.1" width="0.9" height="1.1" fill="#555555"/>
<rect x="550.6" y="74.9" width="1.3" height="1.3" fill="#5e5e5e"/>
<rect x="672.1" y="173.6" width="1.4" height="1.2" fill="#6f6f6f"/>
<rect x="604.0" y="88.5" width="1.1" height="1.4" fill="#505050"/>
<rect x="669.6" y="43.0" width="1.4" height="1.3" fill="#606060"/>
<rect x="590.2" y="30.9" width="1.2" height="1.2" fill="#666666"/>
<rect x="583.7" y="54.3" width="1.6" height="1.6" fill="#434343"/>
<rect x="567.9" y="104.9" width="1.4" height="1.6" fill="#6f6f6f"/>
<rect x="706.5" y="63.4" width="1.4" height="1.3" fill="#4c4c4c"/>
<rect x="600.7" y="46.4" width="1.3" height="1.5" fill="#3d3d3d"/>
<rect x="667.7" y="8.4" width="1.2" height="1.3" fill="#606060"/>
<rect x="645.0" y="7.0" width="1.4" height="1.2" fill="#3c3c3c"/>
<rect x="671.2" y="93.2" width="1.0" height="1.0" fill="#3c3c3c"/>
<rect x="653.1" y="10.9" width="1.3" height="1.6" fill="#525252"/>
<rect x="606.4" y="37.7" width="1.3" height="1.1" fill="#383838"/>
<rect x="700.0" y="119.8" width="1.1" height="1.0" fill="#414141"/>
<rect x="604.3" y="90.4" width="1.6" height="1.6" fill="#535353"/>
<rect x="620.9" y="65.5" width="1.3" height="1.1" fill="#4d4d4d"/>
<rect x="595.9" y="163.4" width="1.0" height="1.2" fill="#5c5c5c"/>
<rect x="638.7" y="97.8" width="1.5" height="1.5" fill="#656565"/>
<rect x="522.2" y="192.0" width="1.2" height="1.0" fill="#484848"/>
<rect x="565.4" y="154.9" width="1.3" height="1.6" fill="#3d3d3d"/>
<rect x="677.9" y="22.9" width="1.3" height="1.3" fill="#494949"/>
<rect x="579.1" y="114.1" width="1.0" height="0.8" fill="#757575"/>
<rect x="718.0" y="9.4" width="1.2" height="1.5" fill="#454545"/>
<rect x="590.2" y="209.5" width="1.2" height="1.1" fill="#3a3a3a"/>
<rect x="534.9" y="104.3" width="1.0" height="0.9" fill="#414141"/>
<rect x="586.2" y="208.1" width="1.3" height="1.5" fill="#5e5e5e"/>
<rect x="607.3" y="139.7" width="0.9" height="1.1" fill="#575757"/>
<rect x="593.1" y="28.6" width="1.5" height="1.5" fill="#696969"/>
<rect x="545.1" y="82.5" width="1.2" height="1.5" fill="#444444"/>
<rect x="633.6" y="170.4" width="1.3" height="1.4" fill="#747474"/>
<rect x="621.3" y="104.1" width="1.5" height="1.6" fill="#5e5e5e"/>
<rect x="555.1" y="185.1" width="1.4" height="1.4" fill="#777777"/>
<rect x="562.4" y="15.0" width="1.1" height="1.0" fill="#555555"/>
<line x1="665.7" y1="43.1" x2="669.9" y2="45.3" stroke="#353535" stroke-width="0.7"/>
<line x1="678.5" y1="185.1" x2="681.5" y2="187.9" stroke="#636363" stroke-width="1.0"/>
<line x1="572.3" y1="189.4" x2="575.1" y2="192.6" stroke="#4d4d4d" stroke-width="0.7"/>
<line x1="543.7" y1="20.5" x2="544.4" y2="24.9" stroke="#525252" stroke-width="1.1"/>
<line x1="578.9" y1="32.7" x2="576.2" y2="33.2" stroke="#3f3f3f" stroke-width="0.7"/>
<line x1="535.8" y1="82.2" x2="539.3" y2="85.3" stroke="#5e5e5e" stroke-width="0.8"/>
<line x1="716.0" y1="128.7" x2="717.4" y2="131.0" stroke="#4d4d4d" stroke-width="0.9"/>
<line x1="611.7" y1="200.5" x2="612.6" y2="202.5" stroke="#5c5c5c" stroke-width="1.1"/>
<line x1="695.6" y1="82.1" x2="692.7" y2="83.1" stroke="#505050" stroke-width="1.1"/>
<line x1="546.2" y1="163.2" x2="542.0" y2="163.3" stroke="#3a3a3a" stroke-width="0.9"/>
<line x1="690.9" y1="97.5" x2="689.6" y2="99.5" stroke="#343434" stroke-width="0.8"/>
<line x1="719.3" y1="100.0" x2="714.5" y2="100.9" stroke="#323232" stroke-width="0.8"/>
<line x1="673.3" y1="40.2" x2="675.5" y2="40.8" stroke="#656565" stroke-width="1.1"/>
<line x1="694.8" y1="83.0" x2="694.5" y2="85.7" stroke="#2a2a2a" stroke-width="0.8"/>
<line x1="703.4" y1="207.5" x2="705.7" y2="209.5" stroke="#535353" stroke-width="1.1"/>
<line x1="634.6" y1="113.3" x2="632.1" y2="116.4" stroke="#3d3d3d" stroke-width="0.8"/>
<line x1="616.5" y1="100.4" x2="620.6" y2="103.2" stroke="#2a2a2a" stroke-width="0.9"/>
<line x1="715.4" y1="198.0" x2="713.0" y2="198.0" stroke="#686868" stroke-width="0.8"/>
<line x1="570.4" y1="44.7" x2="569.8" y2="48.1" stroke="#373737" stroke-width="0.9"/>
<line x1="626.8" y1="35.7" x2="630.4" y2="37.2" stroke="#484848" stroke-width="0.8"/>
<line x1="550.4" y1="121.8" x2="550.1" y2="126.2" stroke="#313131" stroke-width="0.8"/>
<line x1="694.2" y1="119.6" x2="695.2" y2="122.2" stroke="#323232" stroke-width="0.9"/>
<line x1="523.4" y1="165.0" x2="524.5" y2="167.3" stroke="#6c6c6c" stroke-width="0.7"/>
<line x1="589.9" y1="132.9" x2="586.6" y2="134.9" stroke="#616161" stroke-width="0.9"/>
<line x1="676.5" y1="53.0" x2="672.7" y2="55.2" stroke="#292929" stroke-width="1.0"/>
<line x1="592.0" y1="28.5" x2="593.6" y2="30.3" stroke="#616161" stroke-width="1.0"/>
<line x1="647.1" y1="76.9" x2="649.3" y2="78.6" stroke="#2d2d2d" stroke-width="0.9"/>
<line x1="650.7" y1="170.3" x2="646.8" y2="171.9" stroke="#505050" stroke-width="1.0"/>
<line x1="645.7" y1="138.1" x2="649.9" y2="139.4" stroke="#2a2a2a" stroke-width="0.8"/>
<line x1="601.5" y1="95.4" x2="600.5" y2="97.3" stroke="#545454" stroke-width="0.8"/>
<line x1="699.2" y1="58.9" x2="696.2" y2="59.0" stroke="#3a3a3a" stroke-width="0.8"/>
<line x1="533.0" y1="80.6" x2="534.6" y2="84.0" stroke="#4f4f4f" stroke-width="1.0"/>
<line x1="632.3" y1="208.8" x2="636.4" y2="209.8" stroke="#686868" stroke-width="1.0"/>
<line x1="674.6" y1="180.4" x2="678.0" y2="183.5" stroke="#444444" stroke-width="1.0"/>
<line x1="625.3" y1="161.8" x2="623.4" y2="164.5" stroke="#424242" stroke-width="0.8"/>
<line x1="648.2" y1="96.0" x2="648.8" y2="99.0" stroke="#434343" stroke-width="0.8"/>
<line x1="597.3" y1="119.8" x2="598.3" y2="122.0" stroke="#565656" stroke-width="0.8"/>
<line x1="679.0" y1="63.0" x2="679.5" y2="66.3" stroke="#3f3f3f" stroke-width="0.9"/>
<line x1="700.8" y1="194.7" x2="698.9" y2="196.1" stroke="#545454" stroke-width="0.9"/>
<line x1="562.7" y1="59.1" x2="565.7" y2="60.5" stroke="#656565" stroke-width="1.1"/>
<line x1="715.6" y1="19.5" x2="713.1" y2="19.8" stroke="#505050" stroke-width="0.8"/>
<line x1="666.0" y1="126.1" x2="662.1" y2="127.6" stroke="#393939" stroke-width="0.8"/>
<line x1="653.4" y1="202.1" x2="652.2" y2="205.5" stroke="#4b4b4b" stroke-width="0.7"/>
<line x1="699.5" y1="113.5" x2="702.0" y2="114.2" stroke="#474747" stroke-width="1.0"/>
<line x1="687.4" y1="170.7" x2="685.0" y2="175.0" stroke="#3b3b3b" stroke-width="0.8"/>
<line x1="635.2" y1="102.2" x2="632.6" y2="102.6" stroke="#2d2d2d" stroke-width="0.8"/>
<line x1="560.6" y1="109.4" x2="563.8" y2="112.1" stroke="#373737" stroke-width="1.0"/>
<line x1="701.6" y1="103.4" x2="700.2" y2="107.9" stroke="#4a4a4a" stroke-width="0.8"/>
<line x1="568.4" y1="80.5" x2="566.0" y2="84.7" stroke="#5d5d5d" stroke-width="1.1"/>
<line x1="690.1" y1="69.8" x2="692.7" y2="69.9" stroke="#575757" stroke-width="0.8"/>
<line x1="677.0" y1="175.3" x2="674.8" y2="176.6" stroke="#3e3e3e" stroke-width="0.9"/>
<line x1="690.3" y1="11.9" x2="692.2" y2="13.8" stroke="#626262" stroke-width="1.1"/>
<line x1="611.5" y1="27.4" x2="614.2" y2="31.0" stroke="#535353" stroke-width="1.1"/>
<line x1="673.7" y1="134.1" x2="673.5" y2="137.9" stroke="#4e4e4e" stroke-width="0.9"/>
<line x1="663.6" y1="192.8" x2="665.2" y2="194.2" stroke="#565656" stroke-width="1.0"/>
<line x1="635.3" y1="90.9" x2="634.2" y2="93.4" stroke="#2c2c2c" stroke-width="0.8"/>
<line x1="684.3" y1="113.0" x2="687.6" y2="115.0" stroke="#2d2d2d" stroke-width="1.0"/>
<line x1="546.7" y1="109.5" x2="547.8" y2="113.2" stroke="#3f3f3f" stroke-width="0.9"/>
<line x1="636.0" y1="24.4" x2="634.2" y2="26.9" stroke="#525252" stroke-width="0.8"/>
<line x1="626.7" y1="92.8" x2="628.7" y2="93.8" stroke="#5f5f5f" stroke-width="1.0"/>
<line x1="580.8" y1="87.0" x2="583.4" y2="87.4" stroke="#3b3b3b" stroke-width="0.8"/>
<line x1="601.5" y1="23.8" x2="602.2" y2="28.1" stroke="#292929" stroke-width="1.0"/>
<line x1="543.8" y1="143.4" x2="543.5" y2="146.7" stroke="#414141" stroke-width="1.0"/>
<line x1="580.6" y1="28.4" x2="578.4" y2="31.3" stroke="#383838" stroke-width="0.9"/>
<line x1="665.1" y1="27.6" x2="667.3" y2="31.5" stroke="#4b4b4b" stroke-width="0.8"/>
<line x1="677.7" y1="129.4" x2="679.3" y2="132.3" stroke="#5e5e5e" stroke-width="0.8"/>
<line x1="568.2" y1="10.8" x2="563.9" y2="12.7" stroke="#606060" stroke-width="1.1"/>
<line x1="607.3" y1="189.5" x2="609.9" y2="192.3" stroke="#414141" stroke-width="0.8"/>
<line x1="586.2" y1="59.9" x2="583.2" y2="60.5" stroke="#2c2c2c" stroke-width="0.9"/>
<line x1="673.3" y1="166.9" x2="671.6" y2="168.0" stroke="#3e3e3e" stroke-width="1.0"/>
<line x1="639.2" y1="174.1" x2="635.8" y2="177.4" stroke="#333333" stroke-width="0.8"/>
<line x1="579.1" y1="23.2" x2="581.3" y2="24.9" stroke="#6c6c6c" stroke-width="0.9"/>
<line x1="695.7" y1="201.0" x2="692.7" y2="204.4" stroke="#414141" stroke-width="0.8"/>
<line x1="604.4" y1="178.5" x2="604.3" y2="181.4" stroke="#5f5f5f" stroke-width="0.7"/>
<line x1="651.7" y1="9.3" x2="650.3" y2="11.7" stroke="#585858" stroke-width="1.1"/>
<line x1="652.1" y1="185.5" x2="655.4" y2="188.4" stroke="#6c6c6c" stroke-width="0.7"/>
<line x1="669.2" y1="88.0" x2="670.7" y2="90.4" stroke="#5b5b5b" stroke-width="1.1"/>
<line x1="615.7" y1="184.1" x2="613.0" y2="185.4" stroke="#6a6a6a" stroke-width="1.0"/>
<line x1="594.6" y1="61.2" x2="592.6" y2="62.5" stroke="#626262" stroke-width="0.8"/>
<line x1="550.8" y1="191.0" x2="550.7" y2="195.4" stroke="#292929" stroke-width="1.0"/>
<line x1="571.7" y1="108.8" x2="569.4" y2="110.0" stroke="#535353" stroke-width="0.7"/>
<line x1="655.4" y1="51.3" x2="658.4" y2="54.4" stroke="#4e4e4e" stroke-width="1.0"/>
<line x1="592.8" y1="28.5" x2="595.8" y2="29.2" stroke="#626262" stroke-width="0.8"/>
<line x1="523.6" y1="101.3" x2="521.9" y2="104.1" stroke="#484848" stroke-width="0.7"/>
<line x1="522.6" y1="204.3" x2="523.9" y2="207.8" stroke="#383838" stroke-width="1.0"/>
<line x1="683.7" y1="128.4" x2="685.2" y2="130.5" stroke="#646464" stroke-width="0.9"/>
<line x1="653.1" y1="7.5" x2="649.6" y2="8.9" stroke="#646464" stroke-width="1.0"/>
<line x1="596.8" y1="73.3" x2="597.7" y2="76.6" stroke="#545454" stroke-width="0.9"/>
<line x1="705.4" y1="204.1" x2="703.6" y2="206.9" stroke="#676767" stroke-width="1.1"/>
<line x1="612.0" y1="69.7" x2="614.0" y2="70.0" stroke="#4b4b4b" stroke-width="0.8"/>
<line x1="613.9" y1="179.9" x2="613.8" y2="182.8" stroke="#6a6a6a" stroke-width="0.9"/>
<line x1="682.2" y1="200.5" x2="684.3" y2="202.5" stroke="#5d5d5d" stroke-width="0.9"/>
<line x1="569.9" y1="65.9" x2="571.6" y2="69.5" stroke="#575757" stroke-width="0.8"/>
<line x1="575.2" y1="68.7" x2="578.9" y2="71.1" stroke="#333333" stroke-width="0.7"/>
<line x1="656.9" y1="183.3" x2="654.1" y2="183.4" stroke="#585858" stroke-width="0.9"/>
<line x1="611.9" y1="177.9" x2="609.4" y2="180.8" stroke="#353535" stroke-width="0.9"/>
<line x1="681.6" y1="65.1" x2="683.5" y2="67.2" stroke="#343434" stroke-width="0.8"/>
<line x1="572.0" y1="7.7" x2="573.0" y2="10.9" stroke="#535353" stroke-width="0.8"/>
<line x1="708.1" y1="35.7" x2="711.4" y2="36.7" stroke="#484848" stroke-width="0.8"/>
<line x1="610.6" y1="48.6" x2="609.1" y2="51.4" stroke="#3d3d3d" stroke-width="0.8"/>
<line x1="544.6" y1="87.1" x2="543.2" y2="89.3" stroke="#4a4a4a" stroke-width="0.8"/>
<line x1="650.3" y1="205.9" x2="650.8" y2="209.4" stroke="#535353" stroke-width="0.9"/>
<line x1="720.4" y1="112.5" x2="719.5" y2="114.5" stroke="#525252" stroke-width="0.9"/>
<line x1="649.8" y1="169.2" x2="652.1" y2="171.7" stroke="#2b2b2b" stroke-width="0.9"/>
<line x1="646.7" y1="9.5" x2="645.4" y2="14.1" stroke="#3b3b3b" stroke-width="0.9"/>
<line x1="662.1" y1="113.9" x2="659.3" y2="115.3" stroke="#5c5c5c" stroke-width="1.1"/>
<line x1="600.2" y1="123.9" x2="601.3" y2="125.9" stroke="#616161" stroke-width="1.1"/>
<line x1="693.2" y1="43.5" x2="691.7" y2="46.0" stroke="#686868" stroke-width="0.8"/>
<line x1="554.1" y1="65.9" x2="556.5" y2="67.7" stroke="#2f2f2f" stroke-width="0.8"/>
<line x1="698.3" y1="164.7" x2="697.3" y2="169.0" stroke="#4e4e4e" stroke-width="0.9"/>
<line x1="586.7" y1="42.9" x2="586.5" y2="45.0" stroke="#434343" stroke-width="0.9"/>
<line x1="707.8" y1="9.8" x2="706.0" y2="11.4" stroke="#484848" stroke-width="0.9"/>
<line x1="646.8" y1="165.2" x2="643.0" y2="167.8" stroke="#575757" stroke-width="0.9"/>
<line x1="558.4" y1="145.0" x2="555.7" y2="147.5" stroke="#303030" stroke-width="1.1"/>
<line x1="700.7" y1="29.1" x2="696.2" y2="30.5" stroke="#2b2b2b" stroke-width="0.8"/>
<line x1="625.3" y1="177.6" x2="629.3" y2="179.6" stroke="#616161" stroke-width="1.0"/>
<line x1="534.8" y1="190.8" x2="537.6" y2="191.8" stroke="#5a5a5a" stroke-width="1.0"/>
<line x1="715.9" y1="42.2" x2="717.7" y2="44.1" stroke="#686868" stroke-width="1.0"/>
<line x1="714.0" y1="173.2" x2="709.9" y2="175.9" stroke="#4c4c4c" stroke-width="1.0"/>
<line x1="617.4" y1="170.3" x2="618.9" y2="171.8" stroke="#353535" stroke-width="1.0"/>
<line x1="524.7" y1="114.8" x2="521.9" y2="118.7" stroke="#5b5b5b" stroke-width="0.8"/>
<line x1="615.2" y1="12.4" x2="618.6" y2="12.9" stroke="#3f3f3f" stroke-width="0.9"/>
<line x1="667.2" y1="59.9" x2="666.9" y2="64.2" stroke="#575757" stroke-width="1.0"/>
<line x1="719.3" y1="171.3" x2="715.4" y2="174.2" stroke="#5e5e5e" stroke-width="1.0"/>
<line x1="559.7" y1="84.2" x2="556.3" y2="84.6" stroke="#656565" stroke-width="1.0"/>
<line x1="608.5" y1="165.4" x2="607.6" y2="169.3" stroke="#383838" stroke-width="1.1"/>
<line x1="534.1" y1="104.8" x2="532.0" y2="108.2" stroke="#444444" stroke-width="0.8"/>
<line x1="587.1" y1="161.3" x2="582.4" y2="162.5" stroke="#454545" stroke-width="0.9"/>
<line x1="552.5" y1="52.3" x2="551.7" y2="54.4" stroke="#404040" stroke-width="0.8"/>
<line x1="604.1" y1="98.8" x2="601.9" y2="99.0" stroke="#313131" stroke-width="0.9"/>
<line x1="719.4" y1="24.0" x2="717.2" y2="25.5" stroke="#646464" stroke-width="1.0"/>
<line x1="681.1" y1="140.8" x2="684.2" y2="143.9" stroke="#626262" stroke-width="1.1"/>
<line x1="573.0" y1="151.4" x2="573.7" y2="153.6" stroke="#6e6e6e" stroke-width="1.0"/>
<line x1="568.4" y1="172.8" x2="565.3" y2="175.4" stroke="#5e5e5e" stroke-width="0.8"/>
<line x1="568.0" y1="101.3" x2="569.2" y2="103.0" stroke="#595959" stroke-width="0.8"/>
<line x1="588.7" y1="72.6" x2="592.2" y2="75.5" stroke="#656565" stroke-width="1.0"/>
<line x1="558.8" y1="108.4" x2="557.5" y2="111.6" stroke="#565656" stroke-width="1.0"/>
<line x1="529.1" y1="148.2" x2="528.8" y2="150.9" stroke="#2d2d2d" stroke-width="1.1"/>
<line x1="529.0" y1="23.4" x2="531.2" y2="23.9" stroke="#292929" stroke-width="1.1"/>
<line x1="615.7" y1="108.1" x2="620.6" y2="108.2" stroke="#585858" stroke-width="0.8"/>
<line x1="662.4" y1="113.3" x2="658.9" y2="116.3" stroke="#6c6c6c" stroke-width="0.8"/>
<line x1="711.3" y1="131.5" x2="709.1" y2="131.5" stroke="#414141" stroke-width="0.8"/>
<line x1="604.5" y1="156.2" x2="605.3" y2="159.6" stroke="#686868" stroke-width="0.9"/>
<line x1="584.2" y1="148.4" x2="587.3" y2="151.7" stroke="#666666" stroke-width="0.7"/>
<line x1="687.0" y1="132.4" x2="685.2" y2="135.6" stroke="#4e4e4e" stroke-width="0.8"/>
<line x1="590.3" y1="22.1" x2="587.4" y2="23.3" stroke="#393939" stroke-width="1.1"/>
<line x1="648.7" y1="98.2" x2="648.3" y2="102.2" stroke="#6b6b6b" stroke-width="0.8"/>
<line x1="707.0" y1="126.6" x2="703.5" y2="128.4" stroke="#282828" stroke-width="1.1"/>
<line x1="539.4" y1="74.7" x2="541.5" y2="76.2" stroke="#323232" stroke-width="1.1"/>
<line x1="666.5" y1="88.9" x2="668.1" y2="93.3" stroke="#565656" stroke-width="0.7"/>
<line x1="579.0" y1="101.9" x2="577.0" y2="103.5" stroke="#434343" stroke-width="1.1"/>
<line x1="552.8" y1="112.3" x2="553.7" y2="116.4" stroke="#414141" stroke-width="0.8"/>
<line x1="566.1" y1="39.8" x2="563.1" y2="42.4" stroke="#2b2b2b" stroke-width="1.1"/>
<line x1="596.7" y1="15.2" x2="599.5" y2="15.7" stroke="#636363" stroke-width="1.0"/>
<line x1="551.4" y1="27.3" x2="551.0" y2="29.7" stroke="#4f4f4f" stroke-width="1.1"/>
<line x1="692.0" y1="19.9" x2="691.3" y2="23.4" stroke="#444444" stroke-width="0.7"/>
<line x1="589.3" y1="42.8" x2="585.0" y2="44.9" stroke="#444444" stroke-width="0.8"/>
<line x1="704.6" y1="130.5" x2="704.7" y2="135.2" stroke="#3f3f3f" stroke-width="0.9"/>
<line x1="524.6" y1="63.6" x2="525.4" y2="65.8" stroke="#5b5b5b" stroke-width="0.9"/>
<line x1="631.9" y1="87.3" x2="631.1" y2="92.0" stroke="#5c5c5c" stroke-width="0.9"/>
<line x1="709.2" y1="84.2" x2="710.2" y2="87.9" stroke="#5b5b5b" stroke-width="0.9"/>
<line x1="568.2" y1="135.8" x2="570.1" y2="139.4" stroke="#2e2e2e" stroke-width="0.8"/>
<line x1="686.0" y1="8.0" x2="683.7" y2="9.4" stroke="#303030" stroke-width="0.9"/>
<line x1="555.2" y1="188.5" x2="556.9" y2="190.7" stroke="#6a6a6a" stroke-width="1.1"/>
<line x1="674.1" y1="63.2" x2="677.9" y2="64.3" stroke="#505050" stroke-width="1.0"/>
<line x1="690.6" y1="34.3" x2="691.0" y2="36.7" stroke="#505050" stroke-width="0.7"/>
<line x1="576.6" y1="91.5" x2="578.5" y2="95.9" stroke="#303030" stroke-width="0.8"/>
<line x1="549.4" y1="207.4" x2="549.0" y2="209.6" stroke="#4f4f4f" stroke-width="0.9"/>
<line x1="547.2" y1="155.5" x2="549.0" y2="158.6" stroke="#505050" stroke-width="1.0"/>
<line x1="620.3" y1="191.4" x2="621.1" y2="193.4" stroke="#414141" stroke-width="1.1"/>
<line x1="585.5" y1="200.6" x2="583.0" y2="207.6" stroke="#3d3d3d" stroke-width="0.8"/>
<line x1="702.3" y1="194.5" x2="702.7" y2="204.3" stroke="#494949" stroke-width="1.0"/>
<line x1="657.2" y1="142.2" x2="659.0" y2="150.4" stroke="#5d5d5d" stroke-width="0.7"/>
<line x1="585.6" y1="157.6" x2="586.5" y2="164.4" stroke="#555555" stroke-width="0.8"/>
<line x1="716.3" y1="63.0" x2="709.1" y2="65.5" stroke="#646464" stroke-width="0.8"/>
<line x1="634.0" y1="123.1" x2="636.3" y2="133.9" stroke="#565656" stroke-width="1.0"/>
<line x1="629.5" y1="147.6" x2="639.2" y2="149.0" stroke="#343434" stroke-width="0.8"/>
<line x1="583.6" y1="30.8" x2="579.1" y2="36.7" stroke="#4e4e4e" stroke-width="0.9"/>
<line x1="653.1" y1="173.9" x2="643.9" y2="179.2" stroke="#5d5d5d" stroke-width="0.8"/>
<line x1="661.7" y1="48.5" x2="658.7" y2="58.5" stroke="#4e4e4e" stroke-width="0.9"/>
<line x1="562.3" y1="204.8" x2="561.4" y2="215.5" stroke="#6b6b6b" stroke-width="0.8"/>
<line x1="529.9" y1="114.0" x2="534.2" y2="118.9" stroke="#555555" stroke-width="0.9"/>
<line x1="547.6" y1="204.9" x2="552.9" y2="208.5" stroke="#696969" stroke-width="0.8"/>
<line x1="533.0" y1="150.0" x2="537.7" y2="157.6" stroke="#6b6b6b" stroke-width="0.9"/>
<line x1="619.5" y1="169.4" x2="626.0" y2="173.2" stroke="#545454" stroke-width="0.9"/>
<line x1="527.3" y1="78.8" x2="526.3" y2="89.2" stroke="#3b3b3b" stroke-width="0.8"/>
<line x1="684.9" y1="53.8" x2="691.9" y2="57.1" stroke="#444444" stroke-width="0.9"/>
<line x1="623.6" y1="110.1" x2="632.6" y2="116.5" stroke="#565656" stroke-width="0.8"/>
</g>
</g>
<rect x="724.3" y="114.2" width="0.8" height="0.9" fill="#7f7f7f"/>
<rect x="724.6" y="76.3" width="0.8" height="1.0" fill="#595959"/>
<rect x="724.9" y="83.0" width="1.2" height="1.6" fill="#737373"/>
<rect x="721.9" y="21.3" width="0.9" height="1.0" fill="#7a7a7a"/>
<rect x="722.4" y="103.0" width="0.8" height="0.8" fill="#575757"/>
<rect x="724.4" y="39.9" width="1.3" height="1.6" fill="#6a6a6a"/>
<rect x="722.6" y="203.0" width="1.0" height="1.0" fill="#404040"/>
<rect x="724.1" y="189.7" width="1.2" height="1.3" fill="#505050"/>
<rect x="721.9" y="162.4" width="1.3" height="1.5" fill="#878787"/>
<rect x="723.8" y="39.8" width="1.0" height="1.2" fill="#7c7c7c"/>
<rect x="723.5" y="169.9" width="0.8" height="0.7" fill="#878787"/>
<rect x="720.6" y="179.7" width="0.8" height="1.0" fill="#5e5e5e"/>
<rect x="724.7" y="131.0" width="0.9" height="0.7" fill="#585858"/>
<rect x="724.1" y="119.4" width="0.7" height="0.7" fill="#3d3d3d"/>
<rect x="723.9" y="91.5" width="0.8" height="0.7" fill="#6d6d6d"/>
<rect x="55.0" y="2.3" width="205.5" height="207.29999999999998" fill="none" stroke="#1a1a1a" stroke-width="1.4"/>
<line x1="55.00" y1="209.6" x2="55.00" y2="212.6" stroke="#1a1a1a" stroke-width="0.9"/>
<text x="55.00" y="223.6" font-size="11.4" text-anchor="middle" fill="#3a3a3a" stroke="#3a3a3a" stroke-width="0.35" font-family="'DejaVu Sans', 'Liberation Sans', sans-serif">0</text>
<line x1="105.20" y1="209.6" x2="105.20" y2="212.6" stroke="#1a1a1a" stroke-width="0.9"/>
<text x="105.20" y="223.6" font-size="11.4" text-anchor="middle" fill="#3a3a3a" stroke="#3a3a3a" stroke-width="0.35" font-family="'DejaVu Sans', 'Liberation Sans', sans-serif">1000</text>
<line x1="155.40" y1="209.6" x2="155.40" y2="212.6" stroke="#1a1a1a" stroke-width="0.9"/>
<text x="155.40" y="223.6" font-size="11.4" text-anchor="middle" fill="#3a3a3a" stroke="#3a3a3a" stroke-width="0.35" font-family="'DejaVu Sans', 'Liberation Sans', sans-serif">2000</text>
<line x1="205.60" y1="209.6" x2="205.60" y2="212.6" stroke="#1a1a1a" stroke-width="0.9"/>
<text x="205.60" y="223.6" font-size="11.4" text-anchor="middle" fill="#3a3a3a" stroke="#3a3a3a" stroke-width="0.35" font-family="'DejaVu Sans', 'Liberation Sans', sans-serif">3000</text>
<line x1="255.80" y1="209.6" x2="255.80" y2="212.6" stroke="#1a1a1a" stroke-width="0.9"/>
<text x="255.80" y="223.6" font-size="11.4" text-anchor="middle" fill="#3a3a3a" stroke="#3a3a3a" stroke-width="0.35" font-family="'DejaVu Sans', 'Liberation Sans', sans-serif">4000</text>
<line x1="55.0" y1="209.60" x2="52.0" y2="209.60" stroke="#1a1a1a" stroke-width="0.9"/>
<line x1="55.0" y1="159.30" x2="52.0" y2="159.30" stroke="#1a1a1a" stroke-width="0.9"/>
<line x1="55.0" y1="109.00" x2="52.0" y2="109.00" stroke="#1a1a1a" stroke-width="0.9"/>
<line x1="55.0" y1="58.70" x2="52.0" y2="58.70" stroke="#1a1a1a" stroke-width="0.9"/>
<line x1="55.0" y1="8.40" x2="52.0" y2="8.40" stroke="#1a1a1a" stroke-width="0.9"/>
<text x="48.6" y="213.75" font-size="11.4" text-anchor="end" fill="#3a3a3a" stroke="#3a3a3a" stroke-width="0.35" font-family="'DejaVu Sans', 'Liberation Sans', sans-serif">0</text>
<text x="48.6" y="163.45" font-size="11.4" text-anchor="end" fill="#3a3a3a" stroke="#3a3a3a" stroke-width="0.35" font-family="'DejaVu Sans', 'Liberation Sans', sans-serif">1000</text>
<text x="48.6" y="113.15" font-size="11.4" text-anchor="end" fill="#3a3a3a" stroke="#3a3a3a" stroke-width="0.35" font-family="'DejaVu Sans', 'Liberation Sans', sans-serif">2000</text>
<text x="48.6" y="62.85" font-size="11.4" text-anchor="end" fill="#3a3a3a" stroke="#3a3a3a" stroke-width="0.35" font-family="'DejaVu Sans', 'Liberation Sans', sans-serif">3000</text>
<text x="48.6" y="12.55" font-size="11.4" text-anchor="end" fill="#3a3a3a" stroke="#3a3a3a" stroke-width="0.35" font-family="'DejaVu Sans', 'Liberation Sans', sans-serif">4000</text>
<rect x="287.0" y="2.3" width="205.7" height="207.29999999999998" fill="none" stroke="#1a1a1a" stroke-width="1.4"/>
<line x1="287.00" y1="209.6" x2="287.00" y2="212.6" stroke="#1a1a1a" stroke-width="0.9"/>
<text x="287.00" y="223.6" font-size="11.4" text-anchor="middle" fill="#3a3a3a" stroke="#3a3a3a" stroke-width="0.35" font-family="'DejaVu Sans', 'Liberation Sans', sans-serif">0</text>
<line x1="337.20" y1="209.6" x2="337.20" y2="212.6" stroke="#1a1a1a" stroke-width="0.9"/>
<text x="337.20" y="223.6" font-size="11.4" text-anchor="middle" fill="#3a3a3a" stroke="#3a3a3a" stroke-width="0.35" font-family="'DejaVu Sans', 'Liberation Sans', sans-serif">1000</text>
<line x1="387.40" y1="209.6" x2="387.40" y2="212.6" stroke="#1a1a1a" stroke-width="0.9"/>
<text x="387.40" y="223.6" font-size="11.4" text-anchor="middle" fill="#3a3a3a" stroke="#3a3a3a" stroke-width="0.35" font-family="'DejaVu Sans', 'Liberation Sans', sans-serif">2000</text>
<line x1="437.60" y1="209.6" x2="437.60" y2="212.6" stroke="#1a1a1a" stroke-width="0.9"/>
<text x="437.60" y="223.6" font-size="11.4" text-anchor="middle" fill="#3a3a3a" stroke="#3a3a3a" stroke-width="0.35" font-family="'DejaVu Sans', 'Liberation Sans', sans-serif">3000</text>
<line x1="487.80" y1="209.6" x2="487.80" y2="212.6" stroke="#1a1a1a" stroke-width="0.9"/>
<text x="487.80" y="223.6" font-size="11.4" text-anchor="middle" fill="#3a3a3a" stroke="#3a3a3a" stroke-width="0.35" font-family="'DejaVu Sans', 'Liberation Sans', sans-serif">4000</text>
<line x1="287.0" y1="209.60" x2="284.0" y2="209.60" stroke="#1a1a1a" stroke-width="0.9"/>
<line x1="287.0" y1="159.30" x2="284.0" y2="159.30" stroke="#1a1a1a" stroke-width="0.9"/>
<line x1="287.0" y1="109.00" x2="284.0" y2="109.00" stroke="#1a1a1a" stroke-width="0.9"/>
<line x1="287.0" y1="58.70" x2="284.0" y2="58.70" stroke="#1a1a1a" stroke-width="0.9"/>
<line x1="287.0" y1="8.40" x2="284.0" y2="8.40" stroke="#1a1a1a" stroke-width="0.9"/>
<rect x="519.0" y="2.3" width="206.2" height="207.29999999999998" fill="none" stroke="#1a1a1a" stroke-width="1.4"/>
<line x1="519.00" y1="209.6" x2="519.00" y2="212.6" stroke="#1a1a1a" stroke-width="0.9"/>
<text x="519.00" y="223.6" font-size="11.4" text-anchor="middle" fill="#3a3a3a" stroke="#3a3a3a" stroke-width="0.35" font-family="'DejaVu Sans', 'Liberation Sans', sans-serif">0</text>
<line x1="569.20" y1="209.6" x2="569.20" y2="212.6" stroke="#1a1a1a" stroke-width="0.9"/>
<text x="569.20" y="223.6" font-size="11.4" text-anchor="middle" fill="#3a3a3a" stroke="#3a3a3a" stroke-width="0.35" font-family="'DejaVu Sans', 'Liberation Sans', sans-serif">1000</text>
<line x1="619.40" y1="209.6" x2="619.40" y2="212.6" stroke="#1a1a1a" stroke-width="0.9"/>
<text x="619.40" y="223.6" font-size="11.4" text-anchor="middle" fill="#3a3a3a" stroke="#3a3a3a" stroke-width="0.35" font-family="'DejaVu Sans', 'Liberation Sans', sans-serif">2000</text>
<line x1="669.60" y1="209.6" x2="669.60" y2="212.6" stroke="#1a1a1a" stroke-width="0.9"/>
<text x="669.60" y="223.6" font-size="11.4" text-anchor="middle" fill="#3a3a3a" stroke="#3a3a3a" stroke-width="0.35" font-family="'DejaVu Sans', 'Liberation Sans', sans-serif">3000</text>
<line x1="719.80" y1="209.6" x2="719.80" y2="212.6" stroke="#1a1a1a" stroke-width="0.9"/>
<text x="719.80" y="223.6" font-size="11.4" text-anchor="middle" fill="#3a3a3a" stroke="#3a3a3a" stroke-width="0.35" font-family="'DejaVu Sans', 'Liberation Sans', sans-serif">4000</text>
<line x1="519.0" y1="209.60" x2="516.0" y2="209.60" stroke="#1a1a1a" stroke-width="0.9"/>
<line x1="519.0" y1="159.30" x2="516.0" y2="159.30" stroke="#1a1a1a" stroke-width="0.9"/>
<line x1="519.0" y1="109.00" x2="516.0" y2="109.00" stroke="#1a1a1a" stroke-width="0.9"/>
<line x1="519.0" y1="58.70" x2="516.0" y2="58.70" stroke="#1a1a1a" stroke-width="0.9"/>
<line x1="519.0" y1="8.40" x2="516.0" y2="8.40" stroke="#1a1a1a" stroke-width="0.9"/>
<text x="65.2" y="19.1" font-size="10.5" fill="#333" stroke="#333" stroke-width="0.25" font-family="'DejaVu Sans', 'Liberation Sans', sans-serif">Blue Channel</text>
<text x="297.8" y="19.1" font-size="10.5" fill="#333" stroke="#333" stroke-width="0.25" font-family="'DejaVu Sans', 'Liberation Sans', sans-serif">Red Channel</text>
<text x="530.1" y="19.1" font-size="10.5" fill="#333" stroke="#333" stroke-width="0.25" font-family="'DejaVu Sans', 'Liberation Sans', sans-serif">NIR Channel</text>
<text x="389.9" y="239.8" font-size="13.5" text-anchor="middle" fill="#3a3a3a" stroke="#3a3a3a" stroke-width="0.35" font-family="'DejaVu Sans', 'Liberation Sans', sans-serif">Fiber Direction [pixels]</text>
<text transform="translate(12.9,106) rotate(-90)" x="0" y="0" font-size="13.6" text-anchor="middle" fill="#3a3a3a" stroke="#3a3a3a" stroke-width="0.35" font-family="'DejaVu Sans', 'Liberation Sans', sans-serif">Dispersion Direction [pixels]</text>
</svg>
</body></html>
